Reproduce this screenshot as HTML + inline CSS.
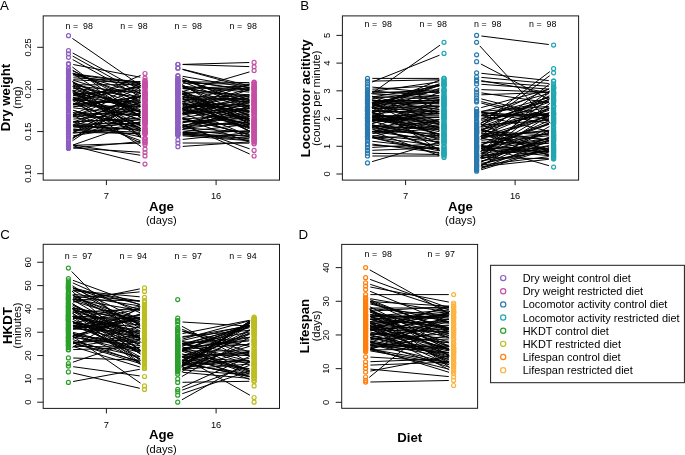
<!DOCTYPE html>
<html><head><meta charset="utf-8"><style>
html,body{margin:0;padding:0;background:#fff;width:685px;height:455px;overflow:hidden}
svg{display:block;will-change:transform}
text{font-family:"Liberation Sans", sans-serif}
</style></head><body><svg width="685" height="455" viewBox="0 0 685 455" font-family='"Liberation Sans", sans-serif'><path d="M72.4 38.4L141.1 85.9M72.9 104.8L140.6 75.4M73.2 145.9L140.3 162.9M72.7 53.0L140.8 90.1M72.7 56.1L140.8 93.9M72.7 59.6L140.8 97.0M73.0 115.8L140.5 140.7M73.3 121.8L140.2 118.1M73.3 148.0L140.2 152.2M72.7 70.3L140.8 106.6M73.3 87.8L140.2 97.3M73.2 135.7L140.3 125.7M73.0 73.1L140.5 98.6M73.1 74.0L140.4 92.8M73.3 115.4L140.2 110.4M73.3 130.1L140.2 122.2M73.0 86.0L140.5 112.2M73.2 115.3L140.3 99.6M73.3 103.4L140.2 111.5M72.5 140.7L141.0 95.4M73.2 99.4L140.3 115.9M73.3 129.3L140.2 132.3M73.1 80.2L140.4 100.6M73.1 97.1L140.4 114.7M73.1 99.1L140.4 119.6M73.0 132.5L140.5 106.0M73.3 117.1L140.2 109.8M72.9 82.5L140.6 112.9M73.2 122.0L140.3 136.9M73.3 124.2L140.2 123.2M72.5 100.0L141.0 146.5M73.3 94.0L140.2 103.1M72.9 97.2L140.6 125.4M72.4 67.1L141.1 117.9M73.3 106.1L140.2 106.3M73.2 106.9L140.3 96.5M73.3 79.7L140.2 83.4M73.3 121.4L140.2 119.8M72.5 73.4L141.0 117.8M73.1 88.1L140.4 109.6M73.2 90.1L140.3 105.9M73.0 145.0L140.5 121.6M72.8 70.9L140.7 102.8M72.9 114.7L140.6 83.4M73.3 128.0L140.2 122.8M73.3 112.7L140.2 115.3M72.7 132.7L140.8 95.4M72.2 81.3L141.3 137.8M73.2 64.5L140.3 77.2M73.0 122.2L140.5 96.8M73.3 73.8L140.2 82.3M72.7 92.9L140.8 128.6M73.3 74.4L140.2 83.3M73.3 132.2L140.2 133.6M73.3 125.2L140.2 130.3M73.1 83.3L140.4 104.5M72.8 125.2L140.7 93.2M73.3 103.4L140.2 101.1M72.7 98.9L140.8 136.7M73.2 101.2L140.3 86.1M73.3 93.8L140.2 90.6M73.3 119.1L140.2 113.2M73.1 110.4L140.4 127.8M73.1 91.4L140.4 111.1M73.3 130.3L140.2 134.0M73.3 84.9L140.2 84.6M73.1 110.2L140.4 131.5M73.3 114.0L140.2 123.4M72.4 139.0L141.1 90.5M72.5 90.6L141.0 135.7M73.2 145.0L140.3 155.2M73.3 104.8L140.2 97.2M73.2 95.4L140.3 107.3M72.5 86.4L141.0 130.7M72.9 116.7L140.6 87.6M73.1 99.0L140.4 81.5M73.3 77.8L140.2 81.8M73.2 75.7L140.3 86.2M73.3 85.7L140.2 93.2M72.9 84.8L140.6 115.3M73.3 133.3L140.2 124.3M72.8 137.6L140.7 102.0M73.3 126.2L140.2 129.3M72.9 112.4L140.6 142.8M72.7 91.8L140.8 128.9M73.0 103.2L140.5 130.1M73.3 126.4L140.2 119.7M73.3 147.9L140.2 141.6M73.0 126.2L140.5 102.1M73.0 94.0L140.5 120.2M73.3 99.4L140.2 105.1M72.8 90.5L140.7 125.7M72.9 81.9L140.6 111.6M73.3 95.5L140.2 86.6M73.3 107.8L140.2 115.8M73.3 145.3L140.2 143.1M73.2 99.6L140.3 87.2M73.0 137.3L140.5 113.2" stroke="#000" stroke-width="1.0" fill="none"/><circle cx="68.5" cy="35.7" r="2.0" fill="none" stroke="#8e5ec0" stroke-width="1.2"/><circle cx="68.5" cy="50.7" r="2.0" fill="none" stroke="#8e5ec0" stroke-width="1.2"/><circle cx="68.5" cy="53.8" r="2.0" fill="none" stroke="#8e5ec0" stroke-width="1.2"/><circle cx="68.5" cy="57.3" r="2.0" fill="none" stroke="#8e5ec0" stroke-width="1.2"/><circle cx="68.5" cy="63.7" r="2.0" fill="none" stroke="#8e5ec0" stroke-width="1.2"/><circle cx="68.5" cy="64.3" r="2.0" fill="none" stroke="#8e5ec0" stroke-width="1.2"/><circle cx="68.5" cy="68.0" r="2.0" fill="none" stroke="#8e5ec0" stroke-width="1.2"/><circle cx="68.5" cy="68.9" r="2.0" fill="none" stroke="#8e5ec0" stroke-width="1.2"/><circle cx="68.5" cy="70.7" r="2.0" fill="none" stroke="#8e5ec0" stroke-width="1.2"/><circle cx="68.5" cy="71.4" r="2.0" fill="none" stroke="#8e5ec0" stroke-width="1.2"/><circle cx="68.5" cy="72.7" r="2.0" fill="none" stroke="#8e5ec0" stroke-width="1.2"/><circle cx="68.5" cy="73.2" r="2.0" fill="none" stroke="#8e5ec0" stroke-width="1.2"/><circle cx="68.5" cy="73.8" r="2.0" fill="none" stroke="#8e5ec0" stroke-width="1.2"/><circle cx="68.5" cy="74.9" r="2.0" fill="none" stroke="#8e5ec0" stroke-width="1.2"/><circle cx="68.5" cy="77.5" r="2.0" fill="none" stroke="#8e5ec0" stroke-width="1.2"/><circle cx="68.5" cy="78.3" r="2.0" fill="none" stroke="#8e5ec0" stroke-width="1.2"/><circle cx="68.5" cy="78.8" r="2.0" fill="none" stroke="#8e5ec0" stroke-width="1.2"/><circle cx="68.5" cy="79.4" r="2.0" fill="none" stroke="#8e5ec0" stroke-width="1.2"/><circle cx="68.5" cy="80.0" r="2.0" fill="none" stroke="#8e5ec0" stroke-width="1.2"/><circle cx="68.5" cy="80.6" r="2.0" fill="none" stroke="#8e5ec0" stroke-width="1.2"/><circle cx="68.5" cy="81.8" r="2.0" fill="none" stroke="#8e5ec0" stroke-width="1.2"/><circle cx="68.5" cy="82.8" r="2.0" fill="none" stroke="#8e5ec0" stroke-width="1.2"/><circle cx="68.5" cy="83.8" r="2.0" fill="none" stroke="#8e5ec0" stroke-width="1.2"/><circle cx="68.5" cy="84.2" r="2.0" fill="none" stroke="#8e5ec0" stroke-width="1.2"/><circle cx="68.5" cy="84.9" r="2.0" fill="none" stroke="#8e5ec0" stroke-width="1.2"/><circle cx="68.5" cy="85.2" r="2.0" fill="none" stroke="#8e5ec0" stroke-width="1.2"/><circle cx="68.5" cy="86.6" r="2.0" fill="none" stroke="#8e5ec0" stroke-width="1.2"/><circle cx="68.5" cy="87.1" r="2.0" fill="none" stroke="#8e5ec0" stroke-width="1.2"/><circle cx="68.5" cy="88.0" r="2.0" fill="none" stroke="#8e5ec0" stroke-width="1.2"/><circle cx="68.5" cy="88.3" r="2.0" fill="none" stroke="#8e5ec0" stroke-width="1.2"/><circle cx="68.5" cy="89.0" r="2.0" fill="none" stroke="#8e5ec0" stroke-width="1.2"/><circle cx="68.5" cy="89.6" r="2.0" fill="none" stroke="#8e5ec0" stroke-width="1.2"/><circle cx="68.5" cy="90.1" r="2.0" fill="none" stroke="#8e5ec0" stroke-width="1.2"/><circle cx="68.5" cy="90.6" r="2.0" fill="none" stroke="#8e5ec0" stroke-width="1.2"/><circle cx="68.5" cy="92.2" r="2.0" fill="none" stroke="#8e5ec0" stroke-width="1.2"/><circle cx="68.5" cy="93.4" r="2.0" fill="none" stroke="#8e5ec0" stroke-width="1.2"/><circle cx="68.5" cy="94.1" r="2.0" fill="none" stroke="#8e5ec0" stroke-width="1.2"/><circle cx="68.5" cy="94.6" r="2.0" fill="none" stroke="#8e5ec0" stroke-width="1.2"/><circle cx="68.5" cy="95.3" r="2.0" fill="none" stroke="#8e5ec0" stroke-width="1.2"/><circle cx="68.5" cy="95.9" r="2.0" fill="none" stroke="#8e5ec0" stroke-width="1.2"/><circle cx="68.5" cy="96.1" r="2.0" fill="none" stroke="#8e5ec0" stroke-width="1.2"/><circle cx="68.5" cy="96.6" r="2.0" fill="none" stroke="#8e5ec0" stroke-width="1.2"/><circle cx="68.5" cy="97.3" r="2.0" fill="none" stroke="#8e5ec0" stroke-width="1.2"/><circle cx="68.5" cy="97.7" r="2.0" fill="none" stroke="#8e5ec0" stroke-width="1.2"/><circle cx="68.5" cy="98.3" r="2.0" fill="none" stroke="#8e5ec0" stroke-width="1.2"/><circle cx="68.5" cy="99.0" r="2.0" fill="none" stroke="#8e5ec0" stroke-width="1.2"/><circle cx="68.5" cy="100.2" r="2.0" fill="none" stroke="#8e5ec0" stroke-width="1.2"/><circle cx="68.5" cy="100.5" r="2.0" fill="none" stroke="#8e5ec0" stroke-width="1.2"/><circle cx="68.5" cy="101.4" r="2.0" fill="none" stroke="#8e5ec0" stroke-width="1.2"/><circle cx="68.5" cy="102.2" r="2.0" fill="none" stroke="#8e5ec0" stroke-width="1.2"/><circle cx="68.5" cy="102.9" r="2.0" fill="none" stroke="#8e5ec0" stroke-width="1.2"/><circle cx="68.5" cy="103.6" r="2.0" fill="none" stroke="#8e5ec0" stroke-width="1.2"/><circle cx="68.5" cy="105.4" r="2.0" fill="none" stroke="#8e5ec0" stroke-width="1.2"/><circle cx="68.5" cy="106.1" r="2.0" fill="none" stroke="#8e5ec0" stroke-width="1.2"/><circle cx="68.5" cy="106.7" r="2.0" fill="none" stroke="#8e5ec0" stroke-width="1.2"/><circle cx="68.5" cy="107.3" r="2.0" fill="none" stroke="#8e5ec0" stroke-width="1.2"/><circle cx="68.5" cy="107.6" r="2.0" fill="none" stroke="#8e5ec0" stroke-width="1.2"/><circle cx="68.5" cy="108.8" r="2.0" fill="none" stroke="#8e5ec0" stroke-width="1.2"/><circle cx="68.5" cy="109.2" r="2.0" fill="none" stroke="#8e5ec0" stroke-width="1.2"/><circle cx="68.5" cy="110.4" r="2.0" fill="none" stroke="#8e5ec0" stroke-width="1.2"/><circle cx="68.5" cy="112.5" r="2.0" fill="none" stroke="#8e5ec0" stroke-width="1.2"/><circle cx="68.5" cy="113.3" r="2.0" fill="none" stroke="#8e5ec0" stroke-width="1.2"/><circle cx="68.5" cy="114.2" r="2.0" fill="none" stroke="#8e5ec0" stroke-width="1.2"/><circle cx="68.5" cy="115.8" r="2.0" fill="none" stroke="#8e5ec0" stroke-width="1.2"/><circle cx="68.5" cy="116.4" r="2.0" fill="none" stroke="#8e5ec0" stroke-width="1.2"/><circle cx="68.5" cy="116.8" r="2.0" fill="none" stroke="#8e5ec0" stroke-width="1.2"/><circle cx="68.5" cy="117.6" r="2.0" fill="none" stroke="#8e5ec0" stroke-width="1.2"/><circle cx="68.5" cy="118.6" r="2.0" fill="none" stroke="#8e5ec0" stroke-width="1.2"/><circle cx="68.5" cy="119.5" r="2.0" fill="none" stroke="#8e5ec0" stroke-width="1.2"/><circle cx="68.5" cy="120.9" r="2.0" fill="none" stroke="#8e5ec0" stroke-width="1.2"/><circle cx="68.5" cy="121.5" r="2.0" fill="none" stroke="#8e5ec0" stroke-width="1.2"/><circle cx="68.5" cy="122.1" r="2.0" fill="none" stroke="#8e5ec0" stroke-width="1.2"/><circle cx="68.5" cy="123.8" r="2.0" fill="none" stroke="#8e5ec0" stroke-width="1.2"/><circle cx="68.5" cy="124.3" r="2.0" fill="none" stroke="#8e5ec0" stroke-width="1.2"/><circle cx="68.5" cy="124.8" r="2.0" fill="none" stroke="#8e5ec0" stroke-width="1.2"/><circle cx="68.5" cy="126.0" r="2.0" fill="none" stroke="#8e5ec0" stroke-width="1.2"/><circle cx="68.5" cy="126.9" r="2.0" fill="none" stroke="#8e5ec0" stroke-width="1.2"/><circle cx="68.5" cy="127.2" r="2.0" fill="none" stroke="#8e5ec0" stroke-width="1.2"/><circle cx="68.5" cy="127.8" r="2.0" fill="none" stroke="#8e5ec0" stroke-width="1.2"/><circle cx="68.5" cy="128.3" r="2.0" fill="none" stroke="#8e5ec0" stroke-width="1.2"/><circle cx="68.5" cy="129.1" r="2.0" fill="none" stroke="#8e5ec0" stroke-width="1.2"/><circle cx="68.5" cy="130.1" r="2.0" fill="none" stroke="#8e5ec0" stroke-width="1.2"/><circle cx="68.5" cy="130.7" r="2.0" fill="none" stroke="#8e5ec0" stroke-width="1.2"/><circle cx="68.5" cy="132.1" r="2.0" fill="none" stroke="#8e5ec0" stroke-width="1.2"/><circle cx="68.5" cy="133.9" r="2.0" fill="none" stroke="#8e5ec0" stroke-width="1.2"/><circle cx="68.5" cy="134.3" r="2.0" fill="none" stroke="#8e5ec0" stroke-width="1.2"/><circle cx="68.5" cy="135.1" r="2.0" fill="none" stroke="#8e5ec0" stroke-width="1.2"/><circle cx="68.5" cy="136.4" r="2.0" fill="none" stroke="#8e5ec0" stroke-width="1.2"/><circle cx="68.5" cy="138.9" r="2.0" fill="none" stroke="#8e5ec0" stroke-width="1.2"/><circle cx="68.5" cy="139.8" r="2.0" fill="none" stroke="#8e5ec0" stroke-width="1.2"/><circle cx="68.5" cy="141.7" r="2.0" fill="none" stroke="#8e5ec0" stroke-width="1.2"/><circle cx="68.5" cy="143.4" r="2.0" fill="none" stroke="#8e5ec0" stroke-width="1.2"/><circle cx="68.5" cy="144.3" r="2.0" fill="none" stroke="#8e5ec0" stroke-width="1.2"/><circle cx="68.5" cy="144.7" r="2.0" fill="none" stroke="#8e5ec0" stroke-width="1.2"/><circle cx="68.5" cy="145.4" r="2.0" fill="none" stroke="#8e5ec0" stroke-width="1.2"/><circle cx="68.5" cy="146.6" r="2.0" fill="none" stroke="#8e5ec0" stroke-width="1.2"/><circle cx="68.5" cy="147.7" r="2.0" fill="none" stroke="#8e5ec0" stroke-width="1.2"/><circle cx="68.5" cy="148.4" r="2.0" fill="none" stroke="#8e5ec0" stroke-width="1.2"/><circle cx="145.0" cy="73.5" r="2.0" fill="none" stroke="#c54fa5" stroke-width="1.2"/><circle cx="145.0" cy="149.2" r="2.0" fill="none" stroke="#c54fa5" stroke-width="1.2"/><circle cx="145.0" cy="152.5" r="2.0" fill="none" stroke="#c54fa5" stroke-width="1.2"/><circle cx="145.0" cy="155.9" r="2.0" fill="none" stroke="#c54fa5" stroke-width="1.2"/><circle cx="145.0" cy="164.1" r="2.0" fill="none" stroke="#c54fa5" stroke-width="1.2"/><circle cx="145.0" cy="78.1" r="2.0" fill="none" stroke="#c54fa5" stroke-width="1.2"/><circle cx="145.0" cy="80.3" r="2.0" fill="none" stroke="#c54fa5" stroke-width="1.2"/><circle cx="145.0" cy="81.4" r="2.0" fill="none" stroke="#c54fa5" stroke-width="1.2"/><circle cx="145.0" cy="82.0" r="2.0" fill="none" stroke="#c54fa5" stroke-width="1.2"/><circle cx="145.0" cy="82.9" r="2.0" fill="none" stroke="#c54fa5" stroke-width="1.2"/><circle cx="145.0" cy="83.7" r="2.0" fill="none" stroke="#c54fa5" stroke-width="1.2"/><circle cx="145.0" cy="83.9" r="2.0" fill="none" stroke="#c54fa5" stroke-width="1.2"/><circle cx="145.0" cy="84.6" r="2.0" fill="none" stroke="#c54fa5" stroke-width="1.2"/><circle cx="145.0" cy="85.0" r="2.0" fill="none" stroke="#c54fa5" stroke-width="1.2"/><circle cx="145.0" cy="85.7" r="2.0" fill="none" stroke="#c54fa5" stroke-width="1.2"/><circle cx="145.0" cy="86.0" r="2.0" fill="none" stroke="#c54fa5" stroke-width="1.2"/><circle cx="145.0" cy="86.4" r="2.0" fill="none" stroke="#c54fa5" stroke-width="1.2"/><circle cx="145.0" cy="86.9" r="2.0" fill="none" stroke="#c54fa5" stroke-width="1.2"/><circle cx="145.0" cy="87.7" r="2.0" fill="none" stroke="#c54fa5" stroke-width="1.2"/><circle cx="145.0" cy="88.6" r="2.0" fill="none" stroke="#c54fa5" stroke-width="1.2"/><circle cx="145.0" cy="90.4" r="2.0" fill="none" stroke="#c54fa5" stroke-width="1.2"/><circle cx="145.0" cy="91.2" r="2.0" fill="none" stroke="#c54fa5" stroke-width="1.2"/><circle cx="145.0" cy="92.4" r="2.0" fill="none" stroke="#c54fa5" stroke-width="1.2"/><circle cx="145.0" cy="92.8" r="2.0" fill="none" stroke="#c54fa5" stroke-width="1.2"/><circle cx="145.0" cy="93.1" r="2.0" fill="none" stroke="#c54fa5" stroke-width="1.2"/><circle cx="145.0" cy="93.8" r="2.0" fill="none" stroke="#c54fa5" stroke-width="1.2"/><circle cx="145.0" cy="94.1" r="2.0" fill="none" stroke="#c54fa5" stroke-width="1.2"/><circle cx="145.0" cy="95.1" r="2.0" fill="none" stroke="#c54fa5" stroke-width="1.2"/><circle cx="145.0" cy="95.8" r="2.0" fill="none" stroke="#c54fa5" stroke-width="1.2"/><circle cx="145.0" cy="96.2" r="2.0" fill="none" stroke="#c54fa5" stroke-width="1.2"/><circle cx="145.0" cy="96.6" r="2.0" fill="none" stroke="#c54fa5" stroke-width="1.2"/><circle cx="145.0" cy="98.0" r="2.0" fill="none" stroke="#c54fa5" stroke-width="1.2"/><circle cx="145.0" cy="98.5" r="2.0" fill="none" stroke="#c54fa5" stroke-width="1.2"/><circle cx="145.0" cy="99.3" r="2.0" fill="none" stroke="#c54fa5" stroke-width="1.2"/><circle cx="145.0" cy="99.7" r="2.0" fill="none" stroke="#c54fa5" stroke-width="1.2"/><circle cx="145.0" cy="100.3" r="2.0" fill="none" stroke="#c54fa5" stroke-width="1.2"/><circle cx="145.0" cy="100.5" r="2.0" fill="none" stroke="#c54fa5" stroke-width="1.2"/><circle cx="145.0" cy="100.9" r="2.0" fill="none" stroke="#c54fa5" stroke-width="1.2"/><circle cx="145.0" cy="102.0" r="2.0" fill="none" stroke="#c54fa5" stroke-width="1.2"/><circle cx="145.0" cy="103.8" r="2.0" fill="none" stroke="#c54fa5" stroke-width="1.2"/><circle cx="145.0" cy="104.2" r="2.0" fill="none" stroke="#c54fa5" stroke-width="1.2"/><circle cx="145.0" cy="104.8" r="2.0" fill="none" stroke="#c54fa5" stroke-width="1.2"/><circle cx="145.0" cy="105.5" r="2.0" fill="none" stroke="#c54fa5" stroke-width="1.2"/><circle cx="145.0" cy="105.9" r="2.0" fill="none" stroke="#c54fa5" stroke-width="1.2"/><circle cx="145.0" cy="106.3" r="2.0" fill="none" stroke="#c54fa5" stroke-width="1.2"/><circle cx="145.0" cy="107.0" r="2.0" fill="none" stroke="#c54fa5" stroke-width="1.2"/><circle cx="145.0" cy="108.1" r="2.0" fill="none" stroke="#c54fa5" stroke-width="1.2"/><circle cx="145.0" cy="108.9" r="2.0" fill="none" stroke="#c54fa5" stroke-width="1.2"/><circle cx="145.0" cy="109.3" r="2.0" fill="none" stroke="#c54fa5" stroke-width="1.2"/><circle cx="145.0" cy="110.1" r="2.0" fill="none" stroke="#c54fa5" stroke-width="1.2"/><circle cx="145.0" cy="111.1" r="2.0" fill="none" stroke="#c54fa5" stroke-width="1.2"/><circle cx="145.0" cy="111.6" r="2.0" fill="none" stroke="#c54fa5" stroke-width="1.2"/><circle cx="145.0" cy="112.1" r="2.0" fill="none" stroke="#c54fa5" stroke-width="1.2"/><circle cx="145.0" cy="112.5" r="2.0" fill="none" stroke="#c54fa5" stroke-width="1.2"/><circle cx="145.0" cy="112.8" r="2.0" fill="none" stroke="#c54fa5" stroke-width="1.2"/><circle cx="145.0" cy="113.6" r="2.0" fill="none" stroke="#c54fa5" stroke-width="1.2"/><circle cx="145.0" cy="113.9" r="2.0" fill="none" stroke="#c54fa5" stroke-width="1.2"/><circle cx="145.0" cy="114.8" r="2.0" fill="none" stroke="#c54fa5" stroke-width="1.2"/><circle cx="145.0" cy="115.4" r="2.0" fill="none" stroke="#c54fa5" stroke-width="1.2"/><circle cx="145.0" cy="115.9" r="2.0" fill="none" stroke="#c54fa5" stroke-width="1.2"/><circle cx="145.0" cy="116.3" r="2.0" fill="none" stroke="#c54fa5" stroke-width="1.2"/><circle cx="145.0" cy="117.0" r="2.0" fill="none" stroke="#c54fa5" stroke-width="1.2"/><circle cx="145.0" cy="117.3" r="2.0" fill="none" stroke="#c54fa5" stroke-width="1.2"/><circle cx="145.0" cy="117.9" r="2.0" fill="none" stroke="#c54fa5" stroke-width="1.2"/><circle cx="145.0" cy="119.2" r="2.0" fill="none" stroke="#c54fa5" stroke-width="1.2"/><circle cx="145.0" cy="119.7" r="2.0" fill="none" stroke="#c54fa5" stroke-width="1.2"/><circle cx="145.0" cy="120.0" r="2.0" fill="none" stroke="#c54fa5" stroke-width="1.2"/><circle cx="145.0" cy="120.4" r="2.0" fill="none" stroke="#c54fa5" stroke-width="1.2"/><circle cx="145.0" cy="120.7" r="2.0" fill="none" stroke="#c54fa5" stroke-width="1.2"/><circle cx="145.0" cy="121.0" r="2.0" fill="none" stroke="#c54fa5" stroke-width="1.2"/><circle cx="145.0" cy="121.6" r="2.0" fill="none" stroke="#c54fa5" stroke-width="1.2"/><circle cx="145.0" cy="122.0" r="2.0" fill="none" stroke="#c54fa5" stroke-width="1.2"/><circle cx="145.0" cy="122.4" r="2.0" fill="none" stroke="#c54fa5" stroke-width="1.2"/><circle cx="145.0" cy="123.1" r="2.0" fill="none" stroke="#c54fa5" stroke-width="1.2"/><circle cx="145.0" cy="123.6" r="2.0" fill="none" stroke="#c54fa5" stroke-width="1.2"/><circle cx="145.0" cy="124.1" r="2.0" fill="none" stroke="#c54fa5" stroke-width="1.2"/><circle cx="145.0" cy="125.0" r="2.0" fill="none" stroke="#c54fa5" stroke-width="1.2"/><circle cx="145.0" cy="127.2" r="2.0" fill="none" stroke="#c54fa5" stroke-width="1.2"/><circle cx="145.0" cy="127.9" r="2.0" fill="none" stroke="#c54fa5" stroke-width="1.2"/><circle cx="145.0" cy="129.0" r="2.0" fill="none" stroke="#c54fa5" stroke-width="1.2"/><circle cx="145.0" cy="129.5" r="2.0" fill="none" stroke="#c54fa5" stroke-width="1.2"/><circle cx="145.0" cy="130.7" r="2.0" fill="none" stroke="#c54fa5" stroke-width="1.2"/><circle cx="145.0" cy="130.9" r="2.0" fill="none" stroke="#c54fa5" stroke-width="1.2"/><circle cx="145.0" cy="131.2" r="2.0" fill="none" stroke="#c54fa5" stroke-width="1.2"/><circle cx="145.0" cy="131.8" r="2.0" fill="none" stroke="#c54fa5" stroke-width="1.2"/><circle cx="145.0" cy="132.6" r="2.0" fill="none" stroke="#c54fa5" stroke-width="1.2"/><circle cx="145.0" cy="132.9" r="2.0" fill="none" stroke="#c54fa5" stroke-width="1.2"/><circle cx="145.0" cy="133.3" r="2.0" fill="none" stroke="#c54fa5" stroke-width="1.2"/><circle cx="145.0" cy="133.7" r="2.0" fill="none" stroke="#c54fa5" stroke-width="1.2"/><circle cx="145.0" cy="134.2" r="2.0" fill="none" stroke="#c54fa5" stroke-width="1.2"/><circle cx="145.0" cy="138.0" r="2.0" fill="none" stroke="#c54fa5" stroke-width="1.2"/><circle cx="145.0" cy="138.4" r="2.0" fill="none" stroke="#c54fa5" stroke-width="1.2"/><circle cx="145.0" cy="139.1" r="2.0" fill="none" stroke="#c54fa5" stroke-width="1.2"/><circle cx="145.0" cy="140.8" r="2.0" fill="none" stroke="#c54fa5" stroke-width="1.2"/><circle cx="145.0" cy="141.1" r="2.0" fill="none" stroke="#c54fa5" stroke-width="1.2"/><circle cx="145.0" cy="142.4" r="2.0" fill="none" stroke="#c54fa5" stroke-width="1.2"/><circle cx="145.0" cy="143.0" r="2.0" fill="none" stroke="#c54fa5" stroke-width="1.2"/><circle cx="145.0" cy="144.8" r="2.0" fill="none" stroke="#c54fa5" stroke-width="1.2"/><path d="M182.7 64.5L249.3 66.6M182.7 64.4L249.3 62.5M182.6 69.2L249.4 85.9M182.5 91.6L249.5 71.9M182.7 146.4L249.3 141.9M182.7 143.0L249.3 143.2M182.3 123.9L249.7 154.0M182.7 139.4L249.3 132.6M182.5 109.8L249.5 88.0M182.7 99.0L249.3 98.3M182.6 114.1L249.4 101.4M182.4 127.1L249.6 101.0M182.7 81.7L249.3 82.6M182.6 125.7L249.4 110.9M182.3 78.0L249.7 106.9M182.6 76.3L249.4 88.0M182.7 106.7L249.3 106.0M182.5 110.2L249.5 127.4M182.7 119.6L249.3 126.7M182.6 80.2L249.4 90.8M182.6 109.6L249.4 123.7M182.7 111.4L249.3 103.2M182.7 129.6L249.3 136.6M182.6 108.9L249.4 124.8M182.7 119.1L249.3 114.3M182.7 88.6L249.3 85.9M182.3 108.2L249.7 135.9M182.6 101.2L249.4 111.9M182.4 125.7L249.6 148.8M182.7 87.6L249.3 89.3M182.3 94.4L249.7 123.6M182.7 122.4L249.3 115.6M182.7 134.4L249.3 135.9M182.6 118.8L249.4 134.3M182.6 115.1L249.4 105.1M182.7 103.9L249.3 111.3M182.7 127.9L249.3 132.1M182.7 121.2L249.3 126.1M182.7 133.8L249.3 140.2M182.6 118.1L249.4 134.4M182.3 91.3L249.7 121.2M182.6 99.2L249.4 114.3M182.7 88.6L249.3 96.5M182.7 83.2L249.3 84.3M182.7 129.0L249.3 119.8M182.7 125.3L249.3 116.5M182.3 85.8L249.7 116.5M182.7 133.7L249.3 130.8M182.5 113.0L249.5 95.7M182.3 91.0L249.7 118.4M182.6 117.5L249.4 107.7M182.7 107.6L249.3 100.6M182.7 94.5L249.3 102.2M182.4 80.0L249.6 102.7M182.4 108.7L249.6 83.9M182.6 114.2L249.4 97.4M182.5 69.5L249.5 87.9M182.7 121.9L249.3 118.3M182.6 122.7L249.4 108.7M182.7 99.7L249.3 99.7M182.4 113.4L249.6 137.3M182.7 104.0L249.3 105.0M182.4 94.0L249.6 120.7M182.5 104.2L249.5 126.1M182.7 131.9L249.3 124.2M182.4 81.8L249.6 107.8M182.7 113.5L249.3 111.0M182.7 112.6L249.3 108.6M182.7 93.8L249.3 87.8M182.4 102.9L249.6 128.0M182.7 81.1L249.3 89.6M182.7 92.0L249.3 94.7M182.6 108.6L249.4 94.5M182.4 118.3L249.6 142.2M182.3 92.9L249.7 120.2M182.7 135.8L249.3 140.7M182.7 97.5L249.3 95.9M182.5 111.1L249.5 89.7M182.6 105.3L249.4 120.0M182.6 103.1L249.4 118.4M182.4 129.6L249.6 105.5M182.3 101.4L249.7 131.1M182.7 132.3L249.3 138.9M182.6 127.4L249.4 112.2M182.7 86.2L249.3 92.1M182.7 126.8L249.3 122.1M182.6 96.2L249.4 111.2M182.7 135.0L249.3 138.0M182.6 101.4L249.4 84.4M182.1 93.1L249.9 131.4M182.5 80.2L249.5 99.5M182.0 84.5L250.0 124.4M182.2 98.0L249.8 131.3M182.6 87.0L249.4 100.6M182.5 86.7L249.5 108.9M182.4 96.4L249.6 122.3M182.5 106.8L249.5 128.7M182.7 132.7L249.3 131.1" stroke="#000" stroke-width="1.0" fill="none"/><circle cx="177.9" cy="64.3" r="2.0" fill="none" stroke="#8e5ec0" stroke-width="1.2"/><circle cx="177.9" cy="64.5" r="2.0" fill="none" stroke="#8e5ec0" stroke-width="1.2"/><circle cx="177.9" cy="68.0" r="2.0" fill="none" stroke="#8e5ec0" stroke-width="1.2"/><circle cx="177.9" cy="68.2" r="2.0" fill="none" stroke="#8e5ec0" stroke-width="1.2"/><circle cx="177.9" cy="139.9" r="2.0" fill="none" stroke="#8e5ec0" stroke-width="1.2"/><circle cx="177.9" cy="143.0" r="2.0" fill="none" stroke="#8e5ec0" stroke-width="1.2"/><circle cx="177.9" cy="146.7" r="2.0" fill="none" stroke="#8e5ec0" stroke-width="1.2"/><circle cx="177.9" cy="75.5" r="2.0" fill="none" stroke="#8e5ec0" stroke-width="1.2"/><circle cx="177.9" cy="76.1" r="2.0" fill="none" stroke="#8e5ec0" stroke-width="1.2"/><circle cx="177.9" cy="78.5" r="2.0" fill="none" stroke="#8e5ec0" stroke-width="1.2"/><circle cx="177.9" cy="78.9" r="2.0" fill="none" stroke="#8e5ec0" stroke-width="1.2"/><circle cx="177.9" cy="79.5" r="2.0" fill="none" stroke="#8e5ec0" stroke-width="1.2"/><circle cx="177.9" cy="80.1" r="2.0" fill="none" stroke="#8e5ec0" stroke-width="1.2"/><circle cx="177.9" cy="80.5" r="2.0" fill="none" stroke="#8e5ec0" stroke-width="1.2"/><circle cx="177.9" cy="81.7" r="2.0" fill="none" stroke="#8e5ec0" stroke-width="1.2"/><circle cx="177.9" cy="82.0" r="2.0" fill="none" stroke="#8e5ec0" stroke-width="1.2"/><circle cx="177.9" cy="83.1" r="2.0" fill="none" stroke="#8e5ec0" stroke-width="1.2"/><circle cx="177.9" cy="83.9" r="2.0" fill="none" stroke="#8e5ec0" stroke-width="1.2"/><circle cx="177.9" cy="85.2" r="2.0" fill="none" stroke="#8e5ec0" stroke-width="1.2"/><circle cx="177.9" cy="85.7" r="2.0" fill="none" stroke="#8e5ec0" stroke-width="1.2"/><circle cx="177.9" cy="86.1" r="2.0" fill="none" stroke="#8e5ec0" stroke-width="1.2"/><circle cx="177.9" cy="87.4" r="2.0" fill="none" stroke="#8e5ec0" stroke-width="1.2"/><circle cx="177.9" cy="88.0" r="2.0" fill="none" stroke="#8e5ec0" stroke-width="1.2"/><circle cx="177.9" cy="88.8" r="2.0" fill="none" stroke="#8e5ec0" stroke-width="1.2"/><circle cx="177.9" cy="89.1" r="2.0" fill="none" stroke="#8e5ec0" stroke-width="1.2"/><circle cx="177.9" cy="89.4" r="2.0" fill="none" stroke="#8e5ec0" stroke-width="1.2"/><circle cx="177.9" cy="90.7" r="2.0" fill="none" stroke="#8e5ec0" stroke-width="1.2"/><circle cx="177.9" cy="91.1" r="2.0" fill="none" stroke="#8e5ec0" stroke-width="1.2"/><circle cx="177.9" cy="91.8" r="2.0" fill="none" stroke="#8e5ec0" stroke-width="1.2"/><circle cx="177.9" cy="92.2" r="2.0" fill="none" stroke="#8e5ec0" stroke-width="1.2"/><circle cx="177.9" cy="92.5" r="2.0" fill="none" stroke="#8e5ec0" stroke-width="1.2"/><circle cx="177.9" cy="92.9" r="2.0" fill="none" stroke="#8e5ec0" stroke-width="1.2"/><circle cx="177.9" cy="93.9" r="2.0" fill="none" stroke="#8e5ec0" stroke-width="1.2"/><circle cx="177.9" cy="94.2" r="2.0" fill="none" stroke="#8e5ec0" stroke-width="1.2"/><circle cx="177.9" cy="94.7" r="2.0" fill="none" stroke="#8e5ec0" stroke-width="1.2"/><circle cx="177.9" cy="95.1" r="2.0" fill="none" stroke="#8e5ec0" stroke-width="1.2"/><circle cx="177.9" cy="95.9" r="2.0" fill="none" stroke="#8e5ec0" stroke-width="1.2"/><circle cx="177.9" cy="97.6" r="2.0" fill="none" stroke="#8e5ec0" stroke-width="1.2"/><circle cx="177.9" cy="98.1" r="2.0" fill="none" stroke="#8e5ec0" stroke-width="1.2"/><circle cx="177.9" cy="99.0" r="2.0" fill="none" stroke="#8e5ec0" stroke-width="1.2"/><circle cx="177.9" cy="99.4" r="2.0" fill="none" stroke="#8e5ec0" stroke-width="1.2"/><circle cx="177.9" cy="99.7" r="2.0" fill="none" stroke="#8e5ec0" stroke-width="1.2"/><circle cx="177.9" cy="100.4" r="2.0" fill="none" stroke="#8e5ec0" stroke-width="1.2"/><circle cx="177.9" cy="101.2" r="2.0" fill="none" stroke="#8e5ec0" stroke-width="1.2"/><circle cx="177.9" cy="102.1" r="2.0" fill="none" stroke="#8e5ec0" stroke-width="1.2"/><circle cx="177.9" cy="102.5" r="2.0" fill="none" stroke="#8e5ec0" stroke-width="1.2"/><circle cx="177.9" cy="102.7" r="2.0" fill="none" stroke="#8e5ec0" stroke-width="1.2"/><circle cx="177.9" cy="103.4" r="2.0" fill="none" stroke="#8e5ec0" stroke-width="1.2"/><circle cx="177.9" cy="103.9" r="2.0" fill="none" stroke="#8e5ec0" stroke-width="1.2"/><circle cx="177.9" cy="104.3" r="2.0" fill="none" stroke="#8e5ec0" stroke-width="1.2"/><circle cx="177.9" cy="105.3" r="2.0" fill="none" stroke="#8e5ec0" stroke-width="1.2"/><circle cx="177.9" cy="106.4" r="2.0" fill="none" stroke="#8e5ec0" stroke-width="1.2"/><circle cx="177.9" cy="106.8" r="2.0" fill="none" stroke="#8e5ec0" stroke-width="1.2"/><circle cx="177.9" cy="107.8" r="2.0" fill="none" stroke="#8e5ec0" stroke-width="1.2"/><circle cx="177.9" cy="108.1" r="2.0" fill="none" stroke="#8e5ec0" stroke-width="1.2"/><circle cx="177.9" cy="108.7" r="2.0" fill="none" stroke="#8e5ec0" stroke-width="1.2"/><circle cx="177.9" cy="109.0" r="2.0" fill="none" stroke="#8e5ec0" stroke-width="1.2"/><circle cx="177.9" cy="109.5" r="2.0" fill="none" stroke="#8e5ec0" stroke-width="1.2"/><circle cx="177.9" cy="110.4" r="2.0" fill="none" stroke="#8e5ec0" stroke-width="1.2"/><circle cx="177.9" cy="111.3" r="2.0" fill="none" stroke="#8e5ec0" stroke-width="1.2"/><circle cx="177.9" cy="111.8" r="2.0" fill="none" stroke="#8e5ec0" stroke-width="1.2"/><circle cx="177.9" cy="112.0" r="2.0" fill="none" stroke="#8e5ec0" stroke-width="1.2"/><circle cx="177.9" cy="112.6" r="2.0" fill="none" stroke="#8e5ec0" stroke-width="1.2"/><circle cx="177.9" cy="112.9" r="2.0" fill="none" stroke="#8e5ec0" stroke-width="1.2"/><circle cx="177.9" cy="113.7" r="2.0" fill="none" stroke="#8e5ec0" stroke-width="1.2"/><circle cx="177.9" cy="114.2" r="2.0" fill="none" stroke="#8e5ec0" stroke-width="1.2"/><circle cx="177.9" cy="115.0" r="2.0" fill="none" stroke="#8e5ec0" stroke-width="1.2"/><circle cx="177.9" cy="115.4" r="2.0" fill="none" stroke="#8e5ec0" stroke-width="1.2"/><circle cx="177.9" cy="115.8" r="2.0" fill="none" stroke="#8e5ec0" stroke-width="1.2"/><circle cx="177.9" cy="116.7" r="2.0" fill="none" stroke="#8e5ec0" stroke-width="1.2"/><circle cx="177.9" cy="117.0" r="2.0" fill="none" stroke="#8e5ec0" stroke-width="1.2"/><circle cx="177.9" cy="117.7" r="2.0" fill="none" stroke="#8e5ec0" stroke-width="1.2"/><circle cx="177.9" cy="118.2" r="2.0" fill="none" stroke="#8e5ec0" stroke-width="1.2"/><circle cx="177.9" cy="119.1" r="2.0" fill="none" stroke="#8e5ec0" stroke-width="1.2"/><circle cx="177.9" cy="119.5" r="2.0" fill="none" stroke="#8e5ec0" stroke-width="1.2"/><circle cx="177.9" cy="120.9" r="2.0" fill="none" stroke="#8e5ec0" stroke-width="1.2"/><circle cx="177.9" cy="121.9" r="2.0" fill="none" stroke="#8e5ec0" stroke-width="1.2"/><circle cx="177.9" cy="122.2" r="2.0" fill="none" stroke="#8e5ec0" stroke-width="1.2"/><circle cx="177.9" cy="122.9" r="2.0" fill="none" stroke="#8e5ec0" stroke-width="1.2"/><circle cx="177.9" cy="123.6" r="2.0" fill="none" stroke="#8e5ec0" stroke-width="1.2"/><circle cx="177.9" cy="124.1" r="2.0" fill="none" stroke="#8e5ec0" stroke-width="1.2"/><circle cx="177.9" cy="125.9" r="2.0" fill="none" stroke="#8e5ec0" stroke-width="1.2"/><circle cx="177.9" cy="126.8" r="2.0" fill="none" stroke="#8e5ec0" stroke-width="1.2"/><circle cx="177.9" cy="127.1" r="2.0" fill="none" stroke="#8e5ec0" stroke-width="1.2"/><circle cx="177.9" cy="127.6" r="2.0" fill="none" stroke="#8e5ec0" stroke-width="1.2"/><circle cx="177.9" cy="128.4" r="2.0" fill="none" stroke="#8e5ec0" stroke-width="1.2"/><circle cx="177.9" cy="128.8" r="2.0" fill="none" stroke="#8e5ec0" stroke-width="1.2"/><circle cx="177.9" cy="129.1" r="2.0" fill="none" stroke="#8e5ec0" stroke-width="1.2"/><circle cx="177.9" cy="129.6" r="2.0" fill="none" stroke="#8e5ec0" stroke-width="1.2"/><circle cx="177.9" cy="131.3" r="2.0" fill="none" stroke="#8e5ec0" stroke-width="1.2"/><circle cx="177.9" cy="131.9" r="2.0" fill="none" stroke="#8e5ec0" stroke-width="1.2"/><circle cx="177.9" cy="132.4" r="2.0" fill="none" stroke="#8e5ec0" stroke-width="1.2"/><circle cx="177.9" cy="132.8" r="2.0" fill="none" stroke="#8e5ec0" stroke-width="1.2"/><circle cx="177.9" cy="133.4" r="2.0" fill="none" stroke="#8e5ec0" stroke-width="1.2"/><circle cx="177.9" cy="133.9" r="2.0" fill="none" stroke="#8e5ec0" stroke-width="1.2"/><circle cx="177.9" cy="134.3" r="2.0" fill="none" stroke="#8e5ec0" stroke-width="1.2"/><circle cx="177.9" cy="134.7" r="2.0" fill="none" stroke="#8e5ec0" stroke-width="1.2"/><circle cx="177.9" cy="135.4" r="2.0" fill="none" stroke="#8e5ec0" stroke-width="1.2"/><circle cx="254.1" cy="62.4" r="2.0" fill="none" stroke="#c54fa5" stroke-width="1.2"/><circle cx="254.1" cy="66.8" r="2.0" fill="none" stroke="#c54fa5" stroke-width="1.2"/><circle cx="254.1" cy="70.5" r="2.0" fill="none" stroke="#c54fa5" stroke-width="1.2"/><circle cx="254.1" cy="150.4" r="2.0" fill="none" stroke="#c54fa5" stroke-width="1.2"/><circle cx="254.1" cy="156.0" r="2.0" fill="none" stroke="#c54fa5" stroke-width="1.2"/><circle cx="254.1" cy="82.2" r="2.0" fill="none" stroke="#c54fa5" stroke-width="1.2"/><circle cx="254.1" cy="82.7" r="2.0" fill="none" stroke="#c54fa5" stroke-width="1.2"/><circle cx="254.1" cy="83.2" r="2.0" fill="none" stroke="#c54fa5" stroke-width="1.2"/><circle cx="254.1" cy="84.4" r="2.0" fill="none" stroke="#c54fa5" stroke-width="1.2"/><circle cx="254.1" cy="85.7" r="2.0" fill="none" stroke="#c54fa5" stroke-width="1.2"/><circle cx="254.1" cy="86.5" r="2.0" fill="none" stroke="#c54fa5" stroke-width="1.2"/><circle cx="254.1" cy="87.0" r="2.0" fill="none" stroke="#c54fa5" stroke-width="1.2"/><circle cx="254.1" cy="87.4" r="2.0" fill="none" stroke="#c54fa5" stroke-width="1.2"/><circle cx="254.1" cy="88.3" r="2.0" fill="none" stroke="#c54fa5" stroke-width="1.2"/><circle cx="254.1" cy="88.8" r="2.0" fill="none" stroke="#c54fa5" stroke-width="1.2"/><circle cx="254.1" cy="89.2" r="2.0" fill="none" stroke="#c54fa5" stroke-width="1.2"/><circle cx="254.1" cy="89.4" r="2.0" fill="none" stroke="#c54fa5" stroke-width="1.2"/><circle cx="254.1" cy="90.2" r="2.0" fill="none" stroke="#c54fa5" stroke-width="1.2"/><circle cx="254.1" cy="91.5" r="2.0" fill="none" stroke="#c54fa5" stroke-width="1.2"/><circle cx="254.1" cy="92.5" r="2.0" fill="none" stroke="#c54fa5" stroke-width="1.2"/><circle cx="254.1" cy="93.6" r="2.0" fill="none" stroke="#c54fa5" stroke-width="1.2"/><circle cx="254.1" cy="94.5" r="2.0" fill="none" stroke="#c54fa5" stroke-width="1.2"/><circle cx="254.1" cy="94.9" r="2.0" fill="none" stroke="#c54fa5" stroke-width="1.2"/><circle cx="254.1" cy="95.8" r="2.0" fill="none" stroke="#c54fa5" stroke-width="1.2"/><circle cx="254.1" cy="96.2" r="2.0" fill="none" stroke="#c54fa5" stroke-width="1.2"/><circle cx="254.1" cy="97.1" r="2.0" fill="none" stroke="#c54fa5" stroke-width="1.2"/><circle cx="254.1" cy="98.3" r="2.0" fill="none" stroke="#c54fa5" stroke-width="1.2"/><circle cx="254.1" cy="99.3" r="2.0" fill="none" stroke="#c54fa5" stroke-width="1.2"/><circle cx="254.1" cy="99.7" r="2.0" fill="none" stroke="#c54fa5" stroke-width="1.2"/><circle cx="254.1" cy="100.1" r="2.0" fill="none" stroke="#c54fa5" stroke-width="1.2"/><circle cx="254.1" cy="100.5" r="2.0" fill="none" stroke="#c54fa5" stroke-width="1.2"/><circle cx="254.1" cy="100.8" r="2.0" fill="none" stroke="#c54fa5" stroke-width="1.2"/><circle cx="254.1" cy="101.6" r="2.0" fill="none" stroke="#c54fa5" stroke-width="1.2"/><circle cx="254.1" cy="102.6" r="2.0" fill="none" stroke="#c54fa5" stroke-width="1.2"/><circle cx="254.1" cy="102.8" r="2.0" fill="none" stroke="#c54fa5" stroke-width="1.2"/><circle cx="254.1" cy="103.9" r="2.0" fill="none" stroke="#c54fa5" stroke-width="1.2"/><circle cx="254.1" cy="104.2" r="2.0" fill="none" stroke="#c54fa5" stroke-width="1.2"/><circle cx="254.1" cy="104.4" r="2.0" fill="none" stroke="#c54fa5" stroke-width="1.2"/><circle cx="254.1" cy="105.1" r="2.0" fill="none" stroke="#c54fa5" stroke-width="1.2"/><circle cx="254.1" cy="105.9" r="2.0" fill="none" stroke="#c54fa5" stroke-width="1.2"/><circle cx="254.1" cy="107.0" r="2.0" fill="none" stroke="#c54fa5" stroke-width="1.2"/><circle cx="254.1" cy="107.8" r="2.0" fill="none" stroke="#c54fa5" stroke-width="1.2"/><circle cx="254.1" cy="108.4" r="2.0" fill="none" stroke="#c54fa5" stroke-width="1.2"/><circle cx="254.1" cy="108.8" r="2.0" fill="none" stroke="#c54fa5" stroke-width="1.2"/><circle cx="254.1" cy="109.5" r="2.0" fill="none" stroke="#c54fa5" stroke-width="1.2"/><circle cx="254.1" cy="109.8" r="2.0" fill="none" stroke="#c54fa5" stroke-width="1.2"/><circle cx="254.1" cy="110.4" r="2.0" fill="none" stroke="#c54fa5" stroke-width="1.2"/><circle cx="254.1" cy="110.9" r="2.0" fill="none" stroke="#c54fa5" stroke-width="1.2"/><circle cx="254.1" cy="111.2" r="2.0" fill="none" stroke="#c54fa5" stroke-width="1.2"/><circle cx="254.1" cy="111.8" r="2.0" fill="none" stroke="#c54fa5" stroke-width="1.2"/><circle cx="254.1" cy="112.3" r="2.0" fill="none" stroke="#c54fa5" stroke-width="1.2"/><circle cx="254.1" cy="112.7" r="2.0" fill="none" stroke="#c54fa5" stroke-width="1.2"/><circle cx="254.1" cy="114.0" r="2.0" fill="none" stroke="#c54fa5" stroke-width="1.2"/><circle cx="254.1" cy="115.1" r="2.0" fill="none" stroke="#c54fa5" stroke-width="1.2"/><circle cx="254.1" cy="115.4" r="2.0" fill="none" stroke="#c54fa5" stroke-width="1.2"/><circle cx="254.1" cy="115.9" r="2.0" fill="none" stroke="#c54fa5" stroke-width="1.2"/><circle cx="254.1" cy="118.1" r="2.0" fill="none" stroke="#c54fa5" stroke-width="1.2"/><circle cx="254.1" cy="118.5" r="2.0" fill="none" stroke="#c54fa5" stroke-width="1.2"/><circle cx="254.1" cy="119.2" r="2.0" fill="none" stroke="#c54fa5" stroke-width="1.2"/><circle cx="254.1" cy="119.5" r="2.0" fill="none" stroke="#c54fa5" stroke-width="1.2"/><circle cx="254.1" cy="120.2" r="2.0" fill="none" stroke="#c54fa5" stroke-width="1.2"/><circle cx="254.1" cy="121.0" r="2.0" fill="none" stroke="#c54fa5" stroke-width="1.2"/><circle cx="254.1" cy="121.7" r="2.0" fill="none" stroke="#c54fa5" stroke-width="1.2"/><circle cx="254.1" cy="122.0" r="2.0" fill="none" stroke="#c54fa5" stroke-width="1.2"/><circle cx="254.1" cy="122.4" r="2.0" fill="none" stroke="#c54fa5" stroke-width="1.2"/><circle cx="254.1" cy="123.2" r="2.0" fill="none" stroke="#c54fa5" stroke-width="1.2"/><circle cx="254.1" cy="123.7" r="2.0" fill="none" stroke="#c54fa5" stroke-width="1.2"/><circle cx="254.1" cy="124.0" r="2.0" fill="none" stroke="#c54fa5" stroke-width="1.2"/><circle cx="254.1" cy="124.6" r="2.0" fill="none" stroke="#c54fa5" stroke-width="1.2"/><circle cx="254.1" cy="125.5" r="2.0" fill="none" stroke="#c54fa5" stroke-width="1.2"/><circle cx="254.1" cy="125.9" r="2.0" fill="none" stroke="#c54fa5" stroke-width="1.2"/><circle cx="254.1" cy="126.4" r="2.0" fill="none" stroke="#c54fa5" stroke-width="1.2"/><circle cx="254.1" cy="126.8" r="2.0" fill="none" stroke="#c54fa5" stroke-width="1.2"/><circle cx="254.1" cy="127.2" r="2.0" fill="none" stroke="#c54fa5" stroke-width="1.2"/><circle cx="254.1" cy="127.6" r="2.0" fill="none" stroke="#c54fa5" stroke-width="1.2"/><circle cx="254.1" cy="128.6" r="2.0" fill="none" stroke="#c54fa5" stroke-width="1.2"/><circle cx="254.1" cy="129.6" r="2.0" fill="none" stroke="#c54fa5" stroke-width="1.2"/><circle cx="254.1" cy="130.2" r="2.0" fill="none" stroke="#c54fa5" stroke-width="1.2"/><circle cx="254.1" cy="130.6" r="2.0" fill="none" stroke="#c54fa5" stroke-width="1.2"/><circle cx="254.1" cy="130.9" r="2.0" fill="none" stroke="#c54fa5" stroke-width="1.2"/><circle cx="254.1" cy="132.1" r="2.0" fill="none" stroke="#c54fa5" stroke-width="1.2"/><circle cx="254.1" cy="132.4" r="2.0" fill="none" stroke="#c54fa5" stroke-width="1.2"/><circle cx="254.1" cy="133.1" r="2.0" fill="none" stroke="#c54fa5" stroke-width="1.2"/><circle cx="254.1" cy="133.4" r="2.0" fill="none" stroke="#c54fa5" stroke-width="1.2"/><circle cx="254.1" cy="133.7" r="2.0" fill="none" stroke="#c54fa5" stroke-width="1.2"/><circle cx="254.1" cy="135.3" r="2.0" fill="none" stroke="#c54fa5" stroke-width="1.2"/><circle cx="254.1" cy="135.6" r="2.0" fill="none" stroke="#c54fa5" stroke-width="1.2"/><circle cx="254.1" cy="136.0" r="2.0" fill="none" stroke="#c54fa5" stroke-width="1.2"/><circle cx="254.1" cy="137.1" r="2.0" fill="none" stroke="#c54fa5" stroke-width="1.2"/><circle cx="254.1" cy="137.7" r="2.0" fill="none" stroke="#c54fa5" stroke-width="1.2"/><circle cx="254.1" cy="138.2" r="2.0" fill="none" stroke="#c54fa5" stroke-width="1.2"/><circle cx="254.1" cy="139.0" r="2.0" fill="none" stroke="#c54fa5" stroke-width="1.2"/><circle cx="254.1" cy="139.3" r="2.0" fill="none" stroke="#c54fa5" stroke-width="1.2"/><circle cx="254.1" cy="140.6" r="2.0" fill="none" stroke="#c54fa5" stroke-width="1.2"/><circle cx="254.1" cy="141.1" r="2.0" fill="none" stroke="#c54fa5" stroke-width="1.2"/><circle cx="254.1" cy="141.6" r="2.0" fill="none" stroke="#c54fa5" stroke-width="1.2"/><circle cx="254.1" cy="143.2" r="2.0" fill="none" stroke="#c54fa5" stroke-width="1.2"/><circle cx="254.1" cy="143.8" r="2.0" fill="none" stroke="#c54fa5" stroke-width="1.2"/><rect x="43.20" y="15.90" width="236.30" height="164.20" fill="none" stroke="#1a1a1a" stroke-width="1"/><line x1="37.20" y1="173.70" x2="43.20" y2="173.70" stroke="#1a1a1a" stroke-width="1"/><text x="30.60" y="173.70" font-size="9.3" text-anchor="middle" transform="rotate(-90 30.60 173.70)" fill="#000">0.10</text><line x1="37.20" y1="131.57" x2="43.20" y2="131.57" stroke="#1a1a1a" stroke-width="1"/><text x="30.60" y="131.57" font-size="9.3" text-anchor="middle" transform="rotate(-90 30.60 131.57)" fill="#000">0.15</text><line x1="37.20" y1="89.44" x2="43.20" y2="89.44" stroke="#1a1a1a" stroke-width="1"/><text x="30.60" y="89.44" font-size="9.3" text-anchor="middle" transform="rotate(-90 30.60 89.44)" fill="#000">0.20</text><line x1="37.20" y1="47.31" x2="43.20" y2="47.31" stroke="#1a1a1a" stroke-width="1"/><text x="30.60" y="47.31" font-size="9.3" text-anchor="middle" transform="rotate(-90 30.60 47.31)" fill="#000">0.25</text><text x="10.10" y="97.60" font-size="13.2" text-anchor="middle" font-weight="bold" transform="rotate(-90 10.10 97.60)" fill="#000">Dry weight</text><text x="20.90" y="97.60" font-size="11.1" text-anchor="middle" transform="rotate(-90 20.90 97.60)" fill="#000">(mg)</text><line x1="106.40" y1="180.10" x2="106.40" y2="185.10" stroke="#1a1a1a" stroke-width="1"/><text x="106.40" y="198.70" font-size="9.3" text-anchor="middle" fill="#000">7</text><line x1="216.10" y1="180.10" x2="216.10" y2="185.10" stroke="#1a1a1a" stroke-width="1"/><text x="216.10" y="198.70" font-size="9.3" text-anchor="middle" fill="#000">16</text><text x="65.50" y="29.20" font-size="8.9" text-anchor="start" fill="#000">n =&#160; 98</text><text x="120.30" y="29.20" font-size="8.9" text-anchor="start" fill="#000">n =&#160; 98</text><text x="174.50" y="29.20" font-size="8.9" text-anchor="start" fill="#000">n =&#160; 98</text><text x="229.60" y="29.20" font-size="8.9" text-anchor="start" fill="#000">n =&#160; 98</text><text x="161.35" y="210.80" font-size="13.2" text-anchor="middle" font-weight="bold" fill="#000">Age</text><text x="161.35" y="224.00" font-size="11.1" text-anchor="middle" fill="#000">(days)</text><text x="0.00" y="9.80" font-size="13.3" text-anchor="start" fill="#000">A</text><path d="M372.3 78.4L439.2 78.4M371.4 93.6L440.1 45.1M372.0 82.1L439.5 55.2M372.1 161.6L439.4 142.1M372.3 156.0L439.2 156.0M372.3 153.3L439.2 154.5M372.3 150.3L439.2 147.8M372.3 147.4L439.2 143.8M372.3 145.2L439.2 148.8M372.3 144.1L439.2 152.6M372.3 114.9L439.2 122.2M372.3 132.0L439.2 125.9M372.3 101.9L439.2 101.9M372.0 111.8L439.5 135.0M372.3 81.1L439.2 79.8M372.3 98.6L439.2 91.4M372.2 136.8L439.3 119.7M372.0 103.6L439.5 128.0M372.1 103.3L439.4 124.1M372.0 96.7L439.5 122.4M372.3 119.8L439.2 117.3M372.3 114.0L439.2 107.9M372.2 96.2L439.3 113.2M372.2 120.6L439.3 109.6M372.2 118.3L439.3 134.1M372.2 124.9L439.3 135.8M372.2 102.5L439.3 90.3M372.3 137.8L439.2 135.4M372.3 116.9L439.2 113.3M371.8 112.3L439.7 144.2M371.6 107.3L439.9 150.6M372.3 108.6L439.2 105.0M372.3 126.5L439.2 121.7M372.0 107.1L439.5 80.1M372.3 131.2L439.2 133.6M372.3 121.1L439.2 117.4M372.0 132.1L439.5 106.4M372.3 127.6L439.2 137.3M372.0 108.7L439.5 85.5M372.3 89.2L439.2 85.6M372.3 117.2L439.2 117.2M372.0 123.9L439.5 99.4M372.1 115.7L439.4 133.9M372.1 121.2L439.4 139.5M372.1 104.7L439.4 83.9M372.1 106.0L439.4 84.0M372.3 99.8L439.2 109.6M372.3 133.5L439.2 128.6M372.0 112.8L439.5 88.3M372.3 105.7L439.2 99.6M372.3 92.2L439.2 92.2M372.3 108.7L439.2 106.3M372.3 137.2L439.2 145.7M372.3 117.8L439.2 126.3M371.8 102.7L439.7 137.2M372.2 137.5L439.3 150.9M372.3 135.6L439.2 141.7M372.2 129.2L439.3 142.6M372.0 125.7L439.5 148.9M372.3 131.6L439.2 140.1M372.0 116.9L439.5 92.5M372.2 125.0L439.3 138.4M372.3 100.7L439.2 103.1M372.2 137.7L439.3 153.5M372.3 115.8L439.2 115.8M372.3 141.3L439.2 148.5M372.3 87.1L439.2 93.2M372.0 125.7L439.5 150.2M372.3 128.2L439.2 127.0M372.3 107.1L439.2 102.3M372.3 117.6L439.2 123.7M372.2 123.2L439.3 111.1M372.3 119.9L439.2 119.9M372.3 103.3L439.2 103.3M372.3 110.5L439.2 114.1M372.0 131.3L439.5 155.7M372.2 131.6L439.3 119.4M372.3 111.6L439.2 111.6M372.3 111.3L439.2 106.4M372.2 116.7L439.3 130.1M372.0 127.9L439.5 100.9M372.2 97.0L439.3 86.1M372.3 93.9L439.2 97.5M372.2 113.8L439.3 124.7M372.3 96.6L439.2 99.0M372.3 102.8L439.2 95.5M372.2 110.7L439.3 97.3M372.2 119.4L439.3 131.6M371.9 99.8L439.6 130.4M372.3 125.8L439.2 129.4M372.3 91.2L439.2 96.0M372.3 119.2L439.2 127.7M372.3 91.5L439.2 81.8M372.3 93.4L439.2 89.7M372.3 120.8L439.2 113.5M372.3 107.7L439.2 111.4M372.3 100.5L439.2 100.5M372.1 106.1L439.4 85.3" stroke="#000" stroke-width="1.0" fill="none"/><circle cx="367.5" cy="78.4" r="2.0" fill="none" stroke="#2a79ae" stroke-width="1.2"/><circle cx="367.5" cy="81.1" r="2.0" fill="none" stroke="#2a79ae" stroke-width="1.2"/><circle cx="367.5" cy="83.9" r="2.0" fill="none" stroke="#2a79ae" stroke-width="1.2"/><circle cx="367.5" cy="86.7" r="2.0" fill="none" stroke="#2a79ae" stroke-width="1.2"/><circle cx="367.5" cy="143.5" r="2.0" fill="none" stroke="#2a79ae" stroke-width="1.2"/><circle cx="367.5" cy="144.9" r="2.0" fill="none" stroke="#2a79ae" stroke-width="1.2"/><circle cx="367.5" cy="147.7" r="2.0" fill="none" stroke="#2a79ae" stroke-width="1.2"/><circle cx="367.5" cy="150.4" r="2.0" fill="none" stroke="#2a79ae" stroke-width="1.2"/><circle cx="367.5" cy="153.2" r="2.0" fill="none" stroke="#2a79ae" stroke-width="1.2"/><circle cx="367.5" cy="156.0" r="2.0" fill="none" stroke="#2a79ae" stroke-width="1.2"/><circle cx="367.5" cy="162.9" r="2.0" fill="none" stroke="#2a79ae" stroke-width="1.2"/><circle cx="367.5" cy="89.5" r="2.0" fill="none" stroke="#2a79ae" stroke-width="1.2"/><circle cx="367.5" cy="90.8" r="2.0" fill="none" stroke="#2a79ae" stroke-width="1.2"/><circle cx="367.5" cy="92.2" r="2.0" fill="none" stroke="#2a79ae" stroke-width="1.2"/><circle cx="367.5" cy="92.2" r="2.0" fill="none" stroke="#2a79ae" stroke-width="1.2"/><circle cx="367.5" cy="93.6" r="2.0" fill="none" stroke="#2a79ae" stroke-width="1.2"/><circle cx="367.5" cy="93.6" r="2.0" fill="none" stroke="#2a79ae" stroke-width="1.2"/><circle cx="367.5" cy="95.0" r="2.0" fill="none" stroke="#2a79ae" stroke-width="1.2"/><circle cx="367.5" cy="95.0" r="2.0" fill="none" stroke="#2a79ae" stroke-width="1.2"/><circle cx="367.5" cy="96.4" r="2.0" fill="none" stroke="#2a79ae" stroke-width="1.2"/><circle cx="367.5" cy="96.4" r="2.0" fill="none" stroke="#2a79ae" stroke-width="1.2"/><circle cx="367.5" cy="97.8" r="2.0" fill="none" stroke="#2a79ae" stroke-width="1.2"/><circle cx="367.5" cy="97.8" r="2.0" fill="none" stroke="#2a79ae" stroke-width="1.2"/><circle cx="367.5" cy="99.2" r="2.0" fill="none" stroke="#2a79ae" stroke-width="1.2"/><circle cx="367.5" cy="99.2" r="2.0" fill="none" stroke="#2a79ae" stroke-width="1.2"/><circle cx="367.5" cy="100.5" r="2.0" fill="none" stroke="#2a79ae" stroke-width="1.2"/><circle cx="367.5" cy="100.5" r="2.0" fill="none" stroke="#2a79ae" stroke-width="1.2"/><circle cx="367.5" cy="100.5" r="2.0" fill="none" stroke="#2a79ae" stroke-width="1.2"/><circle cx="367.5" cy="101.9" r="2.0" fill="none" stroke="#2a79ae" stroke-width="1.2"/><circle cx="367.5" cy="101.9" r="2.0" fill="none" stroke="#2a79ae" stroke-width="1.2"/><circle cx="367.5" cy="101.9" r="2.0" fill="none" stroke="#2a79ae" stroke-width="1.2"/><circle cx="367.5" cy="103.3" r="2.0" fill="none" stroke="#2a79ae" stroke-width="1.2"/><circle cx="367.5" cy="103.3" r="2.0" fill="none" stroke="#2a79ae" stroke-width="1.2"/><circle cx="367.5" cy="103.3" r="2.0" fill="none" stroke="#2a79ae" stroke-width="1.2"/><circle cx="367.5" cy="104.7" r="2.0" fill="none" stroke="#2a79ae" stroke-width="1.2"/><circle cx="367.5" cy="106.1" r="2.0" fill="none" stroke="#2a79ae" stroke-width="1.2"/><circle cx="367.5" cy="106.1" r="2.0" fill="none" stroke="#2a79ae" stroke-width="1.2"/><circle cx="367.5" cy="107.5" r="2.0" fill="none" stroke="#2a79ae" stroke-width="1.2"/><circle cx="367.5" cy="107.5" r="2.0" fill="none" stroke="#2a79ae" stroke-width="1.2"/><circle cx="367.5" cy="107.5" r="2.0" fill="none" stroke="#2a79ae" stroke-width="1.2"/><circle cx="367.5" cy="107.5" r="2.0" fill="none" stroke="#2a79ae" stroke-width="1.2"/><circle cx="367.5" cy="108.9" r="2.0" fill="none" stroke="#2a79ae" stroke-width="1.2"/><circle cx="367.5" cy="108.9" r="2.0" fill="none" stroke="#2a79ae" stroke-width="1.2"/><circle cx="367.5" cy="108.9" r="2.0" fill="none" stroke="#2a79ae" stroke-width="1.2"/><circle cx="367.5" cy="110.2" r="2.0" fill="none" stroke="#2a79ae" stroke-width="1.2"/><circle cx="367.5" cy="110.2" r="2.0" fill="none" stroke="#2a79ae" stroke-width="1.2"/><circle cx="367.5" cy="110.2" r="2.0" fill="none" stroke="#2a79ae" stroke-width="1.2"/><circle cx="367.5" cy="110.2" r="2.0" fill="none" stroke="#2a79ae" stroke-width="1.2"/><circle cx="367.5" cy="111.6" r="2.0" fill="none" stroke="#2a79ae" stroke-width="1.2"/><circle cx="367.5" cy="111.6" r="2.0" fill="none" stroke="#2a79ae" stroke-width="1.2"/><circle cx="367.5" cy="111.6" r="2.0" fill="none" stroke="#2a79ae" stroke-width="1.2"/><circle cx="367.5" cy="113.0" r="2.0" fill="none" stroke="#2a79ae" stroke-width="1.2"/><circle cx="367.5" cy="114.4" r="2.0" fill="none" stroke="#2a79ae" stroke-width="1.2"/><circle cx="367.5" cy="114.4" r="2.0" fill="none" stroke="#2a79ae" stroke-width="1.2"/><circle cx="367.5" cy="114.4" r="2.0" fill="none" stroke="#2a79ae" stroke-width="1.2"/><circle cx="367.5" cy="114.4" r="2.0" fill="none" stroke="#2a79ae" stroke-width="1.2"/><circle cx="367.5" cy="115.8" r="2.0" fill="none" stroke="#2a79ae" stroke-width="1.2"/><circle cx="367.5" cy="115.8" r="2.0" fill="none" stroke="#2a79ae" stroke-width="1.2"/><circle cx="367.5" cy="117.2" r="2.0" fill="none" stroke="#2a79ae" stroke-width="1.2"/><circle cx="367.5" cy="117.2" r="2.0" fill="none" stroke="#2a79ae" stroke-width="1.2"/><circle cx="367.5" cy="117.2" r="2.0" fill="none" stroke="#2a79ae" stroke-width="1.2"/><circle cx="367.5" cy="117.2" r="2.0" fill="none" stroke="#2a79ae" stroke-width="1.2"/><circle cx="367.5" cy="117.2" r="2.0" fill="none" stroke="#2a79ae" stroke-width="1.2"/><circle cx="367.5" cy="118.6" r="2.0" fill="none" stroke="#2a79ae" stroke-width="1.2"/><circle cx="367.5" cy="118.6" r="2.0" fill="none" stroke="#2a79ae" stroke-width="1.2"/><circle cx="367.5" cy="118.6" r="2.0" fill="none" stroke="#2a79ae" stroke-width="1.2"/><circle cx="367.5" cy="119.9" r="2.0" fill="none" stroke="#2a79ae" stroke-width="1.2"/><circle cx="367.5" cy="119.9" r="2.0" fill="none" stroke="#2a79ae" stroke-width="1.2"/><circle cx="367.5" cy="119.9" r="2.0" fill="none" stroke="#2a79ae" stroke-width="1.2"/><circle cx="367.5" cy="121.3" r="2.0" fill="none" stroke="#2a79ae" stroke-width="1.2"/><circle cx="367.5" cy="121.3" r="2.0" fill="none" stroke="#2a79ae" stroke-width="1.2"/><circle cx="367.5" cy="121.3" r="2.0" fill="none" stroke="#2a79ae" stroke-width="1.2"/><circle cx="367.5" cy="124.1" r="2.0" fill="none" stroke="#2a79ae" stroke-width="1.2"/><circle cx="367.5" cy="124.1" r="2.0" fill="none" stroke="#2a79ae" stroke-width="1.2"/><circle cx="367.5" cy="124.1" r="2.0" fill="none" stroke="#2a79ae" stroke-width="1.2"/><circle cx="367.5" cy="124.1" r="2.0" fill="none" stroke="#2a79ae" stroke-width="1.2"/><circle cx="367.5" cy="124.1" r="2.0" fill="none" stroke="#2a79ae" stroke-width="1.2"/><circle cx="367.5" cy="125.5" r="2.0" fill="none" stroke="#2a79ae" stroke-width="1.2"/><circle cx="367.5" cy="125.5" r="2.0" fill="none" stroke="#2a79ae" stroke-width="1.2"/><circle cx="367.5" cy="126.9" r="2.0" fill="none" stroke="#2a79ae" stroke-width="1.2"/><circle cx="367.5" cy="126.9" r="2.0" fill="none" stroke="#2a79ae" stroke-width="1.2"/><circle cx="367.5" cy="128.3" r="2.0" fill="none" stroke="#2a79ae" stroke-width="1.2"/><circle cx="367.5" cy="128.3" r="2.0" fill="none" stroke="#2a79ae" stroke-width="1.2"/><circle cx="367.5" cy="129.6" r="2.0" fill="none" stroke="#2a79ae" stroke-width="1.2"/><circle cx="367.5" cy="129.6" r="2.0" fill="none" stroke="#2a79ae" stroke-width="1.2"/><circle cx="367.5" cy="131.0" r="2.0" fill="none" stroke="#2a79ae" stroke-width="1.2"/><circle cx="367.5" cy="131.0" r="2.0" fill="none" stroke="#2a79ae" stroke-width="1.2"/><circle cx="367.5" cy="132.4" r="2.0" fill="none" stroke="#2a79ae" stroke-width="1.2"/><circle cx="367.5" cy="132.4" r="2.0" fill="none" stroke="#2a79ae" stroke-width="1.2"/><circle cx="367.5" cy="133.8" r="2.0" fill="none" stroke="#2a79ae" stroke-width="1.2"/><circle cx="367.5" cy="133.8" r="2.0" fill="none" stroke="#2a79ae" stroke-width="1.2"/><circle cx="367.5" cy="135.2" r="2.0" fill="none" stroke="#2a79ae" stroke-width="1.2"/><circle cx="367.5" cy="136.6" r="2.0" fill="none" stroke="#2a79ae" stroke-width="1.2"/><circle cx="367.5" cy="136.6" r="2.0" fill="none" stroke="#2a79ae" stroke-width="1.2"/><circle cx="367.5" cy="136.6" r="2.0" fill="none" stroke="#2a79ae" stroke-width="1.2"/><circle cx="367.5" cy="138.0" r="2.0" fill="none" stroke="#2a79ae" stroke-width="1.2"/><circle cx="367.5" cy="138.0" r="2.0" fill="none" stroke="#2a79ae" stroke-width="1.2"/><circle cx="367.5" cy="140.7" r="2.0" fill="none" stroke="#2a79ae" stroke-width="1.2"/><circle cx="444.0" cy="42.3" r="2.0" fill="none" stroke="#20a7b2" stroke-width="1.2"/><circle cx="444.0" cy="53.4" r="2.0" fill="none" stroke="#20a7b2" stroke-width="1.2"/><circle cx="444.0" cy="78.4" r="2.0" fill="none" stroke="#20a7b2" stroke-width="1.2"/><circle cx="444.0" cy="78.4" r="2.0" fill="none" stroke="#20a7b2" stroke-width="1.2"/><circle cx="444.0" cy="79.8" r="2.0" fill="none" stroke="#20a7b2" stroke-width="1.2"/><circle cx="444.0" cy="81.1" r="2.0" fill="none" stroke="#20a7b2" stroke-width="1.2"/><circle cx="444.0" cy="82.5" r="2.0" fill="none" stroke="#20a7b2" stroke-width="1.2"/><circle cx="444.0" cy="82.5" r="2.0" fill="none" stroke="#20a7b2" stroke-width="1.2"/><circle cx="444.0" cy="83.9" r="2.0" fill="none" stroke="#20a7b2" stroke-width="1.2"/><circle cx="444.0" cy="83.9" r="2.0" fill="none" stroke="#20a7b2" stroke-width="1.2"/><circle cx="444.0" cy="85.3" r="2.0" fill="none" stroke="#20a7b2" stroke-width="1.2"/><circle cx="444.0" cy="85.3" r="2.0" fill="none" stroke="#20a7b2" stroke-width="1.2"/><circle cx="444.0" cy="86.7" r="2.0" fill="none" stroke="#20a7b2" stroke-width="1.2"/><circle cx="444.0" cy="89.5" r="2.0" fill="none" stroke="#20a7b2" stroke-width="1.2"/><circle cx="444.0" cy="89.5" r="2.0" fill="none" stroke="#20a7b2" stroke-width="1.2"/><circle cx="444.0" cy="90.8" r="2.0" fill="none" stroke="#20a7b2" stroke-width="1.2"/><circle cx="444.0" cy="90.8" r="2.0" fill="none" stroke="#20a7b2" stroke-width="1.2"/><circle cx="444.0" cy="92.2" r="2.0" fill="none" stroke="#20a7b2" stroke-width="1.2"/><circle cx="444.0" cy="93.6" r="2.0" fill="none" stroke="#20a7b2" stroke-width="1.2"/><circle cx="444.0" cy="95.0" r="2.0" fill="none" stroke="#20a7b2" stroke-width="1.2"/><circle cx="444.0" cy="96.4" r="2.0" fill="none" stroke="#20a7b2" stroke-width="1.2"/><circle cx="444.0" cy="96.4" r="2.0" fill="none" stroke="#20a7b2" stroke-width="1.2"/><circle cx="444.0" cy="97.8" r="2.0" fill="none" stroke="#20a7b2" stroke-width="1.2"/><circle cx="444.0" cy="97.8" r="2.0" fill="none" stroke="#20a7b2" stroke-width="1.2"/><circle cx="444.0" cy="99.2" r="2.0" fill="none" stroke="#20a7b2" stroke-width="1.2"/><circle cx="444.0" cy="99.2" r="2.0" fill="none" stroke="#20a7b2" stroke-width="1.2"/><circle cx="444.0" cy="99.2" r="2.0" fill="none" stroke="#20a7b2" stroke-width="1.2"/><circle cx="444.0" cy="100.5" r="2.0" fill="none" stroke="#20a7b2" stroke-width="1.2"/><circle cx="444.0" cy="101.9" r="2.0" fill="none" stroke="#20a7b2" stroke-width="1.2"/><circle cx="444.0" cy="101.9" r="2.0" fill="none" stroke="#20a7b2" stroke-width="1.2"/><circle cx="444.0" cy="103.3" r="2.0" fill="none" stroke="#20a7b2" stroke-width="1.2"/><circle cx="444.0" cy="103.3" r="2.0" fill="none" stroke="#20a7b2" stroke-width="1.2"/><circle cx="444.0" cy="104.7" r="2.0" fill="none" stroke="#20a7b2" stroke-width="1.2"/><circle cx="444.0" cy="104.7" r="2.0" fill="none" stroke="#20a7b2" stroke-width="1.2"/><circle cx="444.0" cy="106.1" r="2.0" fill="none" stroke="#20a7b2" stroke-width="1.2"/><circle cx="444.0" cy="106.1" r="2.0" fill="none" stroke="#20a7b2" stroke-width="1.2"/><circle cx="444.0" cy="107.5" r="2.0" fill="none" stroke="#20a7b2" stroke-width="1.2"/><circle cx="444.0" cy="108.9" r="2.0" fill="none" stroke="#20a7b2" stroke-width="1.2"/><circle cx="444.0" cy="110.2" r="2.0" fill="none" stroke="#20a7b2" stroke-width="1.2"/><circle cx="444.0" cy="110.2" r="2.0" fill="none" stroke="#20a7b2" stroke-width="1.2"/><circle cx="444.0" cy="111.6" r="2.0" fill="none" stroke="#20a7b2" stroke-width="1.2"/><circle cx="444.0" cy="111.6" r="2.0" fill="none" stroke="#20a7b2" stroke-width="1.2"/><circle cx="444.0" cy="113.0" r="2.0" fill="none" stroke="#20a7b2" stroke-width="1.2"/><circle cx="444.0" cy="113.0" r="2.0" fill="none" stroke="#20a7b2" stroke-width="1.2"/><circle cx="444.0" cy="114.4" r="2.0" fill="none" stroke="#20a7b2" stroke-width="1.2"/><circle cx="444.0" cy="114.4" r="2.0" fill="none" stroke="#20a7b2" stroke-width="1.2"/><circle cx="444.0" cy="115.8" r="2.0" fill="none" stroke="#20a7b2" stroke-width="1.2"/><circle cx="444.0" cy="117.2" r="2.0" fill="none" stroke="#20a7b2" stroke-width="1.2"/><circle cx="444.0" cy="117.2" r="2.0" fill="none" stroke="#20a7b2" stroke-width="1.2"/><circle cx="444.0" cy="117.2" r="2.0" fill="none" stroke="#20a7b2" stroke-width="1.2"/><circle cx="444.0" cy="118.6" r="2.0" fill="none" stroke="#20a7b2" stroke-width="1.2"/><circle cx="444.0" cy="118.6" r="2.0" fill="none" stroke="#20a7b2" stroke-width="1.2"/><circle cx="444.0" cy="119.9" r="2.0" fill="none" stroke="#20a7b2" stroke-width="1.2"/><circle cx="444.0" cy="121.3" r="2.0" fill="none" stroke="#20a7b2" stroke-width="1.2"/><circle cx="444.0" cy="122.7" r="2.0" fill="none" stroke="#20a7b2" stroke-width="1.2"/><circle cx="444.0" cy="124.1" r="2.0" fill="none" stroke="#20a7b2" stroke-width="1.2"/><circle cx="444.0" cy="124.1" r="2.0" fill="none" stroke="#20a7b2" stroke-width="1.2"/><circle cx="444.0" cy="125.5" r="2.0" fill="none" stroke="#20a7b2" stroke-width="1.2"/><circle cx="444.0" cy="125.5" r="2.0" fill="none" stroke="#20a7b2" stroke-width="1.2"/><circle cx="444.0" cy="125.5" r="2.0" fill="none" stroke="#20a7b2" stroke-width="1.2"/><circle cx="444.0" cy="126.9" r="2.0" fill="none" stroke="#20a7b2" stroke-width="1.2"/><circle cx="444.0" cy="126.9" r="2.0" fill="none" stroke="#20a7b2" stroke-width="1.2"/><circle cx="444.0" cy="128.3" r="2.0" fill="none" stroke="#20a7b2" stroke-width="1.2"/><circle cx="444.0" cy="128.3" r="2.0" fill="none" stroke="#20a7b2" stroke-width="1.2"/><circle cx="444.0" cy="129.6" r="2.0" fill="none" stroke="#20a7b2" stroke-width="1.2"/><circle cx="444.0" cy="129.6" r="2.0" fill="none" stroke="#20a7b2" stroke-width="1.2"/><circle cx="444.0" cy="131.0" r="2.0" fill="none" stroke="#20a7b2" stroke-width="1.2"/><circle cx="444.0" cy="132.4" r="2.0" fill="none" stroke="#20a7b2" stroke-width="1.2"/><circle cx="444.0" cy="132.4" r="2.0" fill="none" stroke="#20a7b2" stroke-width="1.2"/><circle cx="444.0" cy="133.8" r="2.0" fill="none" stroke="#20a7b2" stroke-width="1.2"/><circle cx="444.0" cy="135.2" r="2.0" fill="none" stroke="#20a7b2" stroke-width="1.2"/><circle cx="444.0" cy="135.2" r="2.0" fill="none" stroke="#20a7b2" stroke-width="1.2"/><circle cx="444.0" cy="135.2" r="2.0" fill="none" stroke="#20a7b2" stroke-width="1.2"/><circle cx="444.0" cy="136.6" r="2.0" fill="none" stroke="#20a7b2" stroke-width="1.2"/><circle cx="444.0" cy="136.6" r="2.0" fill="none" stroke="#20a7b2" stroke-width="1.2"/><circle cx="444.0" cy="138.0" r="2.0" fill="none" stroke="#20a7b2" stroke-width="1.2"/><circle cx="444.0" cy="139.3" r="2.0" fill="none" stroke="#20a7b2" stroke-width="1.2"/><circle cx="444.0" cy="139.3" r="2.0" fill="none" stroke="#20a7b2" stroke-width="1.2"/><circle cx="444.0" cy="140.7" r="2.0" fill="none" stroke="#20a7b2" stroke-width="1.2"/><circle cx="444.0" cy="140.7" r="2.0" fill="none" stroke="#20a7b2" stroke-width="1.2"/><circle cx="444.0" cy="140.7" r="2.0" fill="none" stroke="#20a7b2" stroke-width="1.2"/><circle cx="444.0" cy="142.1" r="2.0" fill="none" stroke="#20a7b2" stroke-width="1.2"/><circle cx="444.0" cy="143.5" r="2.0" fill="none" stroke="#20a7b2" stroke-width="1.2"/><circle cx="444.0" cy="143.5" r="2.0" fill="none" stroke="#20a7b2" stroke-width="1.2"/><circle cx="444.0" cy="146.3" r="2.0" fill="none" stroke="#20a7b2" stroke-width="1.2"/><circle cx="444.0" cy="146.3" r="2.0" fill="none" stroke="#20a7b2" stroke-width="1.2"/><circle cx="444.0" cy="147.7" r="2.0" fill="none" stroke="#20a7b2" stroke-width="1.2"/><circle cx="444.0" cy="149.1" r="2.0" fill="none" stroke="#20a7b2" stroke-width="1.2"/><circle cx="444.0" cy="149.1" r="2.0" fill="none" stroke="#20a7b2" stroke-width="1.2"/><circle cx="444.0" cy="150.4" r="2.0" fill="none" stroke="#20a7b2" stroke-width="1.2"/><circle cx="444.0" cy="151.8" r="2.0" fill="none" stroke="#20a7b2" stroke-width="1.2"/><circle cx="444.0" cy="151.8" r="2.0" fill="none" stroke="#20a7b2" stroke-width="1.2"/><circle cx="444.0" cy="153.2" r="2.0" fill="none" stroke="#20a7b2" stroke-width="1.2"/><circle cx="444.0" cy="153.2" r="2.0" fill="none" stroke="#20a7b2" stroke-width="1.2"/><circle cx="444.0" cy="154.6" r="2.0" fill="none" stroke="#20a7b2" stroke-width="1.2"/><circle cx="444.0" cy="154.6" r="2.0" fill="none" stroke="#20a7b2" stroke-width="1.2"/><circle cx="444.0" cy="156.0" r="2.0" fill="none" stroke="#20a7b2" stroke-width="1.2"/><circle cx="444.0" cy="157.4" r="2.0" fill="none" stroke="#20a7b2" stroke-width="1.2"/><path d="M481.4 36.0L548.8 44.5M479.8 45.9L550.4 123.3M480.9 64.0L549.3 99.7M481.4 73.3L548.8 80.6M480.4 124.0L549.8 71.6M480.5 126.8L549.7 75.7M481.2 146.2L549.0 165.7M481.4 77.4L548.8 83.5M481.3 80.6L548.9 92.8M481.4 81.5L548.8 86.3M481.4 84.3L548.8 89.1M481.4 89.6L548.8 92.1M481.4 92.9L548.8 102.6M481.4 94.8L548.8 92.4M481.3 98.9L548.9 116.0M481.3 101.6L548.9 117.5M481.3 103.1L548.9 120.2M480.8 166.1L549.4 126.5M481.1 168.1L549.1 141.1M481.2 169.8L549.0 149.1M481.2 164.4L549.0 146.1M481.2 153.2L549.0 132.4M481.4 130.3L548.8 140.1M481.3 153.8L548.9 142.9M481.4 165.1L548.8 156.6M481.4 112.1L548.8 119.4M481.1 161.4L549.1 138.1M481.4 166.6L548.8 159.3M481.2 129.6L549.0 108.9M481.3 151.0L548.9 138.8M481.2 111.8L549.0 93.5M481.3 148.0L548.9 133.4M481.2 132.3L549.0 110.3M481.4 147.1L548.8 138.6M481.1 124.5L549.1 151.4M481.1 128.6L549.1 155.6M481.4 132.9L548.8 140.2M481.3 127.3L548.9 113.9M481.4 131.3L548.8 134.9M481.4 137.4L548.8 130.2M481.2 115.9L549.0 97.6M481.2 138.0L549.0 118.5M481.1 148.8L549.1 124.3M481.2 107.6L549.0 89.3M481.4 146.8L548.8 154.1M481.1 126.6L549.1 102.2M481.3 114.9L548.9 101.5M481.3 112.4L548.9 123.3M481.2 122.6L549.0 100.6M481.0 125.0L549.2 96.8M480.8 145.4L549.4 108.4M481.4 113.2L548.8 115.6M481.3 156.6L548.9 145.7M481.4 125.1L548.8 120.3M481.0 151.2L549.2 120.5M480.7 157.6L549.5 115.5M481.3 115.5L548.9 131.3M480.4 155.9L549.8 103.4M481.2 168.4L549.0 147.7M480.9 130.3L549.3 95.8M481.1 148.7L549.1 123.0M481.1 139.2L549.1 116.0M481.4 145.4L548.8 152.7M480.4 136.5L549.8 84.0M481.3 133.5L548.9 149.3M480.7 153.5L549.5 112.7M481.3 156.3L548.9 140.4M481.4 142.2L548.8 143.4M480.9 162.3L549.3 130.3M481.2 158.7L549.0 138.0M481.4 155.5L548.8 148.2M481.3 129.9L548.9 112.8M481.0 165.2L549.2 137.0M481.3 163.4L548.9 150.0M481.4 111.3L548.8 106.4M481.0 119.4L549.2 88.7M481.3 134.9L548.9 150.7M481.2 158.9L549.0 140.6M480.1 158.2L550.1 91.4M481.0 136.1L549.2 107.9M481.4 149.5L548.8 155.6M481.4 157.5L548.8 158.7M481.4 115.7L548.8 114.5M480.4 151.7L549.8 97.9M481.2 136.6L549.0 115.8M481.4 147.9L548.8 151.6M481.4 143.0L548.8 135.7M481.3 120.4L548.9 107.0M481.1 122.6L549.1 99.3M481.4 146.5L548.8 148.9M481.2 144.9L549.0 124.1M481.4 140.3L548.8 134.2M481.4 160.8L548.8 151.1M481.3 137.8L548.9 154.8M481.4 118.2L548.8 113.4M481.4 136.2L548.8 131.4M480.5 139.4L549.7 90.8" stroke="#000" stroke-width="1.0" fill="none"/><circle cx="476.6" cy="35.4" r="2.0" fill="none" stroke="#2a79ae" stroke-width="1.2"/><circle cx="476.6" cy="42.3" r="2.0" fill="none" stroke="#2a79ae" stroke-width="1.2"/><circle cx="476.6" cy="54.8" r="2.0" fill="none" stroke="#2a79ae" stroke-width="1.2"/><circle cx="476.6" cy="61.7" r="2.0" fill="none" stroke="#2a79ae" stroke-width="1.2"/><circle cx="476.6" cy="72.8" r="2.0" fill="none" stroke="#2a79ae" stroke-width="1.2"/><circle cx="476.6" cy="77.0" r="2.0" fill="none" stroke="#2a79ae" stroke-width="1.2"/><circle cx="476.6" cy="79.8" r="2.0" fill="none" stroke="#2a79ae" stroke-width="1.2"/><circle cx="476.6" cy="81.1" r="2.0" fill="none" stroke="#2a79ae" stroke-width="1.2"/><circle cx="476.6" cy="83.9" r="2.0" fill="none" stroke="#2a79ae" stroke-width="1.2"/><circle cx="476.6" cy="89.5" r="2.0" fill="none" stroke="#2a79ae" stroke-width="1.2"/><circle cx="476.6" cy="92.2" r="2.0" fill="none" stroke="#2a79ae" stroke-width="1.2"/><circle cx="476.6" cy="95.0" r="2.0" fill="none" stroke="#2a79ae" stroke-width="1.2"/><circle cx="476.6" cy="97.8" r="2.0" fill="none" stroke="#2a79ae" stroke-width="1.2"/><circle cx="476.6" cy="100.5" r="2.0" fill="none" stroke="#2a79ae" stroke-width="1.2"/><circle cx="476.6" cy="101.9" r="2.0" fill="none" stroke="#2a79ae" stroke-width="1.2"/><circle cx="476.6" cy="108.9" r="2.0" fill="none" stroke="#2a79ae" stroke-width="1.2"/><circle cx="476.6" cy="111.6" r="2.0" fill="none" stroke="#2a79ae" stroke-width="1.2"/><circle cx="476.6" cy="111.6" r="2.0" fill="none" stroke="#2a79ae" stroke-width="1.2"/><circle cx="476.6" cy="111.6" r="2.0" fill="none" stroke="#2a79ae" stroke-width="1.2"/><circle cx="476.6" cy="113.0" r="2.0" fill="none" stroke="#2a79ae" stroke-width="1.2"/><circle cx="476.6" cy="113.0" r="2.0" fill="none" stroke="#2a79ae" stroke-width="1.2"/><circle cx="476.6" cy="114.4" r="2.0" fill="none" stroke="#2a79ae" stroke-width="1.2"/><circle cx="476.6" cy="115.8" r="2.0" fill="none" stroke="#2a79ae" stroke-width="1.2"/><circle cx="476.6" cy="115.8" r="2.0" fill="none" stroke="#2a79ae" stroke-width="1.2"/><circle cx="476.6" cy="117.2" r="2.0" fill="none" stroke="#2a79ae" stroke-width="1.2"/><circle cx="476.6" cy="118.6" r="2.0" fill="none" stroke="#2a79ae" stroke-width="1.2"/><circle cx="476.6" cy="121.3" r="2.0" fill="none" stroke="#2a79ae" stroke-width="1.2"/><circle cx="476.6" cy="121.3" r="2.0" fill="none" stroke="#2a79ae" stroke-width="1.2"/><circle cx="476.6" cy="122.7" r="2.0" fill="none" stroke="#2a79ae" stroke-width="1.2"/><circle cx="476.6" cy="124.1" r="2.0" fill="none" stroke="#2a79ae" stroke-width="1.2"/><circle cx="476.6" cy="124.1" r="2.0" fill="none" stroke="#2a79ae" stroke-width="1.2"/><circle cx="476.6" cy="125.5" r="2.0" fill="none" stroke="#2a79ae" stroke-width="1.2"/><circle cx="476.6" cy="126.9" r="2.0" fill="none" stroke="#2a79ae" stroke-width="1.2"/><circle cx="476.6" cy="126.9" r="2.0" fill="none" stroke="#2a79ae" stroke-width="1.2"/><circle cx="476.6" cy="126.9" r="2.0" fill="none" stroke="#2a79ae" stroke-width="1.2"/><circle cx="476.6" cy="128.3" r="2.0" fill="none" stroke="#2a79ae" stroke-width="1.2"/><circle cx="476.6" cy="128.3" r="2.0" fill="none" stroke="#2a79ae" stroke-width="1.2"/><circle cx="476.6" cy="129.6" r="2.0" fill="none" stroke="#2a79ae" stroke-width="1.2"/><circle cx="476.6" cy="129.6" r="2.0" fill="none" stroke="#2a79ae" stroke-width="1.2"/><circle cx="476.6" cy="131.0" r="2.0" fill="none" stroke="#2a79ae" stroke-width="1.2"/><circle cx="476.6" cy="131.0" r="2.0" fill="none" stroke="#2a79ae" stroke-width="1.2"/><circle cx="476.6" cy="131.0" r="2.0" fill="none" stroke="#2a79ae" stroke-width="1.2"/><circle cx="476.6" cy="132.4" r="2.0" fill="none" stroke="#2a79ae" stroke-width="1.2"/><circle cx="476.6" cy="132.4" r="2.0" fill="none" stroke="#2a79ae" stroke-width="1.2"/><circle cx="476.6" cy="132.4" r="2.0" fill="none" stroke="#2a79ae" stroke-width="1.2"/><circle cx="476.6" cy="133.8" r="2.0" fill="none" stroke="#2a79ae" stroke-width="1.2"/><circle cx="476.6" cy="133.8" r="2.0" fill="none" stroke="#2a79ae" stroke-width="1.2"/><circle cx="476.6" cy="136.6" r="2.0" fill="none" stroke="#2a79ae" stroke-width="1.2"/><circle cx="476.6" cy="136.6" r="2.0" fill="none" stroke="#2a79ae" stroke-width="1.2"/><circle cx="476.6" cy="138.0" r="2.0" fill="none" stroke="#2a79ae" stroke-width="1.2"/><circle cx="476.6" cy="138.0" r="2.0" fill="none" stroke="#2a79ae" stroke-width="1.2"/><circle cx="476.6" cy="138.0" r="2.0" fill="none" stroke="#2a79ae" stroke-width="1.2"/><circle cx="476.6" cy="139.3" r="2.0" fill="none" stroke="#2a79ae" stroke-width="1.2"/><circle cx="476.6" cy="139.3" r="2.0" fill="none" stroke="#2a79ae" stroke-width="1.2"/><circle cx="476.6" cy="140.7" r="2.0" fill="none" stroke="#2a79ae" stroke-width="1.2"/><circle cx="476.6" cy="140.7" r="2.0" fill="none" stroke="#2a79ae" stroke-width="1.2"/><circle cx="476.6" cy="142.1" r="2.0" fill="none" stroke="#2a79ae" stroke-width="1.2"/><circle cx="476.6" cy="142.1" r="2.0" fill="none" stroke="#2a79ae" stroke-width="1.2"/><circle cx="476.6" cy="143.5" r="2.0" fill="none" stroke="#2a79ae" stroke-width="1.2"/><circle cx="476.6" cy="144.9" r="2.0" fill="none" stroke="#2a79ae" stroke-width="1.2"/><circle cx="476.6" cy="144.9" r="2.0" fill="none" stroke="#2a79ae" stroke-width="1.2"/><circle cx="476.6" cy="146.3" r="2.0" fill="none" stroke="#2a79ae" stroke-width="1.2"/><circle cx="476.6" cy="146.3" r="2.0" fill="none" stroke="#2a79ae" stroke-width="1.2"/><circle cx="476.6" cy="146.3" r="2.0" fill="none" stroke="#2a79ae" stroke-width="1.2"/><circle cx="476.6" cy="147.7" r="2.0" fill="none" stroke="#2a79ae" stroke-width="1.2"/><circle cx="476.6" cy="147.7" r="2.0" fill="none" stroke="#2a79ae" stroke-width="1.2"/><circle cx="476.6" cy="147.7" r="2.0" fill="none" stroke="#2a79ae" stroke-width="1.2"/><circle cx="476.6" cy="149.1" r="2.0" fill="none" stroke="#2a79ae" stroke-width="1.2"/><circle cx="476.6" cy="149.1" r="2.0" fill="none" stroke="#2a79ae" stroke-width="1.2"/><circle cx="476.6" cy="150.4" r="2.0" fill="none" stroke="#2a79ae" stroke-width="1.2"/><circle cx="476.6" cy="150.4" r="2.0" fill="none" stroke="#2a79ae" stroke-width="1.2"/><circle cx="476.6" cy="151.8" r="2.0" fill="none" stroke="#2a79ae" stroke-width="1.2"/><circle cx="476.6" cy="153.2" r="2.0" fill="none" stroke="#2a79ae" stroke-width="1.2"/><circle cx="476.6" cy="154.6" r="2.0" fill="none" stroke="#2a79ae" stroke-width="1.2"/><circle cx="476.6" cy="154.6" r="2.0" fill="none" stroke="#2a79ae" stroke-width="1.2"/><circle cx="476.6" cy="154.6" r="2.0" fill="none" stroke="#2a79ae" stroke-width="1.2"/><circle cx="476.6" cy="156.0" r="2.0" fill="none" stroke="#2a79ae" stroke-width="1.2"/><circle cx="476.6" cy="156.0" r="2.0" fill="none" stroke="#2a79ae" stroke-width="1.2"/><circle cx="476.6" cy="157.4" r="2.0" fill="none" stroke="#2a79ae" stroke-width="1.2"/><circle cx="476.6" cy="157.4" r="2.0" fill="none" stroke="#2a79ae" stroke-width="1.2"/><circle cx="476.6" cy="157.4" r="2.0" fill="none" stroke="#2a79ae" stroke-width="1.2"/><circle cx="476.6" cy="158.8" r="2.0" fill="none" stroke="#2a79ae" stroke-width="1.2"/><circle cx="476.6" cy="160.1" r="2.0" fill="none" stroke="#2a79ae" stroke-width="1.2"/><circle cx="476.6" cy="160.1" r="2.0" fill="none" stroke="#2a79ae" stroke-width="1.2"/><circle cx="476.6" cy="160.1" r="2.0" fill="none" stroke="#2a79ae" stroke-width="1.2"/><circle cx="476.6" cy="161.5" r="2.0" fill="none" stroke="#2a79ae" stroke-width="1.2"/><circle cx="476.6" cy="161.5" r="2.0" fill="none" stroke="#2a79ae" stroke-width="1.2"/><circle cx="476.6" cy="162.9" r="2.0" fill="none" stroke="#2a79ae" stroke-width="1.2"/><circle cx="476.6" cy="164.3" r="2.0" fill="none" stroke="#2a79ae" stroke-width="1.2"/><circle cx="476.6" cy="164.3" r="2.0" fill="none" stroke="#2a79ae" stroke-width="1.2"/><circle cx="476.6" cy="165.7" r="2.0" fill="none" stroke="#2a79ae" stroke-width="1.2"/><circle cx="476.6" cy="165.7" r="2.0" fill="none" stroke="#2a79ae" stroke-width="1.2"/><circle cx="476.6" cy="167.1" r="2.0" fill="none" stroke="#2a79ae" stroke-width="1.2"/><circle cx="476.6" cy="167.1" r="2.0" fill="none" stroke="#2a79ae" stroke-width="1.2"/><circle cx="476.6" cy="168.5" r="2.0" fill="none" stroke="#2a79ae" stroke-width="1.2"/><circle cx="476.6" cy="169.8" r="2.0" fill="none" stroke="#2a79ae" stroke-width="1.2"/><circle cx="476.6" cy="169.8" r="2.0" fill="none" stroke="#2a79ae" stroke-width="1.2"/><circle cx="476.6" cy="171.2" r="2.0" fill="none" stroke="#2a79ae" stroke-width="1.2"/><circle cx="553.6" cy="45.1" r="2.0" fill="none" stroke="#20a7b2" stroke-width="1.2"/><circle cx="553.6" cy="68.7" r="2.0" fill="none" stroke="#20a7b2" stroke-width="1.2"/><circle cx="553.6" cy="72.8" r="2.0" fill="none" stroke="#20a7b2" stroke-width="1.2"/><circle cx="553.6" cy="167.1" r="2.0" fill="none" stroke="#20a7b2" stroke-width="1.2"/><circle cx="553.6" cy="81.1" r="2.0" fill="none" stroke="#20a7b2" stroke-width="1.2"/><circle cx="553.6" cy="81.1" r="2.0" fill="none" stroke="#20a7b2" stroke-width="1.2"/><circle cx="553.6" cy="83.9" r="2.0" fill="none" stroke="#20a7b2" stroke-width="1.2"/><circle cx="553.6" cy="86.7" r="2.0" fill="none" stroke="#20a7b2" stroke-width="1.2"/><circle cx="553.6" cy="86.7" r="2.0" fill="none" stroke="#20a7b2" stroke-width="1.2"/><circle cx="553.6" cy="88.1" r="2.0" fill="none" stroke="#20a7b2" stroke-width="1.2"/><circle cx="553.6" cy="88.1" r="2.0" fill="none" stroke="#20a7b2" stroke-width="1.2"/><circle cx="553.6" cy="88.1" r="2.0" fill="none" stroke="#20a7b2" stroke-width="1.2"/><circle cx="553.6" cy="89.5" r="2.0" fill="none" stroke="#20a7b2" stroke-width="1.2"/><circle cx="553.6" cy="92.2" r="2.0" fill="none" stroke="#20a7b2" stroke-width="1.2"/><circle cx="553.6" cy="92.2" r="2.0" fill="none" stroke="#20a7b2" stroke-width="1.2"/><circle cx="553.6" cy="92.2" r="2.0" fill="none" stroke="#20a7b2" stroke-width="1.2"/><circle cx="553.6" cy="93.6" r="2.0" fill="none" stroke="#20a7b2" stroke-width="1.2"/><circle cx="553.6" cy="93.6" r="2.0" fill="none" stroke="#20a7b2" stroke-width="1.2"/><circle cx="553.6" cy="95.0" r="2.0" fill="none" stroke="#20a7b2" stroke-width="1.2"/><circle cx="553.6" cy="95.0" r="2.0" fill="none" stroke="#20a7b2" stroke-width="1.2"/><circle cx="553.6" cy="96.4" r="2.0" fill="none" stroke="#20a7b2" stroke-width="1.2"/><circle cx="553.6" cy="97.8" r="2.0" fill="none" stroke="#20a7b2" stroke-width="1.2"/><circle cx="553.6" cy="99.2" r="2.0" fill="none" stroke="#20a7b2" stroke-width="1.2"/><circle cx="553.6" cy="100.5" r="2.0" fill="none" stroke="#20a7b2" stroke-width="1.2"/><circle cx="553.6" cy="100.5" r="2.0" fill="none" stroke="#20a7b2" stroke-width="1.2"/><circle cx="553.6" cy="100.5" r="2.0" fill="none" stroke="#20a7b2" stroke-width="1.2"/><circle cx="553.6" cy="101.9" r="2.0" fill="none" stroke="#20a7b2" stroke-width="1.2"/><circle cx="553.6" cy="103.3" r="2.0" fill="none" stroke="#20a7b2" stroke-width="1.2"/><circle cx="553.6" cy="106.1" r="2.0" fill="none" stroke="#20a7b2" stroke-width="1.2"/><circle cx="553.6" cy="106.1" r="2.0" fill="none" stroke="#20a7b2" stroke-width="1.2"/><circle cx="553.6" cy="106.1" r="2.0" fill="none" stroke="#20a7b2" stroke-width="1.2"/><circle cx="553.6" cy="106.1" r="2.0" fill="none" stroke="#20a7b2" stroke-width="1.2"/><circle cx="553.6" cy="107.5" r="2.0" fill="none" stroke="#20a7b2" stroke-width="1.2"/><circle cx="553.6" cy="108.9" r="2.0" fill="none" stroke="#20a7b2" stroke-width="1.2"/><circle cx="553.6" cy="110.2" r="2.0" fill="none" stroke="#20a7b2" stroke-width="1.2"/><circle cx="553.6" cy="111.6" r="2.0" fill="none" stroke="#20a7b2" stroke-width="1.2"/><circle cx="553.6" cy="113.0" r="2.0" fill="none" stroke="#20a7b2" stroke-width="1.2"/><circle cx="553.6" cy="113.0" r="2.0" fill="none" stroke="#20a7b2" stroke-width="1.2"/><circle cx="553.6" cy="113.0" r="2.0" fill="none" stroke="#20a7b2" stroke-width="1.2"/><circle cx="553.6" cy="114.4" r="2.0" fill="none" stroke="#20a7b2" stroke-width="1.2"/><circle cx="553.6" cy="114.4" r="2.0" fill="none" stroke="#20a7b2" stroke-width="1.2"/><circle cx="553.6" cy="114.4" r="2.0" fill="none" stroke="#20a7b2" stroke-width="1.2"/><circle cx="553.6" cy="115.8" r="2.0" fill="none" stroke="#20a7b2" stroke-width="1.2"/><circle cx="553.6" cy="117.2" r="2.0" fill="none" stroke="#20a7b2" stroke-width="1.2"/><circle cx="553.6" cy="117.2" r="2.0" fill="none" stroke="#20a7b2" stroke-width="1.2"/><circle cx="553.6" cy="118.6" r="2.0" fill="none" stroke="#20a7b2" stroke-width="1.2"/><circle cx="553.6" cy="118.6" r="2.0" fill="none" stroke="#20a7b2" stroke-width="1.2"/><circle cx="553.6" cy="119.9" r="2.0" fill="none" stroke="#20a7b2" stroke-width="1.2"/><circle cx="553.6" cy="119.9" r="2.0" fill="none" stroke="#20a7b2" stroke-width="1.2"/><circle cx="553.6" cy="121.3" r="2.0" fill="none" stroke="#20a7b2" stroke-width="1.2"/><circle cx="553.6" cy="121.3" r="2.0" fill="none" stroke="#20a7b2" stroke-width="1.2"/><circle cx="553.6" cy="122.7" r="2.0" fill="none" stroke="#20a7b2" stroke-width="1.2"/><circle cx="553.6" cy="122.7" r="2.0" fill="none" stroke="#20a7b2" stroke-width="1.2"/><circle cx="553.6" cy="124.1" r="2.0" fill="none" stroke="#20a7b2" stroke-width="1.2"/><circle cx="553.6" cy="124.1" r="2.0" fill="none" stroke="#20a7b2" stroke-width="1.2"/><circle cx="553.6" cy="126.9" r="2.0" fill="none" stroke="#20a7b2" stroke-width="1.2"/><circle cx="553.6" cy="126.9" r="2.0" fill="none" stroke="#20a7b2" stroke-width="1.2"/><circle cx="553.6" cy="128.3" r="2.0" fill="none" stroke="#20a7b2" stroke-width="1.2"/><circle cx="553.6" cy="129.6" r="2.0" fill="none" stroke="#20a7b2" stroke-width="1.2"/><circle cx="553.6" cy="131.0" r="2.0" fill="none" stroke="#20a7b2" stroke-width="1.2"/><circle cx="553.6" cy="131.0" r="2.0" fill="none" stroke="#20a7b2" stroke-width="1.2"/><circle cx="553.6" cy="132.4" r="2.0" fill="none" stroke="#20a7b2" stroke-width="1.2"/><circle cx="553.6" cy="132.4" r="2.0" fill="none" stroke="#20a7b2" stroke-width="1.2"/><circle cx="553.6" cy="133.8" r="2.0" fill="none" stroke="#20a7b2" stroke-width="1.2"/><circle cx="553.6" cy="135.2" r="2.0" fill="none" stroke="#20a7b2" stroke-width="1.2"/><circle cx="553.6" cy="135.2" r="2.0" fill="none" stroke="#20a7b2" stroke-width="1.2"/><circle cx="553.6" cy="135.2" r="2.0" fill="none" stroke="#20a7b2" stroke-width="1.2"/><circle cx="553.6" cy="136.6" r="2.0" fill="none" stroke="#20a7b2" stroke-width="1.2"/><circle cx="553.6" cy="136.6" r="2.0" fill="none" stroke="#20a7b2" stroke-width="1.2"/><circle cx="553.6" cy="138.0" r="2.0" fill="none" stroke="#20a7b2" stroke-width="1.2"/><circle cx="553.6" cy="138.0" r="2.0" fill="none" stroke="#20a7b2" stroke-width="1.2"/><circle cx="553.6" cy="139.3" r="2.0" fill="none" stroke="#20a7b2" stroke-width="1.2"/><circle cx="553.6" cy="139.3" r="2.0" fill="none" stroke="#20a7b2" stroke-width="1.2"/><circle cx="553.6" cy="139.3" r="2.0" fill="none" stroke="#20a7b2" stroke-width="1.2"/><circle cx="553.6" cy="140.7" r="2.0" fill="none" stroke="#20a7b2" stroke-width="1.2"/><circle cx="553.6" cy="140.7" r="2.0" fill="none" stroke="#20a7b2" stroke-width="1.2"/><circle cx="553.6" cy="142.1" r="2.0" fill="none" stroke="#20a7b2" stroke-width="1.2"/><circle cx="553.6" cy="143.5" r="2.0" fill="none" stroke="#20a7b2" stroke-width="1.2"/><circle cx="553.6" cy="144.9" r="2.0" fill="none" stroke="#20a7b2" stroke-width="1.2"/><circle cx="553.6" cy="144.9" r="2.0" fill="none" stroke="#20a7b2" stroke-width="1.2"/><circle cx="553.6" cy="146.3" r="2.0" fill="none" stroke="#20a7b2" stroke-width="1.2"/><circle cx="553.6" cy="147.7" r="2.0" fill="none" stroke="#20a7b2" stroke-width="1.2"/><circle cx="553.6" cy="147.7" r="2.0" fill="none" stroke="#20a7b2" stroke-width="1.2"/><circle cx="553.6" cy="149.1" r="2.0" fill="none" stroke="#20a7b2" stroke-width="1.2"/><circle cx="553.6" cy="149.1" r="2.0" fill="none" stroke="#20a7b2" stroke-width="1.2"/><circle cx="553.6" cy="150.4" r="2.0" fill="none" stroke="#20a7b2" stroke-width="1.2"/><circle cx="553.6" cy="150.4" r="2.0" fill="none" stroke="#20a7b2" stroke-width="1.2"/><circle cx="553.6" cy="151.8" r="2.0" fill="none" stroke="#20a7b2" stroke-width="1.2"/><circle cx="553.6" cy="151.8" r="2.0" fill="none" stroke="#20a7b2" stroke-width="1.2"/><circle cx="553.6" cy="153.2" r="2.0" fill="none" stroke="#20a7b2" stroke-width="1.2"/><circle cx="553.6" cy="153.2" r="2.0" fill="none" stroke="#20a7b2" stroke-width="1.2"/><circle cx="553.6" cy="154.6" r="2.0" fill="none" stroke="#20a7b2" stroke-width="1.2"/><circle cx="553.6" cy="156.0" r="2.0" fill="none" stroke="#20a7b2" stroke-width="1.2"/><circle cx="553.6" cy="156.0" r="2.0" fill="none" stroke="#20a7b2" stroke-width="1.2"/><circle cx="553.6" cy="156.0" r="2.0" fill="none" stroke="#20a7b2" stroke-width="1.2"/><circle cx="553.6" cy="157.4" r="2.0" fill="none" stroke="#20a7b2" stroke-width="1.2"/><circle cx="553.6" cy="158.8" r="2.0" fill="none" stroke="#20a7b2" stroke-width="1.2"/><circle cx="553.6" cy="158.8" r="2.0" fill="none" stroke="#20a7b2" stroke-width="1.2"/><rect x="342.40" y="15.90" width="236.20" height="164.20" fill="none" stroke="#1a1a1a" stroke-width="1"/><line x1="336.40" y1="174.00" x2="342.40" y2="174.00" stroke="#1a1a1a" stroke-width="1"/><text x="329.80" y="174.00" font-size="9.3" text-anchor="middle" transform="rotate(-90 329.80 174.00)" fill="#000">0</text><line x1="336.40" y1="146.28" x2="342.40" y2="146.28" stroke="#1a1a1a" stroke-width="1"/><text x="329.80" y="146.28" font-size="9.3" text-anchor="middle" transform="rotate(-90 329.80 146.28)" fill="#000">1</text><line x1="336.40" y1="118.56" x2="342.40" y2="118.56" stroke="#1a1a1a" stroke-width="1"/><text x="329.80" y="118.56" font-size="9.3" text-anchor="middle" transform="rotate(-90 329.80 118.56)" fill="#000">2</text><line x1="336.40" y1="90.84" x2="342.40" y2="90.84" stroke="#1a1a1a" stroke-width="1"/><text x="329.80" y="90.84" font-size="9.3" text-anchor="middle" transform="rotate(-90 329.80 90.84)" fill="#000">3</text><line x1="336.40" y1="63.12" x2="342.40" y2="63.12" stroke="#1a1a1a" stroke-width="1"/><text x="329.80" y="63.12" font-size="9.3" text-anchor="middle" transform="rotate(-90 329.80 63.12)" fill="#000">4</text><line x1="336.40" y1="35.40" x2="342.40" y2="35.40" stroke="#1a1a1a" stroke-width="1"/><text x="329.80" y="35.40" font-size="9.3" text-anchor="middle" transform="rotate(-90 329.80 35.40)" fill="#000">5</text><text x="309.60" y="98.30" font-size="13.2" text-anchor="middle" font-weight="bold" transform="rotate(-90 309.60 98.30)" fill="#000">Locomotor acitivty</text><text x="320.40" y="98.30" font-size="11.1" text-anchor="middle" transform="rotate(-90 320.40 98.30)" fill="#000">(counts per minute)</text><line x1="405.60" y1="180.10" x2="405.60" y2="185.10" stroke="#1a1a1a" stroke-width="1"/><text x="405.60" y="198.70" font-size="9.3" text-anchor="middle" fill="#000">7</text><line x1="515.10" y1="180.10" x2="515.10" y2="185.10" stroke="#1a1a1a" stroke-width="1"/><text x="515.10" y="198.70" font-size="9.3" text-anchor="middle" fill="#000">16</text><text x="364.50" y="26.50" font-size="8.9" text-anchor="start" fill="#000">n =&#160; 98</text><text x="419.60" y="26.50" font-size="8.9" text-anchor="start" fill="#000">n =&#160; 98</text><text x="474.00" y="26.50" font-size="8.9" text-anchor="start" fill="#000">n =&#160; 98</text><text x="529.10" y="26.50" font-size="8.9" text-anchor="start" fill="#000">n =&#160; 98</text><text x="460.50" y="210.60" font-size="13.2" text-anchor="middle" font-weight="bold" fill="#000">Age</text><text x="460.50" y="224.00" font-size="11.1" text-anchor="middle" fill="#000">(days)</text><text x="300.20" y="9.90" font-size="13.3" text-anchor="start" fill="#000">B</text><path d="M71.7 271.5L141.2 342.8M73.1 381.5L139.8 369.3M73.1 373.0L139.8 388.3M73.2 366.7L139.7 375.9M72.9 362.2L140.0 339.6M73.2 358.0L139.7 360.1M72.4 336.1L140.5 383.2M73.1 289.9L139.8 301.1M72.3 312.9L140.6 363.2M73.2 342.5L139.7 339.5M72.7 287.7L140.2 319.7M73.2 318.2L139.7 318.2M73.1 329.1L139.8 317.9M73.2 299.7L139.7 300.7M73.2 335.2L139.7 343.3M72.8 308.5L140.1 338.5M72.8 338.5L140.1 308.5M73.1 325.7L139.8 315.5M73.2 316.1L139.7 319.2M73.2 349.6L139.7 347.5M73.2 337.5L139.7 345.6M73.0 342.8L139.9 361.3M72.0 291.1L140.9 351.2M72.4 303.5L140.5 350.5M72.9 339.6L140.0 362.2M72.9 336.5L140.0 314.0M73.2 310.7L139.7 318.8M72.9 333.9L140.0 358.6M72.6 294.9L140.3 331.1M73.0 316.1L139.9 335.6M73.2 290.7L139.7 296.8M73.1 318.5L139.8 306.3M72.5 306.7L140.4 346.1M72.7 304.1L140.2 338.2M73.1 312.2L139.8 325.5M73.1 346.7L139.8 336.5M73.2 294.3L139.7 301.4M72.7 305.2L140.2 338.3M73.1 341.5L139.8 356.8M72.2 308.3L140.7 360.8M73.2 346.3L139.7 347.3M73.1 315.8L139.8 331.2M73.2 312.2L139.7 309.1M72.7 321.6L140.2 356.8M73.0 346.5L139.9 367.0M73.2 328.4L139.7 324.4M73.0 326.5L139.9 343.9M73.0 317.3L139.9 337.8M73.0 288.2L139.9 309.8M73.2 298.0L139.7 291.9M73.2 343.3L139.7 335.2M73.1 336.8L139.8 352.2M73.1 323.1L139.8 308.8M73.2 327.1L139.7 319.9M73.1 302.2L139.8 288.9M72.6 321.7L140.3 359.1M72.5 299.7L140.4 339.2M73.1 321.7L139.8 338.1M73.0 301.0L139.9 321.5M73.2 308.4L139.7 317.6M73.1 322.5L139.8 333.8M73.1 307.7L139.8 323.0M73.2 329.0L139.7 332.0M73.1 324.9L139.8 337.2M73.0 321.9L139.9 340.3M73.0 343.0L139.9 363.5M73.1 287.9L139.8 304.3M72.5 285.8L140.4 328.5M73.2 327.1L139.7 321.0M73.0 337.8L139.9 317.3M72.5 347.3L140.4 306.7M73.0 333.4L139.9 350.9M73.0 335.6L139.9 317.2M73.1 299.2L139.8 310.5M73.0 332.3L139.9 349.7M73.1 328.9L139.8 314.6M72.8 295.7L140.1 324.5M72.9 298.9L140.0 323.6M72.6 311.3L140.3 349.7M72.7 319.2L140.2 353.4M72.9 280.3L140.0 304.9M72.6 313.6L140.3 352.0M73.1 317.0L139.8 332.3M72.9 309.4L140.0 334.1M73.1 317.8L139.8 328.0M72.9 325.8L140.0 351.5M73.1 295.7L139.8 305.9M73.0 323.1L139.9 342.6M72.4 309.2L140.5 354.1M73.0 297.6L139.9 319.1M72.3 316.3L140.6 364.5M73.0 343.9L139.9 326.5M72.7 290.1L140.2 325.4M72.8 282.9L140.1 312.8" stroke="#000" stroke-width="1.0" fill="none"/><circle cx="68.4" cy="268.1" r="2.0" fill="none" stroke="#2ca02c" stroke-width="1.2"/><circle cx="68.4" cy="278.6" r="2.0" fill="none" stroke="#2ca02c" stroke-width="1.2"/><circle cx="68.4" cy="280.9" r="2.0" fill="none" stroke="#2ca02c" stroke-width="1.2"/><circle cx="68.4" cy="357.9" r="2.0" fill="none" stroke="#2ca02c" stroke-width="1.2"/><circle cx="68.4" cy="363.7" r="2.0" fill="none" stroke="#2ca02c" stroke-width="1.2"/><circle cx="68.4" cy="366.1" r="2.0" fill="none" stroke="#2ca02c" stroke-width="1.2"/><circle cx="68.4" cy="371.9" r="2.0" fill="none" stroke="#2ca02c" stroke-width="1.2"/><circle cx="68.4" cy="382.4" r="2.0" fill="none" stroke="#2ca02c" stroke-width="1.2"/><circle cx="68.4" cy="283.3" r="2.0" fill="none" stroke="#2ca02c" stroke-width="1.2"/><circle cx="68.4" cy="284.4" r="2.0" fill="none" stroke="#2ca02c" stroke-width="1.2"/><circle cx="68.4" cy="285.6" r="2.0" fill="none" stroke="#2ca02c" stroke-width="1.2"/><circle cx="68.4" cy="286.8" r="2.0" fill="none" stroke="#2ca02c" stroke-width="1.2"/><circle cx="68.4" cy="286.8" r="2.0" fill="none" stroke="#2ca02c" stroke-width="1.2"/><circle cx="68.4" cy="287.9" r="2.0" fill="none" stroke="#2ca02c" stroke-width="1.2"/><circle cx="68.4" cy="287.9" r="2.0" fill="none" stroke="#2ca02c" stroke-width="1.2"/><circle cx="68.4" cy="289.1" r="2.0" fill="none" stroke="#2ca02c" stroke-width="1.2"/><circle cx="68.4" cy="290.3" r="2.0" fill="none" stroke="#2ca02c" stroke-width="1.2"/><circle cx="68.4" cy="292.6" r="2.0" fill="none" stroke="#2ca02c" stroke-width="1.2"/><circle cx="68.4" cy="293.8" r="2.0" fill="none" stroke="#2ca02c" stroke-width="1.2"/><circle cx="68.4" cy="293.8" r="2.0" fill="none" stroke="#2ca02c" stroke-width="1.2"/><circle cx="68.4" cy="294.9" r="2.0" fill="none" stroke="#2ca02c" stroke-width="1.2"/><circle cx="68.4" cy="296.1" r="2.0" fill="none" stroke="#2ca02c" stroke-width="1.2"/><circle cx="68.4" cy="297.3" r="2.0" fill="none" stroke="#2ca02c" stroke-width="1.2"/><circle cx="68.4" cy="297.3" r="2.0" fill="none" stroke="#2ca02c" stroke-width="1.2"/><circle cx="68.4" cy="298.4" r="2.0" fill="none" stroke="#2ca02c" stroke-width="1.2"/><circle cx="68.4" cy="298.4" r="2.0" fill="none" stroke="#2ca02c" stroke-width="1.2"/><circle cx="68.4" cy="299.6" r="2.0" fill="none" stroke="#2ca02c" stroke-width="1.2"/><circle cx="68.4" cy="299.6" r="2.0" fill="none" stroke="#2ca02c" stroke-width="1.2"/><circle cx="68.4" cy="300.8" r="2.0" fill="none" stroke="#2ca02c" stroke-width="1.2"/><circle cx="68.4" cy="301.9" r="2.0" fill="none" stroke="#2ca02c" stroke-width="1.2"/><circle cx="68.4" cy="303.1" r="2.0" fill="none" stroke="#2ca02c" stroke-width="1.2"/><circle cx="68.4" cy="303.1" r="2.0" fill="none" stroke="#2ca02c" stroke-width="1.2"/><circle cx="68.4" cy="304.3" r="2.0" fill="none" stroke="#2ca02c" stroke-width="1.2"/><circle cx="68.4" cy="305.4" r="2.0" fill="none" stroke="#2ca02c" stroke-width="1.2"/><circle cx="68.4" cy="306.6" r="2.0" fill="none" stroke="#2ca02c" stroke-width="1.2"/><circle cx="68.4" cy="306.6" r="2.0" fill="none" stroke="#2ca02c" stroke-width="1.2"/><circle cx="68.4" cy="306.6" r="2.0" fill="none" stroke="#2ca02c" stroke-width="1.2"/><circle cx="68.4" cy="307.8" r="2.0" fill="none" stroke="#2ca02c" stroke-width="1.2"/><circle cx="68.4" cy="307.8" r="2.0" fill="none" stroke="#2ca02c" stroke-width="1.2"/><circle cx="68.4" cy="308.9" r="2.0" fill="none" stroke="#2ca02c" stroke-width="1.2"/><circle cx="68.4" cy="310.1" r="2.0" fill="none" stroke="#2ca02c" stroke-width="1.2"/><circle cx="68.4" cy="310.1" r="2.0" fill="none" stroke="#2ca02c" stroke-width="1.2"/><circle cx="68.4" cy="311.3" r="2.0" fill="none" stroke="#2ca02c" stroke-width="1.2"/><circle cx="68.4" cy="311.3" r="2.0" fill="none" stroke="#2ca02c" stroke-width="1.2"/><circle cx="68.4" cy="312.4" r="2.0" fill="none" stroke="#2ca02c" stroke-width="1.2"/><circle cx="68.4" cy="313.6" r="2.0" fill="none" stroke="#2ca02c" stroke-width="1.2"/><circle cx="68.4" cy="313.6" r="2.0" fill="none" stroke="#2ca02c" stroke-width="1.2"/><circle cx="68.4" cy="314.8" r="2.0" fill="none" stroke="#2ca02c" stroke-width="1.2"/><circle cx="68.4" cy="314.8" r="2.0" fill="none" stroke="#2ca02c" stroke-width="1.2"/><circle cx="68.4" cy="315.9" r="2.0" fill="none" stroke="#2ca02c" stroke-width="1.2"/><circle cx="68.4" cy="315.9" r="2.0" fill="none" stroke="#2ca02c" stroke-width="1.2"/><circle cx="68.4" cy="315.9" r="2.0" fill="none" stroke="#2ca02c" stroke-width="1.2"/><circle cx="68.4" cy="317.1" r="2.0" fill="none" stroke="#2ca02c" stroke-width="1.2"/><circle cx="68.4" cy="317.1" r="2.0" fill="none" stroke="#2ca02c" stroke-width="1.2"/><circle cx="68.4" cy="318.2" r="2.0" fill="none" stroke="#2ca02c" stroke-width="1.2"/><circle cx="68.4" cy="318.2" r="2.0" fill="none" stroke="#2ca02c" stroke-width="1.2"/><circle cx="68.4" cy="319.4" r="2.0" fill="none" stroke="#2ca02c" stroke-width="1.2"/><circle cx="68.4" cy="319.4" r="2.0" fill="none" stroke="#2ca02c" stroke-width="1.2"/><circle cx="68.4" cy="319.4" r="2.0" fill="none" stroke="#2ca02c" stroke-width="1.2"/><circle cx="68.4" cy="320.6" r="2.0" fill="none" stroke="#2ca02c" stroke-width="1.2"/><circle cx="68.4" cy="320.6" r="2.0" fill="none" stroke="#2ca02c" stroke-width="1.2"/><circle cx="68.4" cy="321.7" r="2.0" fill="none" stroke="#2ca02c" stroke-width="1.2"/><circle cx="68.4" cy="321.7" r="2.0" fill="none" stroke="#2ca02c" stroke-width="1.2"/><circle cx="68.4" cy="324.1" r="2.0" fill="none" stroke="#2ca02c" stroke-width="1.2"/><circle cx="68.4" cy="324.1" r="2.0" fill="none" stroke="#2ca02c" stroke-width="1.2"/><circle cx="68.4" cy="324.1" r="2.0" fill="none" stroke="#2ca02c" stroke-width="1.2"/><circle cx="68.4" cy="325.2" r="2.0" fill="none" stroke="#2ca02c" stroke-width="1.2"/><circle cx="68.4" cy="326.4" r="2.0" fill="none" stroke="#2ca02c" stroke-width="1.2"/><circle cx="68.4" cy="327.6" r="2.0" fill="none" stroke="#2ca02c" stroke-width="1.2"/><circle cx="68.4" cy="327.6" r="2.0" fill="none" stroke="#2ca02c" stroke-width="1.2"/><circle cx="68.4" cy="328.7" r="2.0" fill="none" stroke="#2ca02c" stroke-width="1.2"/><circle cx="68.4" cy="328.7" r="2.0" fill="none" stroke="#2ca02c" stroke-width="1.2"/><circle cx="68.4" cy="329.9" r="2.0" fill="none" stroke="#2ca02c" stroke-width="1.2"/><circle cx="68.4" cy="329.9" r="2.0" fill="none" stroke="#2ca02c" stroke-width="1.2"/><circle cx="68.4" cy="331.1" r="2.0" fill="none" stroke="#2ca02c" stroke-width="1.2"/><circle cx="68.4" cy="332.2" r="2.0" fill="none" stroke="#2ca02c" stroke-width="1.2"/><circle cx="68.4" cy="332.2" r="2.0" fill="none" stroke="#2ca02c" stroke-width="1.2"/><circle cx="68.4" cy="333.4" r="2.0" fill="none" stroke="#2ca02c" stroke-width="1.2"/><circle cx="68.4" cy="334.6" r="2.0" fill="none" stroke="#2ca02c" stroke-width="1.2"/><circle cx="68.4" cy="335.7" r="2.0" fill="none" stroke="#2ca02c" stroke-width="1.2"/><circle cx="68.4" cy="336.9" r="2.0" fill="none" stroke="#2ca02c" stroke-width="1.2"/><circle cx="68.4" cy="336.9" r="2.0" fill="none" stroke="#2ca02c" stroke-width="1.2"/><circle cx="68.4" cy="338.1" r="2.0" fill="none" stroke="#2ca02c" stroke-width="1.2"/><circle cx="68.4" cy="338.1" r="2.0" fill="none" stroke="#2ca02c" stroke-width="1.2"/><circle cx="68.4" cy="339.2" r="2.0" fill="none" stroke="#2ca02c" stroke-width="1.2"/><circle cx="68.4" cy="340.4" r="2.0" fill="none" stroke="#2ca02c" stroke-width="1.2"/><circle cx="68.4" cy="340.4" r="2.0" fill="none" stroke="#2ca02c" stroke-width="1.2"/><circle cx="68.4" cy="341.6" r="2.0" fill="none" stroke="#2ca02c" stroke-width="1.2"/><circle cx="68.4" cy="341.6" r="2.0" fill="none" stroke="#2ca02c" stroke-width="1.2"/><circle cx="68.4" cy="342.7" r="2.0" fill="none" stroke="#2ca02c" stroke-width="1.2"/><circle cx="68.4" cy="343.9" r="2.0" fill="none" stroke="#2ca02c" stroke-width="1.2"/><circle cx="68.4" cy="345.1" r="2.0" fill="none" stroke="#2ca02c" stroke-width="1.2"/><circle cx="68.4" cy="345.1" r="2.0" fill="none" stroke="#2ca02c" stroke-width="1.2"/><circle cx="68.4" cy="346.2" r="2.0" fill="none" stroke="#2ca02c" stroke-width="1.2"/><circle cx="68.4" cy="347.4" r="2.0" fill="none" stroke="#2ca02c" stroke-width="1.2"/><circle cx="68.4" cy="349.7" r="2.0" fill="none" stroke="#2ca02c" stroke-width="1.2"/><circle cx="68.4" cy="349.7" r="2.0" fill="none" stroke="#2ca02c" stroke-width="1.2"/><circle cx="144.5" cy="287.9" r="2.0" fill="none" stroke="#bcbd22" stroke-width="1.2"/><circle cx="144.5" cy="291.4" r="2.0" fill="none" stroke="#bcbd22" stroke-width="1.2"/><circle cx="144.5" cy="297.3" r="2.0" fill="none" stroke="#bcbd22" stroke-width="1.2"/><circle cx="144.5" cy="376.5" r="2.0" fill="none" stroke="#bcbd22" stroke-width="1.2"/><circle cx="144.5" cy="385.9" r="2.0" fill="none" stroke="#bcbd22" stroke-width="1.2"/><circle cx="144.5" cy="389.4" r="2.0" fill="none" stroke="#bcbd22" stroke-width="1.2"/><circle cx="144.5" cy="300.8" r="2.0" fill="none" stroke="#bcbd22" stroke-width="1.2"/><circle cx="144.5" cy="301.9" r="2.0" fill="none" stroke="#bcbd22" stroke-width="1.2"/><circle cx="144.5" cy="301.9" r="2.0" fill="none" stroke="#bcbd22" stroke-width="1.2"/><circle cx="144.5" cy="304.3" r="2.0" fill="none" stroke="#bcbd22" stroke-width="1.2"/><circle cx="144.5" cy="305.4" r="2.0" fill="none" stroke="#bcbd22" stroke-width="1.2"/><circle cx="144.5" cy="305.4" r="2.0" fill="none" stroke="#bcbd22" stroke-width="1.2"/><circle cx="144.5" cy="306.6" r="2.0" fill="none" stroke="#bcbd22" stroke-width="1.2"/><circle cx="144.5" cy="306.6" r="2.0" fill="none" stroke="#bcbd22" stroke-width="1.2"/><circle cx="144.5" cy="306.6" r="2.0" fill="none" stroke="#bcbd22" stroke-width="1.2"/><circle cx="144.5" cy="307.8" r="2.0" fill="none" stroke="#bcbd22" stroke-width="1.2"/><circle cx="144.5" cy="308.9" r="2.0" fill="none" stroke="#bcbd22" stroke-width="1.2"/><circle cx="144.5" cy="311.3" r="2.0" fill="none" stroke="#bcbd22" stroke-width="1.2"/><circle cx="144.5" cy="311.3" r="2.0" fill="none" stroke="#bcbd22" stroke-width="1.2"/><circle cx="144.5" cy="312.4" r="2.0" fill="none" stroke="#bcbd22" stroke-width="1.2"/><circle cx="144.5" cy="313.6" r="2.0" fill="none" stroke="#bcbd22" stroke-width="1.2"/><circle cx="144.5" cy="314.8" r="2.0" fill="none" stroke="#bcbd22" stroke-width="1.2"/><circle cx="144.5" cy="314.8" r="2.0" fill="none" stroke="#bcbd22" stroke-width="1.2"/><circle cx="144.5" cy="315.9" r="2.0" fill="none" stroke="#bcbd22" stroke-width="1.2"/><circle cx="144.5" cy="315.9" r="2.0" fill="none" stroke="#bcbd22" stroke-width="1.2"/><circle cx="144.5" cy="317.1" r="2.0" fill="none" stroke="#bcbd22" stroke-width="1.2"/><circle cx="144.5" cy="318.2" r="2.0" fill="none" stroke="#bcbd22" stroke-width="1.2"/><circle cx="144.5" cy="318.2" r="2.0" fill="none" stroke="#bcbd22" stroke-width="1.2"/><circle cx="144.5" cy="319.4" r="2.0" fill="none" stroke="#bcbd22" stroke-width="1.2"/><circle cx="144.5" cy="319.4" r="2.0" fill="none" stroke="#bcbd22" stroke-width="1.2"/><circle cx="144.5" cy="319.4" r="2.0" fill="none" stroke="#bcbd22" stroke-width="1.2"/><circle cx="144.5" cy="320.6" r="2.0" fill="none" stroke="#bcbd22" stroke-width="1.2"/><circle cx="144.5" cy="320.6" r="2.0" fill="none" stroke="#bcbd22" stroke-width="1.2"/><circle cx="144.5" cy="321.7" r="2.0" fill="none" stroke="#bcbd22" stroke-width="1.2"/><circle cx="144.5" cy="322.9" r="2.0" fill="none" stroke="#bcbd22" stroke-width="1.2"/><circle cx="144.5" cy="324.1" r="2.0" fill="none" stroke="#bcbd22" stroke-width="1.2"/><circle cx="144.5" cy="324.1" r="2.0" fill="none" stroke="#bcbd22" stroke-width="1.2"/><circle cx="144.5" cy="325.2" r="2.0" fill="none" stroke="#bcbd22" stroke-width="1.2"/><circle cx="144.5" cy="325.2" r="2.0" fill="none" stroke="#bcbd22" stroke-width="1.2"/><circle cx="144.5" cy="326.4" r="2.0" fill="none" stroke="#bcbd22" stroke-width="1.2"/><circle cx="144.5" cy="326.4" r="2.0" fill="none" stroke="#bcbd22" stroke-width="1.2"/><circle cx="144.5" cy="327.6" r="2.0" fill="none" stroke="#bcbd22" stroke-width="1.2"/><circle cx="144.5" cy="328.7" r="2.0" fill="none" stroke="#bcbd22" stroke-width="1.2"/><circle cx="144.5" cy="331.1" r="2.0" fill="none" stroke="#bcbd22" stroke-width="1.2"/><circle cx="144.5" cy="332.2" r="2.0" fill="none" stroke="#bcbd22" stroke-width="1.2"/><circle cx="144.5" cy="332.2" r="2.0" fill="none" stroke="#bcbd22" stroke-width="1.2"/><circle cx="144.5" cy="333.4" r="2.0" fill="none" stroke="#bcbd22" stroke-width="1.2"/><circle cx="144.5" cy="333.4" r="2.0" fill="none" stroke="#bcbd22" stroke-width="1.2"/><circle cx="144.5" cy="334.6" r="2.0" fill="none" stroke="#bcbd22" stroke-width="1.2"/><circle cx="144.5" cy="334.6" r="2.0" fill="none" stroke="#bcbd22" stroke-width="1.2"/><circle cx="144.5" cy="335.7" r="2.0" fill="none" stroke="#bcbd22" stroke-width="1.2"/><circle cx="144.5" cy="335.7" r="2.0" fill="none" stroke="#bcbd22" stroke-width="1.2"/><circle cx="144.5" cy="336.9" r="2.0" fill="none" stroke="#bcbd22" stroke-width="1.2"/><circle cx="144.5" cy="338.1" r="2.0" fill="none" stroke="#bcbd22" stroke-width="1.2"/><circle cx="144.5" cy="338.1" r="2.0" fill="none" stroke="#bcbd22" stroke-width="1.2"/><circle cx="144.5" cy="339.2" r="2.0" fill="none" stroke="#bcbd22" stroke-width="1.2"/><circle cx="144.5" cy="339.2" r="2.0" fill="none" stroke="#bcbd22" stroke-width="1.2"/><circle cx="144.5" cy="339.2" r="2.0" fill="none" stroke="#bcbd22" stroke-width="1.2"/><circle cx="144.5" cy="340.4" r="2.0" fill="none" stroke="#bcbd22" stroke-width="1.2"/><circle cx="144.5" cy="340.4" r="2.0" fill="none" stroke="#bcbd22" stroke-width="1.2"/><circle cx="144.5" cy="340.4" r="2.0" fill="none" stroke="#bcbd22" stroke-width="1.2"/><circle cx="144.5" cy="341.6" r="2.0" fill="none" stroke="#bcbd22" stroke-width="1.2"/><circle cx="144.5" cy="341.6" r="2.0" fill="none" stroke="#bcbd22" stroke-width="1.2"/><circle cx="144.5" cy="343.9" r="2.0" fill="none" stroke="#bcbd22" stroke-width="1.2"/><circle cx="144.5" cy="343.9" r="2.0" fill="none" stroke="#bcbd22" stroke-width="1.2"/><circle cx="144.5" cy="345.1" r="2.0" fill="none" stroke="#bcbd22" stroke-width="1.2"/><circle cx="144.5" cy="346.2" r="2.0" fill="none" stroke="#bcbd22" stroke-width="1.2"/><circle cx="144.5" cy="346.2" r="2.0" fill="none" stroke="#bcbd22" stroke-width="1.2"/><circle cx="144.5" cy="347.4" r="2.0" fill="none" stroke="#bcbd22" stroke-width="1.2"/><circle cx="144.5" cy="347.4" r="2.0" fill="none" stroke="#bcbd22" stroke-width="1.2"/><circle cx="144.5" cy="348.6" r="2.0" fill="none" stroke="#bcbd22" stroke-width="1.2"/><circle cx="144.5" cy="350.9" r="2.0" fill="none" stroke="#bcbd22" stroke-width="1.2"/><circle cx="144.5" cy="352.1" r="2.0" fill="none" stroke="#bcbd22" stroke-width="1.2"/><circle cx="144.5" cy="352.1" r="2.0" fill="none" stroke="#bcbd22" stroke-width="1.2"/><circle cx="144.5" cy="353.2" r="2.0" fill="none" stroke="#bcbd22" stroke-width="1.2"/><circle cx="144.5" cy="353.2" r="2.0" fill="none" stroke="#bcbd22" stroke-width="1.2"/><circle cx="144.5" cy="353.2" r="2.0" fill="none" stroke="#bcbd22" stroke-width="1.2"/><circle cx="144.5" cy="354.4" r="2.0" fill="none" stroke="#bcbd22" stroke-width="1.2"/><circle cx="144.5" cy="354.4" r="2.0" fill="none" stroke="#bcbd22" stroke-width="1.2"/><circle cx="144.5" cy="355.6" r="2.0" fill="none" stroke="#bcbd22" stroke-width="1.2"/><circle cx="144.5" cy="356.7" r="2.0" fill="none" stroke="#bcbd22" stroke-width="1.2"/><circle cx="144.5" cy="357.9" r="2.0" fill="none" stroke="#bcbd22" stroke-width="1.2"/><circle cx="144.5" cy="359.1" r="2.0" fill="none" stroke="#bcbd22" stroke-width="1.2"/><circle cx="144.5" cy="360.2" r="2.0" fill="none" stroke="#bcbd22" stroke-width="1.2"/><circle cx="144.5" cy="360.2" r="2.0" fill="none" stroke="#bcbd22" stroke-width="1.2"/><circle cx="144.5" cy="361.4" r="2.0" fill="none" stroke="#bcbd22" stroke-width="1.2"/><circle cx="144.5" cy="362.6" r="2.0" fill="none" stroke="#bcbd22" stroke-width="1.2"/><circle cx="144.5" cy="363.7" r="2.0" fill="none" stroke="#bcbd22" stroke-width="1.2"/><circle cx="144.5" cy="363.7" r="2.0" fill="none" stroke="#bcbd22" stroke-width="1.2"/><circle cx="144.5" cy="364.9" r="2.0" fill="none" stroke="#bcbd22" stroke-width="1.2"/><circle cx="144.5" cy="366.1" r="2.0" fill="none" stroke="#bcbd22" stroke-width="1.2"/><circle cx="144.5" cy="367.2" r="2.0" fill="none" stroke="#bcbd22" stroke-width="1.2"/><circle cx="144.5" cy="368.4" r="2.0" fill="none" stroke="#bcbd22" stroke-width="1.2"/><circle cx="144.5" cy="368.4" r="2.0" fill="none" stroke="#bcbd22" stroke-width="1.2"/><path d="M181.9 399.8L249.9 361.4M182.3 393.7L249.5 371.1M182.2 390.1L249.6 365.4M182.1 387.4L249.7 356.4M182.5 382.3L249.3 381.3M181.9 376.5L249.9 337.0M181.8 371.7L250.0 330.1M181.9 356.8L249.9 395.2M182.1 351.4L249.7 323.6M181.8 367.1L250.0 325.4M181.9 361.5L249.9 325.2M181.8 364.7L250.0 323.1M182.5 350.9L249.3 350.9M181.7 366.9L250.1 322.0M182.2 353.8L249.6 379.5M181.7 365.8L250.1 320.9M181.9 360.2L249.9 321.8M182.5 341.8L249.3 344.8M182.5 369.2L249.3 364.1M182.5 336.5L249.3 330.3M182.4 343.5L249.4 354.8M182.5 357.6L249.3 353.5M182.4 331.0L249.4 346.3M181.9 326.3L249.9 362.6M182.5 354.5L249.3 355.5M182.5 348.0L249.3 339.8M182.4 348.9L249.4 337.7M182.5 364.4L249.3 373.6M182.2 369.0L249.6 343.3M182.3 350.0L249.5 370.5M182.5 372.3L249.3 378.4M182.5 360.4L249.3 362.4M182.3 356.9L249.5 376.4M182.5 322.0L249.3 326.1M182.3 331.3L249.5 351.8M182.5 360.8L249.3 369.0M182.5 364.6L249.3 360.5M182.3 343.9L249.5 361.4M182.4 362.4L249.4 376.7M182.1 365.2L249.7 334.2M182.3 343.9L249.5 326.4M182.2 329.3L249.6 356.1M182.3 339.1L249.5 320.7M182.5 349.4L249.3 344.3M182.4 362.4L249.4 376.7M182.3 365.9L249.5 346.4M182.3 343.0L249.5 364.6M182.5 357.0L249.3 361.1M182.3 351.3L249.5 373.9M182.4 356.4L249.4 368.7M182.5 367.7L249.3 358.5M181.7 365.8L250.1 320.9M182.3 346.1L249.5 327.7M182.2 346.7L249.6 371.4M182.5 343.5L249.3 337.3M182.3 344.9L249.5 325.4M182.2 349.0L249.6 372.6M182.2 350.3L249.6 323.5M182.4 345.3L249.4 332.0M182.1 341.2L249.7 371.1M182.4 337.3L249.4 326.0M182.5 356.4L249.3 352.4M182.3 369.4L249.5 351.0M181.9 362.5L249.9 323.0M182.0 363.9L249.8 329.7M182.1 360.7L249.7 332.9M182.2 350.5L249.6 326.8M182.5 369.9L249.3 375.0M182.5 348.1L249.3 340.9M182.4 340.5L249.4 325.1M182.4 333.6L249.4 320.3M182.3 356.4L249.5 333.8" stroke="#000" stroke-width="1.0" fill="none"/><circle cx="177.7" cy="299.6" r="2.0" fill="none" stroke="#2ca02c" stroke-width="1.2"/><circle cx="177.7" cy="374.2" r="2.0" fill="none" stroke="#2ca02c" stroke-width="1.2"/><circle cx="177.7" cy="378.9" r="2.0" fill="none" stroke="#2ca02c" stroke-width="1.2"/><circle cx="177.7" cy="382.4" r="2.0" fill="none" stroke="#2ca02c" stroke-width="1.2"/><circle cx="177.7" cy="389.4" r="2.0" fill="none" stroke="#2ca02c" stroke-width="1.2"/><circle cx="177.7" cy="391.7" r="2.0" fill="none" stroke="#2ca02c" stroke-width="1.2"/><circle cx="177.7" cy="395.2" r="2.0" fill="none" stroke="#2ca02c" stroke-width="1.2"/><circle cx="177.7" cy="402.2" r="2.0" fill="none" stroke="#2ca02c" stroke-width="1.2"/><circle cx="177.7" cy="318.2" r="2.0" fill="none" stroke="#2ca02c" stroke-width="1.2"/><circle cx="177.7" cy="320.6" r="2.0" fill="none" stroke="#2ca02c" stroke-width="1.2"/><circle cx="177.7" cy="321.7" r="2.0" fill="none" stroke="#2ca02c" stroke-width="1.2"/><circle cx="177.7" cy="324.1" r="2.0" fill="none" stroke="#2ca02c" stroke-width="1.2"/><circle cx="177.7" cy="327.6" r="2.0" fill="none" stroke="#2ca02c" stroke-width="1.2"/><circle cx="177.7" cy="328.7" r="2.0" fill="none" stroke="#2ca02c" stroke-width="1.2"/><circle cx="177.7" cy="329.9" r="2.0" fill="none" stroke="#2ca02c" stroke-width="1.2"/><circle cx="177.7" cy="329.9" r="2.0" fill="none" stroke="#2ca02c" stroke-width="1.2"/><circle cx="177.7" cy="332.2" r="2.0" fill="none" stroke="#2ca02c" stroke-width="1.2"/><circle cx="177.7" cy="333.4" r="2.0" fill="none" stroke="#2ca02c" stroke-width="1.2"/><circle cx="177.7" cy="334.6" r="2.0" fill="none" stroke="#2ca02c" stroke-width="1.2"/><circle cx="177.7" cy="336.9" r="2.0" fill="none" stroke="#2ca02c" stroke-width="1.2"/><circle cx="177.7" cy="338.1" r="2.0" fill="none" stroke="#2ca02c" stroke-width="1.2"/><circle cx="177.7" cy="339.2" r="2.0" fill="none" stroke="#2ca02c" stroke-width="1.2"/><circle cx="177.7" cy="339.2" r="2.0" fill="none" stroke="#2ca02c" stroke-width="1.2"/><circle cx="177.7" cy="340.4" r="2.0" fill="none" stroke="#2ca02c" stroke-width="1.2"/><circle cx="177.7" cy="340.4" r="2.0" fill="none" stroke="#2ca02c" stroke-width="1.2"/><circle cx="177.7" cy="341.6" r="2.0" fill="none" stroke="#2ca02c" stroke-width="1.2"/><circle cx="177.7" cy="341.6" r="2.0" fill="none" stroke="#2ca02c" stroke-width="1.2"/><circle cx="177.7" cy="341.6" r="2.0" fill="none" stroke="#2ca02c" stroke-width="1.2"/><circle cx="177.7" cy="342.7" r="2.0" fill="none" stroke="#2ca02c" stroke-width="1.2"/><circle cx="177.7" cy="342.7" r="2.0" fill="none" stroke="#2ca02c" stroke-width="1.2"/><circle cx="177.7" cy="343.9" r="2.0" fill="none" stroke="#2ca02c" stroke-width="1.2"/><circle cx="177.7" cy="343.9" r="2.0" fill="none" stroke="#2ca02c" stroke-width="1.2"/><circle cx="177.7" cy="345.1" r="2.0" fill="none" stroke="#2ca02c" stroke-width="1.2"/><circle cx="177.7" cy="345.1" r="2.0" fill="none" stroke="#2ca02c" stroke-width="1.2"/><circle cx="177.7" cy="345.1" r="2.0" fill="none" stroke="#2ca02c" stroke-width="1.2"/><circle cx="177.7" cy="346.2" r="2.0" fill="none" stroke="#2ca02c" stroke-width="1.2"/><circle cx="177.7" cy="346.2" r="2.0" fill="none" stroke="#2ca02c" stroke-width="1.2"/><circle cx="177.7" cy="346.2" r="2.0" fill="none" stroke="#2ca02c" stroke-width="1.2"/><circle cx="177.7" cy="346.2" r="2.0" fill="none" stroke="#2ca02c" stroke-width="1.2"/><circle cx="177.7" cy="347.4" r="2.0" fill="none" stroke="#2ca02c" stroke-width="1.2"/><circle cx="177.7" cy="347.4" r="2.0" fill="none" stroke="#2ca02c" stroke-width="1.2"/><circle cx="177.7" cy="348.6" r="2.0" fill="none" stroke="#2ca02c" stroke-width="1.2"/><circle cx="177.7" cy="348.6" r="2.0" fill="none" stroke="#2ca02c" stroke-width="1.2"/><circle cx="177.7" cy="348.6" r="2.0" fill="none" stroke="#2ca02c" stroke-width="1.2"/><circle cx="177.7" cy="349.7" r="2.0" fill="none" stroke="#2ca02c" stroke-width="1.2"/><circle cx="177.7" cy="349.7" r="2.0" fill="none" stroke="#2ca02c" stroke-width="1.2"/><circle cx="177.7" cy="349.7" r="2.0" fill="none" stroke="#2ca02c" stroke-width="1.2"/><circle cx="177.7" cy="350.9" r="2.0" fill="none" stroke="#2ca02c" stroke-width="1.2"/><circle cx="177.7" cy="352.1" r="2.0" fill="none" stroke="#2ca02c" stroke-width="1.2"/><circle cx="177.7" cy="352.1" r="2.0" fill="none" stroke="#2ca02c" stroke-width="1.2"/><circle cx="177.7" cy="352.1" r="2.0" fill="none" stroke="#2ca02c" stroke-width="1.2"/><circle cx="177.7" cy="353.2" r="2.0" fill="none" stroke="#2ca02c" stroke-width="1.2"/><circle cx="177.7" cy="353.2" r="2.0" fill="none" stroke="#2ca02c" stroke-width="1.2"/><circle cx="177.7" cy="354.4" r="2.0" fill="none" stroke="#2ca02c" stroke-width="1.2"/><circle cx="177.7" cy="354.4" r="2.0" fill="none" stroke="#2ca02c" stroke-width="1.2"/><circle cx="177.7" cy="355.6" r="2.0" fill="none" stroke="#2ca02c" stroke-width="1.2"/><circle cx="177.7" cy="355.6" r="2.0" fill="none" stroke="#2ca02c" stroke-width="1.2"/><circle cx="177.7" cy="355.6" r="2.0" fill="none" stroke="#2ca02c" stroke-width="1.2"/><circle cx="177.7" cy="356.7" r="2.0" fill="none" stroke="#2ca02c" stroke-width="1.2"/><circle cx="177.7" cy="356.7" r="2.0" fill="none" stroke="#2ca02c" stroke-width="1.2"/><circle cx="177.7" cy="356.7" r="2.0" fill="none" stroke="#2ca02c" stroke-width="1.2"/><circle cx="177.7" cy="357.9" r="2.0" fill="none" stroke="#2ca02c" stroke-width="1.2"/><circle cx="177.7" cy="357.9" r="2.0" fill="none" stroke="#2ca02c" stroke-width="1.2"/><circle cx="177.7" cy="357.9" r="2.0" fill="none" stroke="#2ca02c" stroke-width="1.2"/><circle cx="177.7" cy="359.1" r="2.0" fill="none" stroke="#2ca02c" stroke-width="1.2"/><circle cx="177.7" cy="360.2" r="2.0" fill="none" stroke="#2ca02c" stroke-width="1.2"/><circle cx="177.7" cy="360.2" r="2.0" fill="none" stroke="#2ca02c" stroke-width="1.2"/><circle cx="177.7" cy="360.2" r="2.0" fill="none" stroke="#2ca02c" stroke-width="1.2"/><circle cx="177.7" cy="361.4" r="2.0" fill="none" stroke="#2ca02c" stroke-width="1.2"/><circle cx="177.7" cy="361.4" r="2.0" fill="none" stroke="#2ca02c" stroke-width="1.2"/><circle cx="177.7" cy="362.6" r="2.0" fill="none" stroke="#2ca02c" stroke-width="1.2"/><circle cx="177.7" cy="362.6" r="2.0" fill="none" stroke="#2ca02c" stroke-width="1.2"/><circle cx="177.7" cy="362.6" r="2.0" fill="none" stroke="#2ca02c" stroke-width="1.2"/><circle cx="177.7" cy="362.6" r="2.0" fill="none" stroke="#2ca02c" stroke-width="1.2"/><circle cx="177.7" cy="363.7" r="2.0" fill="none" stroke="#2ca02c" stroke-width="1.2"/><circle cx="177.7" cy="363.7" r="2.0" fill="none" stroke="#2ca02c" stroke-width="1.2"/><circle cx="177.7" cy="363.7" r="2.0" fill="none" stroke="#2ca02c" stroke-width="1.2"/><circle cx="177.7" cy="364.9" r="2.0" fill="none" stroke="#2ca02c" stroke-width="1.2"/><circle cx="177.7" cy="364.9" r="2.0" fill="none" stroke="#2ca02c" stroke-width="1.2"/><circle cx="177.7" cy="364.9" r="2.0" fill="none" stroke="#2ca02c" stroke-width="1.2"/><circle cx="177.7" cy="366.1" r="2.0" fill="none" stroke="#2ca02c" stroke-width="1.2"/><circle cx="177.7" cy="366.1" r="2.0" fill="none" stroke="#2ca02c" stroke-width="1.2"/><circle cx="177.7" cy="367.2" r="2.0" fill="none" stroke="#2ca02c" stroke-width="1.2"/><circle cx="177.7" cy="367.2" r="2.0" fill="none" stroke="#2ca02c" stroke-width="1.2"/><circle cx="177.7" cy="367.2" r="2.0" fill="none" stroke="#2ca02c" stroke-width="1.2"/><circle cx="177.7" cy="367.2" r="2.0" fill="none" stroke="#2ca02c" stroke-width="1.2"/><circle cx="177.7" cy="368.4" r="2.0" fill="none" stroke="#2ca02c" stroke-width="1.2"/><circle cx="177.7" cy="368.4" r="2.0" fill="none" stroke="#2ca02c" stroke-width="1.2"/><circle cx="177.7" cy="368.4" r="2.0" fill="none" stroke="#2ca02c" stroke-width="1.2"/><circle cx="177.7" cy="369.6" r="2.0" fill="none" stroke="#2ca02c" stroke-width="1.2"/><circle cx="177.7" cy="369.6" r="2.0" fill="none" stroke="#2ca02c" stroke-width="1.2"/><circle cx="177.7" cy="369.6" r="2.0" fill="none" stroke="#2ca02c" stroke-width="1.2"/><circle cx="177.7" cy="369.6" r="2.0" fill="none" stroke="#2ca02c" stroke-width="1.2"/><circle cx="177.7" cy="370.7" r="2.0" fill="none" stroke="#2ca02c" stroke-width="1.2"/><circle cx="177.7" cy="370.7" r="2.0" fill="none" stroke="#2ca02c" stroke-width="1.2"/><circle cx="177.7" cy="371.9" r="2.0" fill="none" stroke="#2ca02c" stroke-width="1.2"/><circle cx="254.1" cy="369.6" r="2.0" fill="none" stroke="#bcbd22" stroke-width="1.2"/><circle cx="254.1" cy="373.1" r="2.0" fill="none" stroke="#bcbd22" stroke-width="1.2"/><circle cx="254.1" cy="377.7" r="2.0" fill="none" stroke="#bcbd22" stroke-width="1.2"/><circle cx="254.1" cy="381.2" r="2.0" fill="none" stroke="#bcbd22" stroke-width="1.2"/><circle cx="254.1" cy="385.9" r="2.0" fill="none" stroke="#bcbd22" stroke-width="1.2"/><circle cx="254.1" cy="397.5" r="2.0" fill="none" stroke="#bcbd22" stroke-width="1.2"/><circle cx="254.1" cy="402.2" r="2.0" fill="none" stroke="#bcbd22" stroke-width="1.2"/><circle cx="254.1" cy="317.1" r="2.0" fill="none" stroke="#bcbd22" stroke-width="1.2"/><circle cx="254.1" cy="318.2" r="2.0" fill="none" stroke="#bcbd22" stroke-width="1.2"/><circle cx="254.1" cy="318.2" r="2.0" fill="none" stroke="#bcbd22" stroke-width="1.2"/><circle cx="254.1" cy="319.4" r="2.0" fill="none" stroke="#bcbd22" stroke-width="1.2"/><circle cx="254.1" cy="319.4" r="2.0" fill="none" stroke="#bcbd22" stroke-width="1.2"/><circle cx="254.1" cy="319.4" r="2.0" fill="none" stroke="#bcbd22" stroke-width="1.2"/><circle cx="254.1" cy="319.4" r="2.0" fill="none" stroke="#bcbd22" stroke-width="1.2"/><circle cx="254.1" cy="320.6" r="2.0" fill="none" stroke="#bcbd22" stroke-width="1.2"/><circle cx="254.1" cy="320.6" r="2.0" fill="none" stroke="#bcbd22" stroke-width="1.2"/><circle cx="254.1" cy="320.6" r="2.0" fill="none" stroke="#bcbd22" stroke-width="1.2"/><circle cx="254.1" cy="320.6" r="2.0" fill="none" stroke="#bcbd22" stroke-width="1.2"/><circle cx="254.1" cy="321.7" r="2.0" fill="none" stroke="#bcbd22" stroke-width="1.2"/><circle cx="254.1" cy="321.7" r="2.0" fill="none" stroke="#bcbd22" stroke-width="1.2"/><circle cx="254.1" cy="321.7" r="2.0" fill="none" stroke="#bcbd22" stroke-width="1.2"/><circle cx="254.1" cy="322.9" r="2.0" fill="none" stroke="#bcbd22" stroke-width="1.2"/><circle cx="254.1" cy="322.9" r="2.0" fill="none" stroke="#bcbd22" stroke-width="1.2"/><circle cx="254.1" cy="324.1" r="2.0" fill="none" stroke="#bcbd22" stroke-width="1.2"/><circle cx="254.1" cy="324.1" r="2.0" fill="none" stroke="#bcbd22" stroke-width="1.2"/><circle cx="254.1" cy="324.1" r="2.0" fill="none" stroke="#bcbd22" stroke-width="1.2"/><circle cx="254.1" cy="324.1" r="2.0" fill="none" stroke="#bcbd22" stroke-width="1.2"/><circle cx="254.1" cy="325.2" r="2.0" fill="none" stroke="#bcbd22" stroke-width="1.2"/><circle cx="254.1" cy="325.2" r="2.0" fill="none" stroke="#bcbd22" stroke-width="1.2"/><circle cx="254.1" cy="325.2" r="2.0" fill="none" stroke="#bcbd22" stroke-width="1.2"/><circle cx="254.1" cy="326.4" r="2.0" fill="none" stroke="#bcbd22" stroke-width="1.2"/><circle cx="254.1" cy="326.4" r="2.0" fill="none" stroke="#bcbd22" stroke-width="1.2"/><circle cx="254.1" cy="327.6" r="2.0" fill="none" stroke="#bcbd22" stroke-width="1.2"/><circle cx="254.1" cy="327.6" r="2.0" fill="none" stroke="#bcbd22" stroke-width="1.2"/><circle cx="254.1" cy="327.6" r="2.0" fill="none" stroke="#bcbd22" stroke-width="1.2"/><circle cx="254.1" cy="328.7" r="2.0" fill="none" stroke="#bcbd22" stroke-width="1.2"/><circle cx="254.1" cy="329.9" r="2.0" fill="none" stroke="#bcbd22" stroke-width="1.2"/><circle cx="254.1" cy="331.1" r="2.0" fill="none" stroke="#bcbd22" stroke-width="1.2"/><circle cx="254.1" cy="331.1" r="2.0" fill="none" stroke="#bcbd22" stroke-width="1.2"/><circle cx="254.1" cy="332.2" r="2.0" fill="none" stroke="#bcbd22" stroke-width="1.2"/><circle cx="254.1" cy="332.2" r="2.0" fill="none" stroke="#bcbd22" stroke-width="1.2"/><circle cx="254.1" cy="333.4" r="2.0" fill="none" stroke="#bcbd22" stroke-width="1.2"/><circle cx="254.1" cy="334.6" r="2.0" fill="none" stroke="#bcbd22" stroke-width="1.2"/><circle cx="254.1" cy="334.6" r="2.0" fill="none" stroke="#bcbd22" stroke-width="1.2"/><circle cx="254.1" cy="336.9" r="2.0" fill="none" stroke="#bcbd22" stroke-width="1.2"/><circle cx="254.1" cy="336.9" r="2.0" fill="none" stroke="#bcbd22" stroke-width="1.2"/><circle cx="254.1" cy="339.2" r="2.0" fill="none" stroke="#bcbd22" stroke-width="1.2"/><circle cx="254.1" cy="340.4" r="2.0" fill="none" stroke="#bcbd22" stroke-width="1.2"/><circle cx="254.1" cy="340.4" r="2.0" fill="none" stroke="#bcbd22" stroke-width="1.2"/><circle cx="254.1" cy="341.6" r="2.0" fill="none" stroke="#bcbd22" stroke-width="1.2"/><circle cx="254.1" cy="341.6" r="2.0" fill="none" stroke="#bcbd22" stroke-width="1.2"/><circle cx="254.1" cy="342.7" r="2.0" fill="none" stroke="#bcbd22" stroke-width="1.2"/><circle cx="254.1" cy="343.9" r="2.0" fill="none" stroke="#bcbd22" stroke-width="1.2"/><circle cx="254.1" cy="345.1" r="2.0" fill="none" stroke="#bcbd22" stroke-width="1.2"/><circle cx="254.1" cy="345.1" r="2.0" fill="none" stroke="#bcbd22" stroke-width="1.2"/><circle cx="254.1" cy="347.4" r="2.0" fill="none" stroke="#bcbd22" stroke-width="1.2"/><circle cx="254.1" cy="348.6" r="2.0" fill="none" stroke="#bcbd22" stroke-width="1.2"/><circle cx="254.1" cy="349.7" r="2.0" fill="none" stroke="#bcbd22" stroke-width="1.2"/><circle cx="254.1" cy="350.9" r="2.0" fill="none" stroke="#bcbd22" stroke-width="1.2"/><circle cx="254.1" cy="352.1" r="2.0" fill="none" stroke="#bcbd22" stroke-width="1.2"/><circle cx="254.1" cy="353.2" r="2.0" fill="none" stroke="#bcbd22" stroke-width="1.2"/><circle cx="254.1" cy="353.2" r="2.0" fill="none" stroke="#bcbd22" stroke-width="1.2"/><circle cx="254.1" cy="354.4" r="2.0" fill="none" stroke="#bcbd22" stroke-width="1.2"/><circle cx="254.1" cy="355.6" r="2.0" fill="none" stroke="#bcbd22" stroke-width="1.2"/><circle cx="254.1" cy="355.6" r="2.0" fill="none" stroke="#bcbd22" stroke-width="1.2"/><circle cx="254.1" cy="356.7" r="2.0" fill="none" stroke="#bcbd22" stroke-width="1.2"/><circle cx="254.1" cy="357.9" r="2.0" fill="none" stroke="#bcbd22" stroke-width="1.2"/><circle cx="254.1" cy="357.9" r="2.0" fill="none" stroke="#bcbd22" stroke-width="1.2"/><circle cx="254.1" cy="359.1" r="2.0" fill="none" stroke="#bcbd22" stroke-width="1.2"/><circle cx="254.1" cy="360.2" r="2.0" fill="none" stroke="#bcbd22" stroke-width="1.2"/><circle cx="254.1" cy="361.4" r="2.0" fill="none" stroke="#bcbd22" stroke-width="1.2"/><circle cx="254.1" cy="362.6" r="2.0" fill="none" stroke="#bcbd22" stroke-width="1.2"/><circle cx="254.1" cy="362.6" r="2.0" fill="none" stroke="#bcbd22" stroke-width="1.2"/><circle cx="254.1" cy="363.7" r="2.0" fill="none" stroke="#bcbd22" stroke-width="1.2"/><circle cx="254.1" cy="363.7" r="2.0" fill="none" stroke="#bcbd22" stroke-width="1.2"/><circle cx="254.1" cy="364.9" r="2.0" fill="none" stroke="#bcbd22" stroke-width="1.2"/><circle cx="254.1" cy="366.1" r="2.0" fill="none" stroke="#bcbd22" stroke-width="1.2"/><circle cx="254.1" cy="366.1" r="2.0" fill="none" stroke="#bcbd22" stroke-width="1.2"/><circle cx="254.1" cy="367.2" r="2.0" fill="none" stroke="#bcbd22" stroke-width="1.2"/><circle cx="254.1" cy="369.6" r="2.0" fill="none" stroke="#bcbd22" stroke-width="1.2"/><circle cx="254.1" cy="369.6" r="2.0" fill="none" stroke="#bcbd22" stroke-width="1.2"/><circle cx="254.1" cy="370.7" r="2.0" fill="none" stroke="#bcbd22" stroke-width="1.2"/><circle cx="254.1" cy="371.9" r="2.0" fill="none" stroke="#bcbd22" stroke-width="1.2"/><circle cx="254.1" cy="373.1" r="2.0" fill="none" stroke="#bcbd22" stroke-width="1.2"/><circle cx="254.1" cy="374.2" r="2.0" fill="none" stroke="#bcbd22" stroke-width="1.2"/><circle cx="254.1" cy="374.2" r="2.0" fill="none" stroke="#bcbd22" stroke-width="1.2"/><circle cx="254.1" cy="375.4" r="2.0" fill="none" stroke="#bcbd22" stroke-width="1.2"/><circle cx="254.1" cy="375.4" r="2.0" fill="none" stroke="#bcbd22" stroke-width="1.2"/><circle cx="254.1" cy="377.7" r="2.0" fill="none" stroke="#bcbd22" stroke-width="1.2"/><circle cx="254.1" cy="377.7" r="2.0" fill="none" stroke="#bcbd22" stroke-width="1.2"/><circle cx="254.1" cy="378.9" r="2.0" fill="none" stroke="#bcbd22" stroke-width="1.2"/><circle cx="254.1" cy="381.2" r="2.0" fill="none" stroke="#bcbd22" stroke-width="1.2"/><rect x="43.20" y="244.30" width="236.30" height="164.10" fill="none" stroke="#1a1a1a" stroke-width="1"/><line x1="37.20" y1="402.20" x2="43.20" y2="402.20" stroke="#1a1a1a" stroke-width="1"/><text x="30.60" y="402.20" font-size="9.3" text-anchor="middle" transform="rotate(-90 30.60 402.20)" fill="#000">0</text><line x1="37.20" y1="378.88" x2="43.20" y2="378.88" stroke="#1a1a1a" stroke-width="1"/><text x="30.60" y="378.88" font-size="9.3" text-anchor="middle" transform="rotate(-90 30.60 378.88)" fill="#000">10</text><line x1="37.20" y1="355.56" x2="43.20" y2="355.56" stroke="#1a1a1a" stroke-width="1"/><text x="30.60" y="355.56" font-size="9.3" text-anchor="middle" transform="rotate(-90 30.60 355.56)" fill="#000">20</text><line x1="37.20" y1="332.24" x2="43.20" y2="332.24" stroke="#1a1a1a" stroke-width="1"/><text x="30.60" y="332.24" font-size="9.3" text-anchor="middle" transform="rotate(-90 30.60 332.24)" fill="#000">30</text><line x1="37.20" y1="308.92" x2="43.20" y2="308.92" stroke="#1a1a1a" stroke-width="1"/><text x="30.60" y="308.92" font-size="9.3" text-anchor="middle" transform="rotate(-90 30.60 308.92)" fill="#000">40</text><line x1="37.20" y1="285.60" x2="43.20" y2="285.60" stroke="#1a1a1a" stroke-width="1"/><text x="30.60" y="285.60" font-size="9.3" text-anchor="middle" transform="rotate(-90 30.60 285.60)" fill="#000">50</text><line x1="37.20" y1="262.28" x2="43.20" y2="262.28" stroke="#1a1a1a" stroke-width="1"/><text x="30.60" y="262.28" font-size="9.3" text-anchor="middle" transform="rotate(-90 30.60 262.28)" fill="#000">60</text><text x="12.10" y="325.60" font-size="13.2" text-anchor="middle" font-weight="bold" transform="rotate(-90 12.10 325.60)" fill="#000">HKDT</text><text x="20.60" y="325.60" font-size="11.1" text-anchor="middle" transform="rotate(-90 20.60 325.60)" fill="#000">(minutes)</text><line x1="106.40" y1="408.40" x2="106.40" y2="413.40" stroke="#1a1a1a" stroke-width="1"/><text x="106.40" y="427.50" font-size="9.3" text-anchor="middle" fill="#000">7</text><line x1="216.10" y1="408.40" x2="216.10" y2="413.40" stroke="#1a1a1a" stroke-width="1"/><text x="216.10" y="427.50" font-size="9.3" text-anchor="middle" fill="#000">16</text><text x="64.80" y="259.20" font-size="8.9" text-anchor="start" fill="#000">n =&#160; 97</text><text x="119.60" y="259.20" font-size="8.9" text-anchor="start" fill="#000">n =&#160; 94</text><text x="174.50" y="259.20" font-size="8.9" text-anchor="start" fill="#000">n =&#160; 97</text><text x="229.30" y="259.20" font-size="8.9" text-anchor="start" fill="#000">n =&#160; 94</text><text x="161.35" y="439.40" font-size="13.2" text-anchor="middle" font-weight="bold" fill="#000">Age</text><text x="161.35" y="452.50" font-size="11.1" text-anchor="middle" fill="#000">(days)</text><text x="0.20" y="238.50" font-size="13.3" text-anchor="start" fill="#000">C</text><path d="M370.4 382.0L448.8 380.5M369.8 269.9L449.4 314.1M370.1 279.4L449.1 308.1M370.2 284.3L449.0 309.9M370.3 287.0L448.9 302.1M370.1 291.3L449.1 323.1M370.4 294.6L448.8 294.6M369.9 310.2L449.3 349.7M370.4 333.8L448.8 342.8M370.3 349.2L448.9 362.8M370.3 304.0L448.9 322.1M370.3 337.6L448.9 325.6M370.4 324.2L448.8 313.7M370.4 317.1L448.8 327.6M370.3 347.7L448.9 335.7M370.2 326.2L449.0 348.8M370.4 365.1L448.8 362.1M370.4 319.4L448.8 311.8M370.4 342.3L448.8 352.8M370.3 327.4L448.9 313.9M370.4 321.6L448.8 323.1M370.4 345.1L448.8 345.1M370.3 327.1L448.9 307.5M370.4 345.5L448.8 353.0M370.3 335.9L448.9 350.9M370.3 312.4L448.9 328.9M370.4 330.0L448.8 331.5M370.4 339.6L448.8 333.6M370.3 349.0L448.9 329.4M370.4 318.7L448.8 327.7M370.4 334.6L448.8 328.6M370.2 302.8L449.0 328.4M370.2 345.3L449.0 321.2M370.2 314.3L449.0 335.4M370.1 301.2L449.1 330.0M370.4 333.6L448.8 338.1M370.4 350.0L448.8 348.5M369.9 306.8L449.3 346.3M370.4 311.1L448.8 306.6M370.1 323.1L449.1 350.2M370.2 311.0L449.0 333.6M370.3 342.6L448.9 357.6M370.1 321.4L449.1 350.2M370.4 323.1L448.8 321.6M370.4 343.7L448.8 348.2M370.1 323.3L449.1 355.1M370.3 344.5L448.9 362.5M370.3 319.2L448.9 337.3M370.4 308.0L448.8 308.0M370.0 301.6L449.2 338.0M370.4 369.1L448.8 376.6M370.0 328.5L449.2 364.9M370.3 340.8L448.9 354.3M370.2 335.3L449.0 312.7M370.2 341.5L449.0 367.1M370.4 338.4L448.8 339.9M369.3 377.4L449.9 311.1M370.1 316.5L449.1 346.7M370.4 301.6L448.8 306.1M370.4 316.1L448.8 310.1M370.4 308.5L448.8 316.0M370.2 348.1L449.0 372.3M370.4 346.7L448.8 346.7M370.2 319.4L449.0 342.1M369.5 309.2L449.7 367.5M369.9 328.7L449.3 369.8M370.4 361.7L448.8 358.7M370.3 298.7L448.9 312.3M370.2 342.1L449.0 319.4M370.4 314.9L448.8 317.9M370.3 350.9L448.9 364.4M370.1 316.5L449.1 346.7M370.3 329.4L448.9 349.0M369.7 308.8L449.5 356.1M370.4 316.4L448.8 316.4M370.4 357.1L448.8 361.6M370.3 349.6L448.9 369.2M370.0 326.7L449.2 360.0M369.9 322.0L449.3 363.1M370.1 299.7L449.1 331.5M370.4 326.9L448.8 332.9M370.3 337.7L448.9 355.8M370.3 330.9L448.9 318.9M370.3 328.9L448.9 312.4M369.9 311.8L449.3 349.7M370.4 332.2L448.8 342.7M370.3 337.5L448.9 352.6M370.0 349.9L449.2 315.0M370.3 371.1L448.9 356.1M370.4 329.6L448.8 325.1M370.4 319.5L448.8 315.0M370.2 330.2L449.0 306.1M370.4 325.1L448.8 329.6M370.0 325.2L449.2 361.6M370.2 334.6L449.0 357.2M370.4 315.0L448.8 319.5" stroke="#000" stroke-width="1.0" fill="none"/><circle cx="365.6" cy="267.6" r="2.0" fill="none" stroke="#ff7f0e" stroke-width="1.2"/><circle cx="365.6" cy="277.7" r="2.0" fill="none" stroke="#ff7f0e" stroke-width="1.2"/><circle cx="365.6" cy="282.8" r="2.0" fill="none" stroke="#ff7f0e" stroke-width="1.2"/><circle cx="365.6" cy="286.1" r="2.0" fill="none" stroke="#ff7f0e" stroke-width="1.2"/><circle cx="365.6" cy="289.5" r="2.0" fill="none" stroke="#ff7f0e" stroke-width="1.2"/><circle cx="365.6" cy="294.6" r="2.0" fill="none" stroke="#ff7f0e" stroke-width="1.2"/><circle cx="365.6" cy="356.8" r="2.0" fill="none" stroke="#ff7f0e" stroke-width="1.2"/><circle cx="365.6" cy="361.9" r="2.0" fill="none" stroke="#ff7f0e" stroke-width="1.2"/><circle cx="365.6" cy="365.3" r="2.0" fill="none" stroke="#ff7f0e" stroke-width="1.2"/><circle cx="365.6" cy="368.6" r="2.0" fill="none" stroke="#ff7f0e" stroke-width="1.2"/><circle cx="365.6" cy="372.0" r="2.0" fill="none" stroke="#ff7f0e" stroke-width="1.2"/><circle cx="365.6" cy="377.0" r="2.0" fill="none" stroke="#ff7f0e" stroke-width="1.2"/><circle cx="365.6" cy="380.4" r="2.0" fill="none" stroke="#ff7f0e" stroke-width="1.2"/><circle cx="365.6" cy="382.1" r="2.0" fill="none" stroke="#ff7f0e" stroke-width="1.2"/><circle cx="365.6" cy="297.9" r="2.0" fill="none" stroke="#ff7f0e" stroke-width="1.2"/><circle cx="365.6" cy="297.9" r="2.0" fill="none" stroke="#ff7f0e" stroke-width="1.2"/><circle cx="365.6" cy="299.6" r="2.0" fill="none" stroke="#ff7f0e" stroke-width="1.2"/><circle cx="365.6" cy="299.6" r="2.0" fill="none" stroke="#ff7f0e" stroke-width="1.2"/><circle cx="365.6" cy="301.3" r="2.0" fill="none" stroke="#ff7f0e" stroke-width="1.2"/><circle cx="365.6" cy="301.3" r="2.0" fill="none" stroke="#ff7f0e" stroke-width="1.2"/><circle cx="365.6" cy="303.0" r="2.0" fill="none" stroke="#ff7f0e" stroke-width="1.2"/><circle cx="365.6" cy="304.7" r="2.0" fill="none" stroke="#ff7f0e" stroke-width="1.2"/><circle cx="365.6" cy="304.7" r="2.0" fill="none" stroke="#ff7f0e" stroke-width="1.2"/><circle cx="365.6" cy="306.3" r="2.0" fill="none" stroke="#ff7f0e" stroke-width="1.2"/><circle cx="365.6" cy="306.3" r="2.0" fill="none" stroke="#ff7f0e" stroke-width="1.2"/><circle cx="365.6" cy="308.0" r="2.0" fill="none" stroke="#ff7f0e" stroke-width="1.2"/><circle cx="365.6" cy="308.0" r="2.0" fill="none" stroke="#ff7f0e" stroke-width="1.2"/><circle cx="365.6" cy="308.0" r="2.0" fill="none" stroke="#ff7f0e" stroke-width="1.2"/><circle cx="365.6" cy="309.7" r="2.0" fill="none" stroke="#ff7f0e" stroke-width="1.2"/><circle cx="365.6" cy="309.7" r="2.0" fill="none" stroke="#ff7f0e" stroke-width="1.2"/><circle cx="365.6" cy="311.4" r="2.0" fill="none" stroke="#ff7f0e" stroke-width="1.2"/><circle cx="365.6" cy="311.4" r="2.0" fill="none" stroke="#ff7f0e" stroke-width="1.2"/><circle cx="365.6" cy="313.1" r="2.0" fill="none" stroke="#ff7f0e" stroke-width="1.2"/><circle cx="365.6" cy="314.8" r="2.0" fill="none" stroke="#ff7f0e" stroke-width="1.2"/><circle cx="365.6" cy="314.8" r="2.0" fill="none" stroke="#ff7f0e" stroke-width="1.2"/><circle cx="365.6" cy="314.8" r="2.0" fill="none" stroke="#ff7f0e" stroke-width="1.2"/><circle cx="365.6" cy="314.8" r="2.0" fill="none" stroke="#ff7f0e" stroke-width="1.2"/><circle cx="365.6" cy="316.4" r="2.0" fill="none" stroke="#ff7f0e" stroke-width="1.2"/><circle cx="365.6" cy="316.4" r="2.0" fill="none" stroke="#ff7f0e" stroke-width="1.2"/><circle cx="365.6" cy="316.4" r="2.0" fill="none" stroke="#ff7f0e" stroke-width="1.2"/><circle cx="365.6" cy="318.1" r="2.0" fill="none" stroke="#ff7f0e" stroke-width="1.2"/><circle cx="365.6" cy="318.1" r="2.0" fill="none" stroke="#ff7f0e" stroke-width="1.2"/><circle cx="365.6" cy="318.1" r="2.0" fill="none" stroke="#ff7f0e" stroke-width="1.2"/><circle cx="365.6" cy="319.8" r="2.0" fill="none" stroke="#ff7f0e" stroke-width="1.2"/><circle cx="365.6" cy="319.8" r="2.0" fill="none" stroke="#ff7f0e" stroke-width="1.2"/><circle cx="365.6" cy="319.8" r="2.0" fill="none" stroke="#ff7f0e" stroke-width="1.2"/><circle cx="365.6" cy="319.8" r="2.0" fill="none" stroke="#ff7f0e" stroke-width="1.2"/><circle cx="365.6" cy="321.5" r="2.0" fill="none" stroke="#ff7f0e" stroke-width="1.2"/><circle cx="365.6" cy="321.5" r="2.0" fill="none" stroke="#ff7f0e" stroke-width="1.2"/><circle cx="365.6" cy="321.5" r="2.0" fill="none" stroke="#ff7f0e" stroke-width="1.2"/><circle cx="365.6" cy="323.2" r="2.0" fill="none" stroke="#ff7f0e" stroke-width="1.2"/><circle cx="365.6" cy="323.2" r="2.0" fill="none" stroke="#ff7f0e" stroke-width="1.2"/><circle cx="365.6" cy="324.9" r="2.0" fill="none" stroke="#ff7f0e" stroke-width="1.2"/><circle cx="365.6" cy="324.9" r="2.0" fill="none" stroke="#ff7f0e" stroke-width="1.2"/><circle cx="365.6" cy="324.9" r="2.0" fill="none" stroke="#ff7f0e" stroke-width="1.2"/><circle cx="365.6" cy="324.9" r="2.0" fill="none" stroke="#ff7f0e" stroke-width="1.2"/><circle cx="365.6" cy="326.5" r="2.0" fill="none" stroke="#ff7f0e" stroke-width="1.2"/><circle cx="365.6" cy="326.5" r="2.0" fill="none" stroke="#ff7f0e" stroke-width="1.2"/><circle cx="365.6" cy="326.5" r="2.0" fill="none" stroke="#ff7f0e" stroke-width="1.2"/><circle cx="365.6" cy="328.2" r="2.0" fill="none" stroke="#ff7f0e" stroke-width="1.2"/><circle cx="365.6" cy="328.2" r="2.0" fill="none" stroke="#ff7f0e" stroke-width="1.2"/><circle cx="365.6" cy="328.2" r="2.0" fill="none" stroke="#ff7f0e" stroke-width="1.2"/><circle cx="365.6" cy="329.9" r="2.0" fill="none" stroke="#ff7f0e" stroke-width="1.2"/><circle cx="365.6" cy="329.9" r="2.0" fill="none" stroke="#ff7f0e" stroke-width="1.2"/><circle cx="365.6" cy="329.9" r="2.0" fill="none" stroke="#ff7f0e" stroke-width="1.2"/><circle cx="365.6" cy="331.6" r="2.0" fill="none" stroke="#ff7f0e" stroke-width="1.2"/><circle cx="365.6" cy="331.6" r="2.0" fill="none" stroke="#ff7f0e" stroke-width="1.2"/><circle cx="365.6" cy="331.6" r="2.0" fill="none" stroke="#ff7f0e" stroke-width="1.2"/><circle cx="365.6" cy="333.3" r="2.0" fill="none" stroke="#ff7f0e" stroke-width="1.2"/><circle cx="365.6" cy="333.3" r="2.0" fill="none" stroke="#ff7f0e" stroke-width="1.2"/><circle cx="365.6" cy="333.3" r="2.0" fill="none" stroke="#ff7f0e" stroke-width="1.2"/><circle cx="365.6" cy="335.0" r="2.0" fill="none" stroke="#ff7f0e" stroke-width="1.2"/><circle cx="365.6" cy="335.0" r="2.0" fill="none" stroke="#ff7f0e" stroke-width="1.2"/><circle cx="365.6" cy="336.6" r="2.0" fill="none" stroke="#ff7f0e" stroke-width="1.2"/><circle cx="365.6" cy="336.6" r="2.0" fill="none" stroke="#ff7f0e" stroke-width="1.2"/><circle cx="365.6" cy="336.6" r="2.0" fill="none" stroke="#ff7f0e" stroke-width="1.2"/><circle cx="365.6" cy="338.3" r="2.0" fill="none" stroke="#ff7f0e" stroke-width="1.2"/><circle cx="365.6" cy="338.3" r="2.0" fill="none" stroke="#ff7f0e" stroke-width="1.2"/><circle cx="365.6" cy="340.0" r="2.0" fill="none" stroke="#ff7f0e" stroke-width="1.2"/><circle cx="365.6" cy="340.0" r="2.0" fill="none" stroke="#ff7f0e" stroke-width="1.2"/><circle cx="365.6" cy="340.0" r="2.0" fill="none" stroke="#ff7f0e" stroke-width="1.2"/><circle cx="365.6" cy="341.7" r="2.0" fill="none" stroke="#ff7f0e" stroke-width="1.2"/><circle cx="365.6" cy="341.7" r="2.0" fill="none" stroke="#ff7f0e" stroke-width="1.2"/><circle cx="365.6" cy="343.4" r="2.0" fill="none" stroke="#ff7f0e" stroke-width="1.2"/><circle cx="365.6" cy="343.4" r="2.0" fill="none" stroke="#ff7f0e" stroke-width="1.2"/><circle cx="365.6" cy="343.4" r="2.0" fill="none" stroke="#ff7f0e" stroke-width="1.2"/><circle cx="365.6" cy="345.1" r="2.0" fill="none" stroke="#ff7f0e" stroke-width="1.2"/><circle cx="365.6" cy="345.1" r="2.0" fill="none" stroke="#ff7f0e" stroke-width="1.2"/><circle cx="365.6" cy="346.7" r="2.0" fill="none" stroke="#ff7f0e" stroke-width="1.2"/><circle cx="365.6" cy="346.7" r="2.0" fill="none" stroke="#ff7f0e" stroke-width="1.2"/><circle cx="365.6" cy="346.7" r="2.0" fill="none" stroke="#ff7f0e" stroke-width="1.2"/><circle cx="365.6" cy="348.4" r="2.0" fill="none" stroke="#ff7f0e" stroke-width="1.2"/><circle cx="365.6" cy="348.4" r="2.0" fill="none" stroke="#ff7f0e" stroke-width="1.2"/><circle cx="365.6" cy="348.4" r="2.0" fill="none" stroke="#ff7f0e" stroke-width="1.2"/><circle cx="365.6" cy="350.1" r="2.0" fill="none" stroke="#ff7f0e" stroke-width="1.2"/><circle cx="365.6" cy="350.1" r="2.0" fill="none" stroke="#ff7f0e" stroke-width="1.2"/><circle cx="365.6" cy="350.1" r="2.0" fill="none" stroke="#ff7f0e" stroke-width="1.2"/><circle cx="365.6" cy="351.8" r="2.0" fill="none" stroke="#ff7f0e" stroke-width="1.2"/><circle cx="453.6" cy="294.6" r="2.0" fill="none" stroke="#fbb443" stroke-width="1.2"/><circle cx="453.6" cy="373.7" r="2.0" fill="none" stroke="#fbb443" stroke-width="1.2"/><circle cx="453.6" cy="377.0" r="2.0" fill="none" stroke="#fbb443" stroke-width="1.2"/><circle cx="453.6" cy="380.4" r="2.0" fill="none" stroke="#fbb443" stroke-width="1.2"/><circle cx="453.6" cy="385.5" r="2.0" fill="none" stroke="#fbb443" stroke-width="1.2"/><circle cx="453.6" cy="303.0" r="2.0" fill="none" stroke="#fbb443" stroke-width="1.2"/><circle cx="453.6" cy="304.7" r="2.0" fill="none" stroke="#fbb443" stroke-width="1.2"/><circle cx="453.6" cy="306.3" r="2.0" fill="none" stroke="#fbb443" stroke-width="1.2"/><circle cx="453.6" cy="306.3" r="2.0" fill="none" stroke="#fbb443" stroke-width="1.2"/><circle cx="453.6" cy="306.3" r="2.0" fill="none" stroke="#fbb443" stroke-width="1.2"/><circle cx="453.6" cy="308.0" r="2.0" fill="none" stroke="#fbb443" stroke-width="1.2"/><circle cx="453.6" cy="308.0" r="2.0" fill="none" stroke="#fbb443" stroke-width="1.2"/><circle cx="453.6" cy="309.7" r="2.0" fill="none" stroke="#fbb443" stroke-width="1.2"/><circle cx="453.6" cy="309.7" r="2.0" fill="none" stroke="#fbb443" stroke-width="1.2"/><circle cx="453.6" cy="311.4" r="2.0" fill="none" stroke="#fbb443" stroke-width="1.2"/><circle cx="453.6" cy="311.4" r="2.0" fill="none" stroke="#fbb443" stroke-width="1.2"/><circle cx="453.6" cy="311.4" r="2.0" fill="none" stroke="#fbb443" stroke-width="1.2"/><circle cx="453.6" cy="311.4" r="2.0" fill="none" stroke="#fbb443" stroke-width="1.2"/><circle cx="453.6" cy="313.1" r="2.0" fill="none" stroke="#fbb443" stroke-width="1.2"/><circle cx="453.6" cy="313.1" r="2.0" fill="none" stroke="#fbb443" stroke-width="1.2"/><circle cx="453.6" cy="313.1" r="2.0" fill="none" stroke="#fbb443" stroke-width="1.2"/><circle cx="453.6" cy="313.1" r="2.0" fill="none" stroke="#fbb443" stroke-width="1.2"/><circle cx="453.6" cy="314.8" r="2.0" fill="none" stroke="#fbb443" stroke-width="1.2"/><circle cx="453.6" cy="316.4" r="2.0" fill="none" stroke="#fbb443" stroke-width="1.2"/><circle cx="453.6" cy="316.4" r="2.0" fill="none" stroke="#fbb443" stroke-width="1.2"/><circle cx="453.6" cy="316.4" r="2.0" fill="none" stroke="#fbb443" stroke-width="1.2"/><circle cx="453.6" cy="318.1" r="2.0" fill="none" stroke="#fbb443" stroke-width="1.2"/><circle cx="453.6" cy="318.1" r="2.0" fill="none" stroke="#fbb443" stroke-width="1.2"/><circle cx="453.6" cy="318.1" r="2.0" fill="none" stroke="#fbb443" stroke-width="1.2"/><circle cx="453.6" cy="319.8" r="2.0" fill="none" stroke="#fbb443" stroke-width="1.2"/><circle cx="453.6" cy="319.8" r="2.0" fill="none" stroke="#fbb443" stroke-width="1.2"/><circle cx="453.6" cy="321.5" r="2.0" fill="none" stroke="#fbb443" stroke-width="1.2"/><circle cx="453.6" cy="323.2" r="2.0" fill="none" stroke="#fbb443" stroke-width="1.2"/><circle cx="453.6" cy="323.2" r="2.0" fill="none" stroke="#fbb443" stroke-width="1.2"/><circle cx="453.6" cy="324.9" r="2.0" fill="none" stroke="#fbb443" stroke-width="1.2"/><circle cx="453.6" cy="324.9" r="2.0" fill="none" stroke="#fbb443" stroke-width="1.2"/><circle cx="453.6" cy="324.9" r="2.0" fill="none" stroke="#fbb443" stroke-width="1.2"/><circle cx="453.6" cy="328.2" r="2.0" fill="none" stroke="#fbb443" stroke-width="1.2"/><circle cx="453.6" cy="328.2" r="2.0" fill="none" stroke="#fbb443" stroke-width="1.2"/><circle cx="453.6" cy="328.2" r="2.0" fill="none" stroke="#fbb443" stroke-width="1.2"/><circle cx="453.6" cy="328.2" r="2.0" fill="none" stroke="#fbb443" stroke-width="1.2"/><circle cx="453.6" cy="329.9" r="2.0" fill="none" stroke="#fbb443" stroke-width="1.2"/><circle cx="453.6" cy="329.9" r="2.0" fill="none" stroke="#fbb443" stroke-width="1.2"/><circle cx="453.6" cy="329.9" r="2.0" fill="none" stroke="#fbb443" stroke-width="1.2"/><circle cx="453.6" cy="331.6" r="2.0" fill="none" stroke="#fbb443" stroke-width="1.2"/><circle cx="453.6" cy="331.6" r="2.0" fill="none" stroke="#fbb443" stroke-width="1.2"/><circle cx="453.6" cy="333.3" r="2.0" fill="none" stroke="#fbb443" stroke-width="1.2"/><circle cx="453.6" cy="333.3" r="2.0" fill="none" stroke="#fbb443" stroke-width="1.2"/><circle cx="453.6" cy="333.3" r="2.0" fill="none" stroke="#fbb443" stroke-width="1.2"/><circle cx="453.6" cy="335.0" r="2.0" fill="none" stroke="#fbb443" stroke-width="1.2"/><circle cx="453.6" cy="335.0" r="2.0" fill="none" stroke="#fbb443" stroke-width="1.2"/><circle cx="453.6" cy="336.6" r="2.0" fill="none" stroke="#fbb443" stroke-width="1.2"/><circle cx="453.6" cy="338.3" r="2.0" fill="none" stroke="#fbb443" stroke-width="1.2"/><circle cx="453.6" cy="338.3" r="2.0" fill="none" stroke="#fbb443" stroke-width="1.2"/><circle cx="453.6" cy="340.0" r="2.0" fill="none" stroke="#fbb443" stroke-width="1.2"/><circle cx="453.6" cy="340.0" r="2.0" fill="none" stroke="#fbb443" stroke-width="1.2"/><circle cx="453.6" cy="343.4" r="2.0" fill="none" stroke="#fbb443" stroke-width="1.2"/><circle cx="453.6" cy="343.4" r="2.0" fill="none" stroke="#fbb443" stroke-width="1.2"/><circle cx="453.6" cy="343.4" r="2.0" fill="none" stroke="#fbb443" stroke-width="1.2"/><circle cx="453.6" cy="345.1" r="2.0" fill="none" stroke="#fbb443" stroke-width="1.2"/><circle cx="453.6" cy="346.7" r="2.0" fill="none" stroke="#fbb443" stroke-width="1.2"/><circle cx="453.6" cy="348.4" r="2.0" fill="none" stroke="#fbb443" stroke-width="1.2"/><circle cx="453.6" cy="348.4" r="2.0" fill="none" stroke="#fbb443" stroke-width="1.2"/><circle cx="453.6" cy="348.4" r="2.0" fill="none" stroke="#fbb443" stroke-width="1.2"/><circle cx="453.6" cy="348.4" r="2.0" fill="none" stroke="#fbb443" stroke-width="1.2"/><circle cx="453.6" cy="348.4" r="2.0" fill="none" stroke="#fbb443" stroke-width="1.2"/><circle cx="453.6" cy="350.1" r="2.0" fill="none" stroke="#fbb443" stroke-width="1.2"/><circle cx="453.6" cy="350.1" r="2.0" fill="none" stroke="#fbb443" stroke-width="1.2"/><circle cx="453.6" cy="351.8" r="2.0" fill="none" stroke="#fbb443" stroke-width="1.2"/><circle cx="453.6" cy="351.8" r="2.0" fill="none" stroke="#fbb443" stroke-width="1.2"/><circle cx="453.6" cy="351.8" r="2.0" fill="none" stroke="#fbb443" stroke-width="1.2"/><circle cx="453.6" cy="351.8" r="2.0" fill="none" stroke="#fbb443" stroke-width="1.2"/><circle cx="453.6" cy="351.8" r="2.0" fill="none" stroke="#fbb443" stroke-width="1.2"/><circle cx="453.6" cy="353.5" r="2.0" fill="none" stroke="#fbb443" stroke-width="1.2"/><circle cx="453.6" cy="353.5" r="2.0" fill="none" stroke="#fbb443" stroke-width="1.2"/><circle cx="453.6" cy="353.5" r="2.0" fill="none" stroke="#fbb443" stroke-width="1.2"/><circle cx="453.6" cy="355.2" r="2.0" fill="none" stroke="#fbb443" stroke-width="1.2"/><circle cx="453.6" cy="355.2" r="2.0" fill="none" stroke="#fbb443" stroke-width="1.2"/><circle cx="453.6" cy="356.8" r="2.0" fill="none" stroke="#fbb443" stroke-width="1.2"/><circle cx="453.6" cy="356.8" r="2.0" fill="none" stroke="#fbb443" stroke-width="1.2"/><circle cx="453.6" cy="358.5" r="2.0" fill="none" stroke="#fbb443" stroke-width="1.2"/><circle cx="453.6" cy="358.5" r="2.0" fill="none" stroke="#fbb443" stroke-width="1.2"/><circle cx="453.6" cy="358.5" r="2.0" fill="none" stroke="#fbb443" stroke-width="1.2"/><circle cx="453.6" cy="358.5" r="2.0" fill="none" stroke="#fbb443" stroke-width="1.2"/><circle cx="453.6" cy="361.9" r="2.0" fill="none" stroke="#fbb443" stroke-width="1.2"/><circle cx="453.6" cy="361.9" r="2.0" fill="none" stroke="#fbb443" stroke-width="1.2"/><circle cx="453.6" cy="361.9" r="2.0" fill="none" stroke="#fbb443" stroke-width="1.2"/><circle cx="453.6" cy="363.6" r="2.0" fill="none" stroke="#fbb443" stroke-width="1.2"/><circle cx="453.6" cy="363.6" r="2.0" fill="none" stroke="#fbb443" stroke-width="1.2"/><circle cx="453.6" cy="363.6" r="2.0" fill="none" stroke="#fbb443" stroke-width="1.2"/><circle cx="453.6" cy="365.3" r="2.0" fill="none" stroke="#fbb443" stroke-width="1.2"/><circle cx="453.6" cy="365.3" r="2.0" fill="none" stroke="#fbb443" stroke-width="1.2"/><circle cx="453.6" cy="366.9" r="2.0" fill="none" stroke="#fbb443" stroke-width="1.2"/><circle cx="453.6" cy="368.6" r="2.0" fill="none" stroke="#fbb443" stroke-width="1.2"/><circle cx="453.6" cy="370.3" r="2.0" fill="none" stroke="#fbb443" stroke-width="1.2"/><circle cx="453.6" cy="370.3" r="2.0" fill="none" stroke="#fbb443" stroke-width="1.2"/><circle cx="453.6" cy="372.0" r="2.0" fill="none" stroke="#fbb443" stroke-width="1.2"/><rect x="341.70" y="244.40" width="135.90" height="163.90" fill="none" stroke="#1a1a1a" stroke-width="1"/><line x1="335.70" y1="402.30" x2="341.70" y2="402.30" stroke="#1a1a1a" stroke-width="1"/><text x="329.10" y="402.30" font-size="9.3" text-anchor="middle" transform="rotate(-90 329.10 402.30)" fill="#000">0</text><line x1="335.70" y1="368.63" x2="341.70" y2="368.63" stroke="#1a1a1a" stroke-width="1"/><text x="329.10" y="368.63" font-size="9.3" text-anchor="middle" transform="rotate(-90 329.10 368.63)" fill="#000">10</text><line x1="335.70" y1="334.96" x2="341.70" y2="334.96" stroke="#1a1a1a" stroke-width="1"/><text x="329.10" y="334.96" font-size="9.3" text-anchor="middle" transform="rotate(-90 329.10 334.96)" fill="#000">20</text><line x1="335.70" y1="301.29" x2="341.70" y2="301.29" stroke="#1a1a1a" stroke-width="1"/><text x="329.10" y="301.29" font-size="9.3" text-anchor="middle" transform="rotate(-90 329.10 301.29)" fill="#000">30</text><line x1="335.70" y1="267.62" x2="341.70" y2="267.62" stroke="#1a1a1a" stroke-width="1"/><text x="329.10" y="267.62" font-size="9.3" text-anchor="middle" transform="rotate(-90 329.10 267.62)" fill="#000">40</text><text x="308.80" y="326.00" font-size="13.2" text-anchor="middle" font-weight="bold" transform="rotate(-90 308.80 326.00)" fill="#000">Lifespan</text><text x="319.60" y="326.00" font-size="11.1" text-anchor="middle" transform="rotate(-90 319.60 326.00)" fill="#000">(days)</text><text x="364.50" y="257.00" font-size="8.9" text-anchor="start" fill="#000">n =&#160; 98</text><text x="427.60" y="257.00" font-size="8.9" text-anchor="start" fill="#000">n =&#160; 97</text><text x="409.65" y="441.50" font-size="13.2" text-anchor="middle" font-weight="bold" fill="#000">Diet</text><text x="298.50" y="238.50" font-size="13.3" text-anchor="start" fill="#000">D</text><rect x="490.60" y="265.30" width="193.80" height="117.40" fill="none" stroke="#1a1a1a" stroke-width="1"/><circle cx="503.2" cy="278.10" r="2.6" fill="none" stroke="#8e5ec0" stroke-width="1.2"/><text x="522.70" y="282.10" font-size="10.95" text-anchor="start" fill="#000">Dry weight control diet</text><circle cx="503.2" cy="291.25" r="2.6" fill="none" stroke="#c54fa5" stroke-width="1.2"/><text x="522.70" y="295.25" font-size="10.95" text-anchor="start" fill="#000">Dry weight restricted diet</text><circle cx="503.2" cy="304.40" r="2.6" fill="none" stroke="#2a79ae" stroke-width="1.2"/><text x="522.70" y="308.40" font-size="10.95" text-anchor="start" fill="#000">Locomotor activity control diet</text><circle cx="503.2" cy="317.55" r="2.6" fill="none" stroke="#20a7b2" stroke-width="1.2"/><text x="522.70" y="321.55" font-size="10.95" text-anchor="start" fill="#000">Locomotor activity restricted diet</text><circle cx="503.2" cy="330.70" r="2.6" fill="none" stroke="#2ca02c" stroke-width="1.2"/><text x="522.70" y="334.70" font-size="10.95" text-anchor="start" fill="#000">HKDT control diet</text><circle cx="503.2" cy="343.85" r="2.6" fill="none" stroke="#bcbd22" stroke-width="1.2"/><text x="522.70" y="347.85" font-size="10.95" text-anchor="start" fill="#000">HKDT restricted diet</text><circle cx="503.2" cy="357.00" r="2.6" fill="none" stroke="#ff7f0e" stroke-width="1.2"/><text x="522.70" y="361.00" font-size="10.95" text-anchor="start" fill="#000">Lifespan control diet</text><circle cx="503.2" cy="370.15" r="2.6" fill="none" stroke="#fbb443" stroke-width="1.2"/><text x="522.70" y="374.15" font-size="10.95" text-anchor="start" fill="#000">Lifespan restricted diet</text></svg></body></html>
